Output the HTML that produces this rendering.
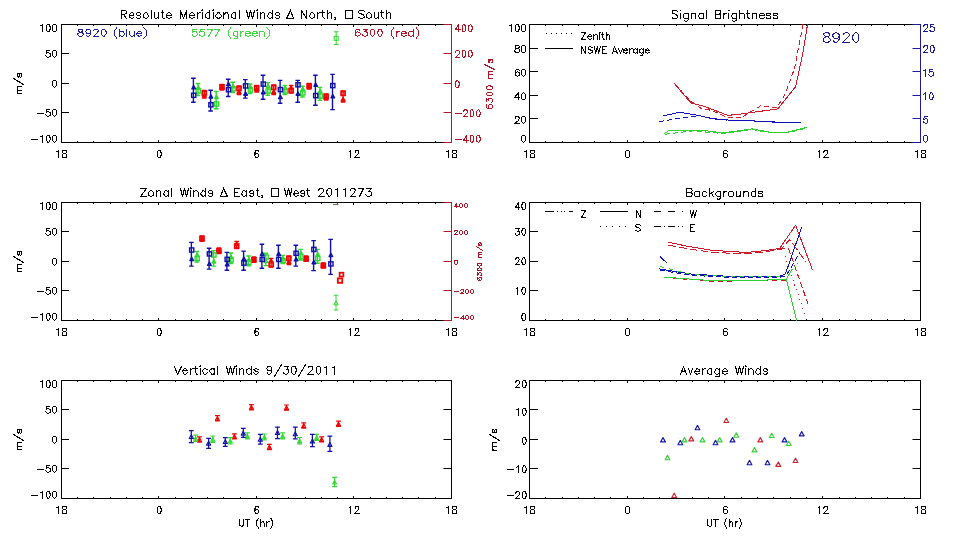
<!DOCTYPE html>
<html><head><meta charset="utf-8"><style>
html,body{margin:0;padding:0;background:#fff;}
svg{display:block;}
text{font-family:"Liberation Sans", sans-serif;}
</style></head><body>
<svg width="960" height="540" viewBox="0 0 960 540">
<rect width="960" height="540" fill="#fff"/>
<line x1="61.50" y1="142.50" x2="61.50" y2="140.00" stroke="#000000" stroke-width="1.0" />
<line x1="61.50" y1="24.50" x2="61.50" y2="27.00" stroke="#000000" stroke-width="1.0" />
<line x1="77.50" y1="142.50" x2="77.50" y2="141.00" stroke="#000000" stroke-width="1.0" />
<line x1="77.50" y1="24.50" x2="77.50" y2="26.00" stroke="#000000" stroke-width="1.0" />
<line x1="93.50" y1="142.50" x2="93.50" y2="141.00" stroke="#000000" stroke-width="1.0" />
<line x1="93.50" y1="24.50" x2="93.50" y2="26.00" stroke="#000000" stroke-width="1.0" />
<line x1="110.50" y1="142.50" x2="110.50" y2="141.00" stroke="#000000" stroke-width="1.0" />
<line x1="110.50" y1="24.50" x2="110.50" y2="26.00" stroke="#000000" stroke-width="1.0" />
<line x1="126.50" y1="142.50" x2="126.50" y2="141.00" stroke="#000000" stroke-width="1.0" />
<line x1="126.50" y1="24.50" x2="126.50" y2="26.00" stroke="#000000" stroke-width="1.0" />
<line x1="142.50" y1="142.50" x2="142.50" y2="141.00" stroke="#000000" stroke-width="1.0" />
<line x1="142.50" y1="24.50" x2="142.50" y2="26.00" stroke="#000000" stroke-width="1.0" />
<line x1="158.50" y1="142.50" x2="158.50" y2="140.00" stroke="#000000" stroke-width="1.0" />
<line x1="158.50" y1="24.50" x2="158.50" y2="27.00" stroke="#000000" stroke-width="1.0" />
<line x1="175.50" y1="142.50" x2="175.50" y2="141.00" stroke="#000000" stroke-width="1.0" />
<line x1="175.50" y1="24.50" x2="175.50" y2="26.00" stroke="#000000" stroke-width="1.0" />
<line x1="191.50" y1="142.50" x2="191.50" y2="141.00" stroke="#000000" stroke-width="1.0" />
<line x1="191.50" y1="24.50" x2="191.50" y2="26.00" stroke="#000000" stroke-width="1.0" />
<line x1="207.50" y1="142.50" x2="207.50" y2="141.00" stroke="#000000" stroke-width="1.0" />
<line x1="207.50" y1="24.50" x2="207.50" y2="26.00" stroke="#000000" stroke-width="1.0" />
<line x1="223.50" y1="142.50" x2="223.50" y2="141.00" stroke="#000000" stroke-width="1.0" />
<line x1="223.50" y1="24.50" x2="223.50" y2="26.00" stroke="#000000" stroke-width="1.0" />
<line x1="240.50" y1="142.50" x2="240.50" y2="141.00" stroke="#000000" stroke-width="1.0" />
<line x1="240.50" y1="24.50" x2="240.50" y2="26.00" stroke="#000000" stroke-width="1.0" />
<line x1="256.50" y1="142.50" x2="256.50" y2="140.00" stroke="#000000" stroke-width="1.0" />
<line x1="256.50" y1="24.50" x2="256.50" y2="27.00" stroke="#000000" stroke-width="1.0" />
<line x1="272.50" y1="142.50" x2="272.50" y2="141.00" stroke="#000000" stroke-width="1.0" />
<line x1="272.50" y1="24.50" x2="272.50" y2="26.00" stroke="#000000" stroke-width="1.0" />
<line x1="288.50" y1="142.50" x2="288.50" y2="141.00" stroke="#000000" stroke-width="1.0" />
<line x1="288.50" y1="24.50" x2="288.50" y2="26.00" stroke="#000000" stroke-width="1.0" />
<line x1="305.50" y1="142.50" x2="305.50" y2="141.00" stroke="#000000" stroke-width="1.0" />
<line x1="305.50" y1="24.50" x2="305.50" y2="26.00" stroke="#000000" stroke-width="1.0" />
<line x1="321.50" y1="142.50" x2="321.50" y2="141.00" stroke="#000000" stroke-width="1.0" />
<line x1="321.50" y1="24.50" x2="321.50" y2="26.00" stroke="#000000" stroke-width="1.0" />
<line x1="337.50" y1="142.50" x2="337.50" y2="141.00" stroke="#000000" stroke-width="1.0" />
<line x1="337.50" y1="24.50" x2="337.50" y2="26.00" stroke="#000000" stroke-width="1.0" />
<line x1="353.50" y1="142.50" x2="353.50" y2="140.00" stroke="#000000" stroke-width="1.0" />
<line x1="353.50" y1="24.50" x2="353.50" y2="27.00" stroke="#000000" stroke-width="1.0" />
<line x1="370.50" y1="142.50" x2="370.50" y2="141.00" stroke="#000000" stroke-width="1.0" />
<line x1="370.50" y1="24.50" x2="370.50" y2="26.00" stroke="#000000" stroke-width="1.0" />
<line x1="386.50" y1="142.50" x2="386.50" y2="141.00" stroke="#000000" stroke-width="1.0" />
<line x1="386.50" y1="24.50" x2="386.50" y2="26.00" stroke="#000000" stroke-width="1.0" />
<line x1="402.50" y1="142.50" x2="402.50" y2="141.00" stroke="#000000" stroke-width="1.0" />
<line x1="402.50" y1="24.50" x2="402.50" y2="26.00" stroke="#000000" stroke-width="1.0" />
<line x1="418.50" y1="142.50" x2="418.50" y2="141.00" stroke="#000000" stroke-width="1.0" />
<line x1="418.50" y1="24.50" x2="418.50" y2="26.00" stroke="#000000" stroke-width="1.0" />
<line x1="435.50" y1="142.50" x2="435.50" y2="141.00" stroke="#000000" stroke-width="1.0" />
<line x1="435.50" y1="24.50" x2="435.50" y2="26.00" stroke="#000000" stroke-width="1.0" />
<line x1="451.50" y1="142.50" x2="451.50" y2="140.00" stroke="#000000" stroke-width="1.0" />
<line x1="451.50" y1="24.50" x2="451.50" y2="27.00" stroke="#000000" stroke-width="1.0" />
<line x1="61.00" y1="142.50" x2="452.00" y2="142.50" stroke="#000000" stroke-width="1.0" />
<line x1="61.00" y1="24.50" x2="452.00" y2="24.50" stroke="#000000" stroke-width="1.0" />
<line x1="61.50" y1="24.00" x2="61.50" y2="143.00" stroke="#000000" stroke-width="1.0" />
<line x1="61.50" y1="24.50" x2="69.00" y2="24.50" stroke="#000000" stroke-width="1.0" />
<line x1="61.50" y1="53.50" x2="69.00" y2="53.50" stroke="#000000" stroke-width="1.0" />
<line x1="61.50" y1="83.50" x2="69.00" y2="83.50" stroke="#000000" stroke-width="1.0" />
<line x1="61.50" y1="112.50" x2="69.00" y2="112.50" stroke="#000000" stroke-width="1.0" />
<line x1="61.50" y1="142.50" x2="69.00" y2="142.50" stroke="#000000" stroke-width="1.0" />
<line x1="529.50" y1="142.50" x2="529.50" y2="140.00" stroke="#000000" stroke-width="1.0" />
<line x1="529.50" y1="24.50" x2="529.50" y2="27.00" stroke="#000000" stroke-width="1.0" />
<line x1="545.50" y1="142.50" x2="545.50" y2="141.00" stroke="#000000" stroke-width="1.0" />
<line x1="545.50" y1="24.50" x2="545.50" y2="26.00" stroke="#000000" stroke-width="1.0" />
<line x1="562.50" y1="142.50" x2="562.50" y2="141.00" stroke="#000000" stroke-width="1.0" />
<line x1="562.50" y1="24.50" x2="562.50" y2="26.00" stroke="#000000" stroke-width="1.0" />
<line x1="578.50" y1="142.50" x2="578.50" y2="141.00" stroke="#000000" stroke-width="1.0" />
<line x1="578.50" y1="24.50" x2="578.50" y2="26.00" stroke="#000000" stroke-width="1.0" />
<line x1="594.50" y1="142.50" x2="594.50" y2="141.00" stroke="#000000" stroke-width="1.0" />
<line x1="594.50" y1="24.50" x2="594.50" y2="26.00" stroke="#000000" stroke-width="1.0" />
<line x1="610.50" y1="142.50" x2="610.50" y2="141.00" stroke="#000000" stroke-width="1.0" />
<line x1="610.50" y1="24.50" x2="610.50" y2="26.00" stroke="#000000" stroke-width="1.0" />
<line x1="627.50" y1="142.50" x2="627.50" y2="140.00" stroke="#000000" stroke-width="1.0" />
<line x1="627.50" y1="24.50" x2="627.50" y2="27.00" stroke="#000000" stroke-width="1.0" />
<line x1="643.50" y1="142.50" x2="643.50" y2="141.00" stroke="#000000" stroke-width="1.0" />
<line x1="643.50" y1="24.50" x2="643.50" y2="26.00" stroke="#000000" stroke-width="1.0" />
<line x1="659.50" y1="142.50" x2="659.50" y2="141.00" stroke="#000000" stroke-width="1.0" />
<line x1="659.50" y1="24.50" x2="659.50" y2="26.00" stroke="#000000" stroke-width="1.0" />
<line x1="676.50" y1="142.50" x2="676.50" y2="141.00" stroke="#000000" stroke-width="1.0" />
<line x1="676.50" y1="24.50" x2="676.50" y2="26.00" stroke="#000000" stroke-width="1.0" />
<line x1="692.50" y1="142.50" x2="692.50" y2="141.00" stroke="#000000" stroke-width="1.0" />
<line x1="692.50" y1="24.50" x2="692.50" y2="26.00" stroke="#000000" stroke-width="1.0" />
<line x1="708.50" y1="142.50" x2="708.50" y2="141.00" stroke="#000000" stroke-width="1.0" />
<line x1="708.50" y1="24.50" x2="708.50" y2="26.00" stroke="#000000" stroke-width="1.0" />
<line x1="724.50" y1="142.50" x2="724.50" y2="140.00" stroke="#000000" stroke-width="1.0" />
<line x1="724.50" y1="24.50" x2="724.50" y2="27.00" stroke="#000000" stroke-width="1.0" />
<line x1="741.50" y1="142.50" x2="741.50" y2="141.00" stroke="#000000" stroke-width="1.0" />
<line x1="741.50" y1="24.50" x2="741.50" y2="26.00" stroke="#000000" stroke-width="1.0" />
<line x1="757.50" y1="142.50" x2="757.50" y2="141.00" stroke="#000000" stroke-width="1.0" />
<line x1="757.50" y1="24.50" x2="757.50" y2="26.00" stroke="#000000" stroke-width="1.0" />
<line x1="773.50" y1="142.50" x2="773.50" y2="141.00" stroke="#000000" stroke-width="1.0" />
<line x1="773.50" y1="24.50" x2="773.50" y2="26.00" stroke="#000000" stroke-width="1.0" />
<line x1="790.50" y1="142.50" x2="790.50" y2="141.00" stroke="#000000" stroke-width="1.0" />
<line x1="790.50" y1="24.50" x2="790.50" y2="26.00" stroke="#000000" stroke-width="1.0" />
<line x1="806.50" y1="142.50" x2="806.50" y2="141.00" stroke="#000000" stroke-width="1.0" />
<line x1="806.50" y1="24.50" x2="806.50" y2="26.00" stroke="#000000" stroke-width="1.0" />
<line x1="822.50" y1="142.50" x2="822.50" y2="140.00" stroke="#000000" stroke-width="1.0" />
<line x1="822.50" y1="24.50" x2="822.50" y2="27.00" stroke="#000000" stroke-width="1.0" />
<line x1="839.50" y1="142.50" x2="839.50" y2="141.00" stroke="#000000" stroke-width="1.0" />
<line x1="839.50" y1="24.50" x2="839.50" y2="26.00" stroke="#000000" stroke-width="1.0" />
<line x1="855.50" y1="142.50" x2="855.50" y2="141.00" stroke="#000000" stroke-width="1.0" />
<line x1="855.50" y1="24.50" x2="855.50" y2="26.00" stroke="#000000" stroke-width="1.0" />
<line x1="871.50" y1="142.50" x2="871.50" y2="141.00" stroke="#000000" stroke-width="1.0" />
<line x1="871.50" y1="24.50" x2="871.50" y2="26.00" stroke="#000000" stroke-width="1.0" />
<line x1="887.50" y1="142.50" x2="887.50" y2="141.00" stroke="#000000" stroke-width="1.0" />
<line x1="887.50" y1="24.50" x2="887.50" y2="26.00" stroke="#000000" stroke-width="1.0" />
<line x1="904.50" y1="142.50" x2="904.50" y2="141.00" stroke="#000000" stroke-width="1.0" />
<line x1="904.50" y1="24.50" x2="904.50" y2="26.00" stroke="#000000" stroke-width="1.0" />
<line x1="920.50" y1="142.50" x2="920.50" y2="140.00" stroke="#000000" stroke-width="1.0" />
<line x1="920.50" y1="24.50" x2="920.50" y2="27.00" stroke="#000000" stroke-width="1.0" />
<line x1="529.00" y1="142.50" x2="921.00" y2="142.50" stroke="#000000" stroke-width="1.0" />
<line x1="529.00" y1="24.50" x2="921.00" y2="24.50" stroke="#000000" stroke-width="1.0" />
<line x1="529.50" y1="24.00" x2="529.50" y2="143.00" stroke="#000000" stroke-width="1.0" />
<line x1="529.50" y1="24.50" x2="538.00" y2="24.50" stroke="#000000" stroke-width="1.0" />
<line x1="529.50" y1="48.50" x2="538.00" y2="48.50" stroke="#000000" stroke-width="1.0" />
<line x1="529.50" y1="71.50" x2="538.00" y2="71.50" stroke="#000000" stroke-width="1.0" />
<line x1="529.50" y1="95.50" x2="538.00" y2="95.50" stroke="#000000" stroke-width="1.0" />
<line x1="529.50" y1="118.50" x2="538.00" y2="118.50" stroke="#000000" stroke-width="1.0" />
<line x1="529.50" y1="142.50" x2="538.00" y2="142.50" stroke="#000000" stroke-width="1.0" />
<line x1="61.50" y1="320.50" x2="61.50" y2="318.00" stroke="#000000" stroke-width="1.0" />
<line x1="61.50" y1="202.50" x2="61.50" y2="205.00" stroke="#000000" stroke-width="1.0" />
<line x1="77.50" y1="320.50" x2="77.50" y2="319.00" stroke="#000000" stroke-width="1.0" />
<line x1="77.50" y1="202.50" x2="77.50" y2="204.00" stroke="#000000" stroke-width="1.0" />
<line x1="93.50" y1="320.50" x2="93.50" y2="319.00" stroke="#000000" stroke-width="1.0" />
<line x1="93.50" y1="202.50" x2="93.50" y2="204.00" stroke="#000000" stroke-width="1.0" />
<line x1="110.50" y1="320.50" x2="110.50" y2="319.00" stroke="#000000" stroke-width="1.0" />
<line x1="110.50" y1="202.50" x2="110.50" y2="204.00" stroke="#000000" stroke-width="1.0" />
<line x1="126.50" y1="320.50" x2="126.50" y2="319.00" stroke="#000000" stroke-width="1.0" />
<line x1="126.50" y1="202.50" x2="126.50" y2="204.00" stroke="#000000" stroke-width="1.0" />
<line x1="142.50" y1="320.50" x2="142.50" y2="319.00" stroke="#000000" stroke-width="1.0" />
<line x1="142.50" y1="202.50" x2="142.50" y2="204.00" stroke="#000000" stroke-width="1.0" />
<line x1="158.50" y1="320.50" x2="158.50" y2="318.00" stroke="#000000" stroke-width="1.0" />
<line x1="158.50" y1="202.50" x2="158.50" y2="205.00" stroke="#000000" stroke-width="1.0" />
<line x1="175.50" y1="320.50" x2="175.50" y2="319.00" stroke="#000000" stroke-width="1.0" />
<line x1="175.50" y1="202.50" x2="175.50" y2="204.00" stroke="#000000" stroke-width="1.0" />
<line x1="191.50" y1="320.50" x2="191.50" y2="319.00" stroke="#000000" stroke-width="1.0" />
<line x1="191.50" y1="202.50" x2="191.50" y2="204.00" stroke="#000000" stroke-width="1.0" />
<line x1="207.50" y1="320.50" x2="207.50" y2="319.00" stroke="#000000" stroke-width="1.0" />
<line x1="207.50" y1="202.50" x2="207.50" y2="204.00" stroke="#000000" stroke-width="1.0" />
<line x1="223.50" y1="320.50" x2="223.50" y2="319.00" stroke="#000000" stroke-width="1.0" />
<line x1="223.50" y1="202.50" x2="223.50" y2="204.00" stroke="#000000" stroke-width="1.0" />
<line x1="240.50" y1="320.50" x2="240.50" y2="319.00" stroke="#000000" stroke-width="1.0" />
<line x1="240.50" y1="202.50" x2="240.50" y2="204.00" stroke="#000000" stroke-width="1.0" />
<line x1="256.50" y1="320.50" x2="256.50" y2="318.00" stroke="#000000" stroke-width="1.0" />
<line x1="256.50" y1="202.50" x2="256.50" y2="205.00" stroke="#000000" stroke-width="1.0" />
<line x1="272.50" y1="320.50" x2="272.50" y2="319.00" stroke="#000000" stroke-width="1.0" />
<line x1="272.50" y1="202.50" x2="272.50" y2="204.00" stroke="#000000" stroke-width="1.0" />
<line x1="288.50" y1="320.50" x2="288.50" y2="319.00" stroke="#000000" stroke-width="1.0" />
<line x1="288.50" y1="202.50" x2="288.50" y2="204.00" stroke="#000000" stroke-width="1.0" />
<line x1="305.50" y1="320.50" x2="305.50" y2="319.00" stroke="#000000" stroke-width="1.0" />
<line x1="305.50" y1="202.50" x2="305.50" y2="204.00" stroke="#000000" stroke-width="1.0" />
<line x1="321.50" y1="320.50" x2="321.50" y2="319.00" stroke="#000000" stroke-width="1.0" />
<line x1="321.50" y1="202.50" x2="321.50" y2="204.00" stroke="#000000" stroke-width="1.0" />
<line x1="337.50" y1="320.50" x2="337.50" y2="319.00" stroke="#000000" stroke-width="1.0" />
<line x1="337.50" y1="202.50" x2="337.50" y2="204.00" stroke="#000000" stroke-width="1.0" />
<line x1="353.50" y1="320.50" x2="353.50" y2="318.00" stroke="#000000" stroke-width="1.0" />
<line x1="353.50" y1="202.50" x2="353.50" y2="205.00" stroke="#000000" stroke-width="1.0" />
<line x1="370.50" y1="320.50" x2="370.50" y2="319.00" stroke="#000000" stroke-width="1.0" />
<line x1="370.50" y1="202.50" x2="370.50" y2="204.00" stroke="#000000" stroke-width="1.0" />
<line x1="386.50" y1="320.50" x2="386.50" y2="319.00" stroke="#000000" stroke-width="1.0" />
<line x1="386.50" y1="202.50" x2="386.50" y2="204.00" stroke="#000000" stroke-width="1.0" />
<line x1="402.50" y1="320.50" x2="402.50" y2="319.00" stroke="#000000" stroke-width="1.0" />
<line x1="402.50" y1="202.50" x2="402.50" y2="204.00" stroke="#000000" stroke-width="1.0" />
<line x1="418.50" y1="320.50" x2="418.50" y2="319.00" stroke="#000000" stroke-width="1.0" />
<line x1="418.50" y1="202.50" x2="418.50" y2="204.00" stroke="#000000" stroke-width="1.0" />
<line x1="435.50" y1="320.50" x2="435.50" y2="319.00" stroke="#000000" stroke-width="1.0" />
<line x1="435.50" y1="202.50" x2="435.50" y2="204.00" stroke="#000000" stroke-width="1.0" />
<line x1="451.50" y1="320.50" x2="451.50" y2="318.00" stroke="#000000" stroke-width="1.0" />
<line x1="451.50" y1="202.50" x2="451.50" y2="205.00" stroke="#000000" stroke-width="1.0" />
<line x1="61.00" y1="320.50" x2="452.00" y2="320.50" stroke="#000000" stroke-width="1.0" />
<line x1="61.00" y1="202.50" x2="452.00" y2="202.50" stroke="#000000" stroke-width="1.0" />
<line x1="61.50" y1="202.00" x2="61.50" y2="321.00" stroke="#000000" stroke-width="1.0" />
<line x1="61.50" y1="202.50" x2="69.00" y2="202.50" stroke="#000000" stroke-width="1.0" />
<line x1="61.50" y1="231.50" x2="69.00" y2="231.50" stroke="#000000" stroke-width="1.0" />
<line x1="61.50" y1="261.50" x2="69.00" y2="261.50" stroke="#000000" stroke-width="1.0" />
<line x1="61.50" y1="290.50" x2="69.00" y2="290.50" stroke="#000000" stroke-width="1.0" />
<line x1="61.50" y1="320.50" x2="69.00" y2="320.50" stroke="#000000" stroke-width="1.0" />
<line x1="529.50" y1="320.50" x2="529.50" y2="318.00" stroke="#000000" stroke-width="1.0" />
<line x1="529.50" y1="202.50" x2="529.50" y2="205.00" stroke="#000000" stroke-width="1.0" />
<line x1="545.50" y1="320.50" x2="545.50" y2="319.00" stroke="#000000" stroke-width="1.0" />
<line x1="545.50" y1="202.50" x2="545.50" y2="204.00" stroke="#000000" stroke-width="1.0" />
<line x1="562.50" y1="320.50" x2="562.50" y2="319.00" stroke="#000000" stroke-width="1.0" />
<line x1="562.50" y1="202.50" x2="562.50" y2="204.00" stroke="#000000" stroke-width="1.0" />
<line x1="578.50" y1="320.50" x2="578.50" y2="319.00" stroke="#000000" stroke-width="1.0" />
<line x1="578.50" y1="202.50" x2="578.50" y2="204.00" stroke="#000000" stroke-width="1.0" />
<line x1="594.50" y1="320.50" x2="594.50" y2="319.00" stroke="#000000" stroke-width="1.0" />
<line x1="594.50" y1="202.50" x2="594.50" y2="204.00" stroke="#000000" stroke-width="1.0" />
<line x1="610.50" y1="320.50" x2="610.50" y2="319.00" stroke="#000000" stroke-width="1.0" />
<line x1="610.50" y1="202.50" x2="610.50" y2="204.00" stroke="#000000" stroke-width="1.0" />
<line x1="627.50" y1="320.50" x2="627.50" y2="318.00" stroke="#000000" stroke-width="1.0" />
<line x1="627.50" y1="202.50" x2="627.50" y2="205.00" stroke="#000000" stroke-width="1.0" />
<line x1="643.50" y1="320.50" x2="643.50" y2="319.00" stroke="#000000" stroke-width="1.0" />
<line x1="643.50" y1="202.50" x2="643.50" y2="204.00" stroke="#000000" stroke-width="1.0" />
<line x1="659.50" y1="320.50" x2="659.50" y2="319.00" stroke="#000000" stroke-width="1.0" />
<line x1="659.50" y1="202.50" x2="659.50" y2="204.00" stroke="#000000" stroke-width="1.0" />
<line x1="676.50" y1="320.50" x2="676.50" y2="319.00" stroke="#000000" stroke-width="1.0" />
<line x1="676.50" y1="202.50" x2="676.50" y2="204.00" stroke="#000000" stroke-width="1.0" />
<line x1="692.50" y1="320.50" x2="692.50" y2="319.00" stroke="#000000" stroke-width="1.0" />
<line x1="692.50" y1="202.50" x2="692.50" y2="204.00" stroke="#000000" stroke-width="1.0" />
<line x1="708.50" y1="320.50" x2="708.50" y2="319.00" stroke="#000000" stroke-width="1.0" />
<line x1="708.50" y1="202.50" x2="708.50" y2="204.00" stroke="#000000" stroke-width="1.0" />
<line x1="724.50" y1="320.50" x2="724.50" y2="318.00" stroke="#000000" stroke-width="1.0" />
<line x1="724.50" y1="202.50" x2="724.50" y2="205.00" stroke="#000000" stroke-width="1.0" />
<line x1="741.50" y1="320.50" x2="741.50" y2="319.00" stroke="#000000" stroke-width="1.0" />
<line x1="741.50" y1="202.50" x2="741.50" y2="204.00" stroke="#000000" stroke-width="1.0" />
<line x1="757.50" y1="320.50" x2="757.50" y2="319.00" stroke="#000000" stroke-width="1.0" />
<line x1="757.50" y1="202.50" x2="757.50" y2="204.00" stroke="#000000" stroke-width="1.0" />
<line x1="773.50" y1="320.50" x2="773.50" y2="319.00" stroke="#000000" stroke-width="1.0" />
<line x1="773.50" y1="202.50" x2="773.50" y2="204.00" stroke="#000000" stroke-width="1.0" />
<line x1="790.50" y1="320.50" x2="790.50" y2="319.00" stroke="#000000" stroke-width="1.0" />
<line x1="790.50" y1="202.50" x2="790.50" y2="204.00" stroke="#000000" stroke-width="1.0" />
<line x1="806.50" y1="320.50" x2="806.50" y2="319.00" stroke="#000000" stroke-width="1.0" />
<line x1="806.50" y1="202.50" x2="806.50" y2="204.00" stroke="#000000" stroke-width="1.0" />
<line x1="822.50" y1="320.50" x2="822.50" y2="318.00" stroke="#000000" stroke-width="1.0" />
<line x1="822.50" y1="202.50" x2="822.50" y2="205.00" stroke="#000000" stroke-width="1.0" />
<line x1="839.50" y1="320.50" x2="839.50" y2="319.00" stroke="#000000" stroke-width="1.0" />
<line x1="839.50" y1="202.50" x2="839.50" y2="204.00" stroke="#000000" stroke-width="1.0" />
<line x1="855.50" y1="320.50" x2="855.50" y2="319.00" stroke="#000000" stroke-width="1.0" />
<line x1="855.50" y1="202.50" x2="855.50" y2="204.00" stroke="#000000" stroke-width="1.0" />
<line x1="871.50" y1="320.50" x2="871.50" y2="319.00" stroke="#000000" stroke-width="1.0" />
<line x1="871.50" y1="202.50" x2="871.50" y2="204.00" stroke="#000000" stroke-width="1.0" />
<line x1="887.50" y1="320.50" x2="887.50" y2="319.00" stroke="#000000" stroke-width="1.0" />
<line x1="887.50" y1="202.50" x2="887.50" y2="204.00" stroke="#000000" stroke-width="1.0" />
<line x1="904.50" y1="320.50" x2="904.50" y2="319.00" stroke="#000000" stroke-width="1.0" />
<line x1="904.50" y1="202.50" x2="904.50" y2="204.00" stroke="#000000" stroke-width="1.0" />
<line x1="920.50" y1="320.50" x2="920.50" y2="318.00" stroke="#000000" stroke-width="1.0" />
<line x1="920.50" y1="202.50" x2="920.50" y2="205.00" stroke="#000000" stroke-width="1.0" />
<line x1="529.00" y1="320.50" x2="921.00" y2="320.50" stroke="#000000" stroke-width="1.0" />
<line x1="529.00" y1="202.50" x2="921.00" y2="202.50" stroke="#000000" stroke-width="1.0" />
<line x1="529.50" y1="202.00" x2="529.50" y2="321.00" stroke="#000000" stroke-width="1.0" />
<line x1="529.50" y1="202.50" x2="538.00" y2="202.50" stroke="#000000" stroke-width="1.0" />
<line x1="529.50" y1="231.50" x2="538.00" y2="231.50" stroke="#000000" stroke-width="1.0" />
<line x1="529.50" y1="261.50" x2="538.00" y2="261.50" stroke="#000000" stroke-width="1.0" />
<line x1="529.50" y1="290.50" x2="538.00" y2="290.50" stroke="#000000" stroke-width="1.0" />
<line x1="529.50" y1="320.50" x2="538.00" y2="320.50" stroke="#000000" stroke-width="1.0" />
<line x1="61.50" y1="498.50" x2="61.50" y2="496.00" stroke="#000000" stroke-width="1.0" />
<line x1="61.50" y1="380.50" x2="61.50" y2="383.00" stroke="#000000" stroke-width="1.0" />
<line x1="77.50" y1="498.50" x2="77.50" y2="497.00" stroke="#000000" stroke-width="1.0" />
<line x1="77.50" y1="380.50" x2="77.50" y2="382.00" stroke="#000000" stroke-width="1.0" />
<line x1="93.50" y1="498.50" x2="93.50" y2="497.00" stroke="#000000" stroke-width="1.0" />
<line x1="93.50" y1="380.50" x2="93.50" y2="382.00" stroke="#000000" stroke-width="1.0" />
<line x1="110.50" y1="498.50" x2="110.50" y2="497.00" stroke="#000000" stroke-width="1.0" />
<line x1="110.50" y1="380.50" x2="110.50" y2="382.00" stroke="#000000" stroke-width="1.0" />
<line x1="126.50" y1="498.50" x2="126.50" y2="497.00" stroke="#000000" stroke-width="1.0" />
<line x1="126.50" y1="380.50" x2="126.50" y2="382.00" stroke="#000000" stroke-width="1.0" />
<line x1="142.50" y1="498.50" x2="142.50" y2="497.00" stroke="#000000" stroke-width="1.0" />
<line x1="142.50" y1="380.50" x2="142.50" y2="382.00" stroke="#000000" stroke-width="1.0" />
<line x1="158.50" y1="498.50" x2="158.50" y2="496.00" stroke="#000000" stroke-width="1.0" />
<line x1="158.50" y1="380.50" x2="158.50" y2="383.00" stroke="#000000" stroke-width="1.0" />
<line x1="175.50" y1="498.50" x2="175.50" y2="497.00" stroke="#000000" stroke-width="1.0" />
<line x1="175.50" y1="380.50" x2="175.50" y2="382.00" stroke="#000000" stroke-width="1.0" />
<line x1="191.50" y1="498.50" x2="191.50" y2="497.00" stroke="#000000" stroke-width="1.0" />
<line x1="191.50" y1="380.50" x2="191.50" y2="382.00" stroke="#000000" stroke-width="1.0" />
<line x1="207.50" y1="498.50" x2="207.50" y2="497.00" stroke="#000000" stroke-width="1.0" />
<line x1="207.50" y1="380.50" x2="207.50" y2="382.00" stroke="#000000" stroke-width="1.0" />
<line x1="223.50" y1="498.50" x2="223.50" y2="497.00" stroke="#000000" stroke-width="1.0" />
<line x1="223.50" y1="380.50" x2="223.50" y2="382.00" stroke="#000000" stroke-width="1.0" />
<line x1="240.50" y1="498.50" x2="240.50" y2="497.00" stroke="#000000" stroke-width="1.0" />
<line x1="240.50" y1="380.50" x2="240.50" y2="382.00" stroke="#000000" stroke-width="1.0" />
<line x1="256.50" y1="498.50" x2="256.50" y2="496.00" stroke="#000000" stroke-width="1.0" />
<line x1="256.50" y1="380.50" x2="256.50" y2="383.00" stroke="#000000" stroke-width="1.0" />
<line x1="272.50" y1="498.50" x2="272.50" y2="497.00" stroke="#000000" stroke-width="1.0" />
<line x1="272.50" y1="380.50" x2="272.50" y2="382.00" stroke="#000000" stroke-width="1.0" />
<line x1="288.50" y1="498.50" x2="288.50" y2="497.00" stroke="#000000" stroke-width="1.0" />
<line x1="288.50" y1="380.50" x2="288.50" y2="382.00" stroke="#000000" stroke-width="1.0" />
<line x1="305.50" y1="498.50" x2="305.50" y2="497.00" stroke="#000000" stroke-width="1.0" />
<line x1="305.50" y1="380.50" x2="305.50" y2="382.00" stroke="#000000" stroke-width="1.0" />
<line x1="321.50" y1="498.50" x2="321.50" y2="497.00" stroke="#000000" stroke-width="1.0" />
<line x1="321.50" y1="380.50" x2="321.50" y2="382.00" stroke="#000000" stroke-width="1.0" />
<line x1="337.50" y1="498.50" x2="337.50" y2="497.00" stroke="#000000" stroke-width="1.0" />
<line x1="337.50" y1="380.50" x2="337.50" y2="382.00" stroke="#000000" stroke-width="1.0" />
<line x1="353.50" y1="498.50" x2="353.50" y2="496.00" stroke="#000000" stroke-width="1.0" />
<line x1="353.50" y1="380.50" x2="353.50" y2="383.00" stroke="#000000" stroke-width="1.0" />
<line x1="370.50" y1="498.50" x2="370.50" y2="497.00" stroke="#000000" stroke-width="1.0" />
<line x1="370.50" y1="380.50" x2="370.50" y2="382.00" stroke="#000000" stroke-width="1.0" />
<line x1="386.50" y1="498.50" x2="386.50" y2="497.00" stroke="#000000" stroke-width="1.0" />
<line x1="386.50" y1="380.50" x2="386.50" y2="382.00" stroke="#000000" stroke-width="1.0" />
<line x1="402.50" y1="498.50" x2="402.50" y2="497.00" stroke="#000000" stroke-width="1.0" />
<line x1="402.50" y1="380.50" x2="402.50" y2="382.00" stroke="#000000" stroke-width="1.0" />
<line x1="418.50" y1="498.50" x2="418.50" y2="497.00" stroke="#000000" stroke-width="1.0" />
<line x1="418.50" y1="380.50" x2="418.50" y2="382.00" stroke="#000000" stroke-width="1.0" />
<line x1="435.50" y1="498.50" x2="435.50" y2="497.00" stroke="#000000" stroke-width="1.0" />
<line x1="435.50" y1="380.50" x2="435.50" y2="382.00" stroke="#000000" stroke-width="1.0" />
<line x1="451.50" y1="498.50" x2="451.50" y2="496.00" stroke="#000000" stroke-width="1.0" />
<line x1="451.50" y1="380.50" x2="451.50" y2="383.00" stroke="#000000" stroke-width="1.0" />
<line x1="61.00" y1="498.50" x2="452.00" y2="498.50" stroke="#000000" stroke-width="1.0" />
<line x1="61.00" y1="380.50" x2="452.00" y2="380.50" stroke="#000000" stroke-width="1.0" />
<line x1="61.50" y1="380.00" x2="61.50" y2="499.00" stroke="#000000" stroke-width="1.0" />
<line x1="61.50" y1="380.50" x2="69.00" y2="380.50" stroke="#000000" stroke-width="1.0" />
<line x1="61.50" y1="409.50" x2="69.00" y2="409.50" stroke="#000000" stroke-width="1.0" />
<line x1="61.50" y1="439.50" x2="69.00" y2="439.50" stroke="#000000" stroke-width="1.0" />
<line x1="61.50" y1="468.50" x2="69.00" y2="468.50" stroke="#000000" stroke-width="1.0" />
<line x1="61.50" y1="498.50" x2="69.00" y2="498.50" stroke="#000000" stroke-width="1.0" />
<line x1="529.50" y1="498.50" x2="529.50" y2="496.00" stroke="#000000" stroke-width="1.0" />
<line x1="529.50" y1="380.50" x2="529.50" y2="383.00" stroke="#000000" stroke-width="1.0" />
<line x1="545.50" y1="498.50" x2="545.50" y2="497.00" stroke="#000000" stroke-width="1.0" />
<line x1="545.50" y1="380.50" x2="545.50" y2="382.00" stroke="#000000" stroke-width="1.0" />
<line x1="562.50" y1="498.50" x2="562.50" y2="497.00" stroke="#000000" stroke-width="1.0" />
<line x1="562.50" y1="380.50" x2="562.50" y2="382.00" stroke="#000000" stroke-width="1.0" />
<line x1="578.50" y1="498.50" x2="578.50" y2="497.00" stroke="#000000" stroke-width="1.0" />
<line x1="578.50" y1="380.50" x2="578.50" y2="382.00" stroke="#000000" stroke-width="1.0" />
<line x1="594.50" y1="498.50" x2="594.50" y2="497.00" stroke="#000000" stroke-width="1.0" />
<line x1="594.50" y1="380.50" x2="594.50" y2="382.00" stroke="#000000" stroke-width="1.0" />
<line x1="610.50" y1="498.50" x2="610.50" y2="497.00" stroke="#000000" stroke-width="1.0" />
<line x1="610.50" y1="380.50" x2="610.50" y2="382.00" stroke="#000000" stroke-width="1.0" />
<line x1="627.50" y1="498.50" x2="627.50" y2="496.00" stroke="#000000" stroke-width="1.0" />
<line x1="627.50" y1="380.50" x2="627.50" y2="383.00" stroke="#000000" stroke-width="1.0" />
<line x1="643.50" y1="498.50" x2="643.50" y2="497.00" stroke="#000000" stroke-width="1.0" />
<line x1="643.50" y1="380.50" x2="643.50" y2="382.00" stroke="#000000" stroke-width="1.0" />
<line x1="659.50" y1="498.50" x2="659.50" y2="497.00" stroke="#000000" stroke-width="1.0" />
<line x1="659.50" y1="380.50" x2="659.50" y2="382.00" stroke="#000000" stroke-width="1.0" />
<line x1="676.50" y1="498.50" x2="676.50" y2="497.00" stroke="#000000" stroke-width="1.0" />
<line x1="676.50" y1="380.50" x2="676.50" y2="382.00" stroke="#000000" stroke-width="1.0" />
<line x1="692.50" y1="498.50" x2="692.50" y2="497.00" stroke="#000000" stroke-width="1.0" />
<line x1="692.50" y1="380.50" x2="692.50" y2="382.00" stroke="#000000" stroke-width="1.0" />
<line x1="708.50" y1="498.50" x2="708.50" y2="497.00" stroke="#000000" stroke-width="1.0" />
<line x1="708.50" y1="380.50" x2="708.50" y2="382.00" stroke="#000000" stroke-width="1.0" />
<line x1="724.50" y1="498.50" x2="724.50" y2="496.00" stroke="#000000" stroke-width="1.0" />
<line x1="724.50" y1="380.50" x2="724.50" y2="383.00" stroke="#000000" stroke-width="1.0" />
<line x1="741.50" y1="498.50" x2="741.50" y2="497.00" stroke="#000000" stroke-width="1.0" />
<line x1="741.50" y1="380.50" x2="741.50" y2="382.00" stroke="#000000" stroke-width="1.0" />
<line x1="757.50" y1="498.50" x2="757.50" y2="497.00" stroke="#000000" stroke-width="1.0" />
<line x1="757.50" y1="380.50" x2="757.50" y2="382.00" stroke="#000000" stroke-width="1.0" />
<line x1="773.50" y1="498.50" x2="773.50" y2="497.00" stroke="#000000" stroke-width="1.0" />
<line x1="773.50" y1="380.50" x2="773.50" y2="382.00" stroke="#000000" stroke-width="1.0" />
<line x1="790.50" y1="498.50" x2="790.50" y2="497.00" stroke="#000000" stroke-width="1.0" />
<line x1="790.50" y1="380.50" x2="790.50" y2="382.00" stroke="#000000" stroke-width="1.0" />
<line x1="806.50" y1="498.50" x2="806.50" y2="497.00" stroke="#000000" stroke-width="1.0" />
<line x1="806.50" y1="380.50" x2="806.50" y2="382.00" stroke="#000000" stroke-width="1.0" />
<line x1="822.50" y1="498.50" x2="822.50" y2="496.00" stroke="#000000" stroke-width="1.0" />
<line x1="822.50" y1="380.50" x2="822.50" y2="383.00" stroke="#000000" stroke-width="1.0" />
<line x1="839.50" y1="498.50" x2="839.50" y2="497.00" stroke="#000000" stroke-width="1.0" />
<line x1="839.50" y1="380.50" x2="839.50" y2="382.00" stroke="#000000" stroke-width="1.0" />
<line x1="855.50" y1="498.50" x2="855.50" y2="497.00" stroke="#000000" stroke-width="1.0" />
<line x1="855.50" y1="380.50" x2="855.50" y2="382.00" stroke="#000000" stroke-width="1.0" />
<line x1="871.50" y1="498.50" x2="871.50" y2="497.00" stroke="#000000" stroke-width="1.0" />
<line x1="871.50" y1="380.50" x2="871.50" y2="382.00" stroke="#000000" stroke-width="1.0" />
<line x1="887.50" y1="498.50" x2="887.50" y2="497.00" stroke="#000000" stroke-width="1.0" />
<line x1="887.50" y1="380.50" x2="887.50" y2="382.00" stroke="#000000" stroke-width="1.0" />
<line x1="904.50" y1="498.50" x2="904.50" y2="497.00" stroke="#000000" stroke-width="1.0" />
<line x1="904.50" y1="380.50" x2="904.50" y2="382.00" stroke="#000000" stroke-width="1.0" />
<line x1="920.50" y1="498.50" x2="920.50" y2="496.00" stroke="#000000" stroke-width="1.0" />
<line x1="920.50" y1="380.50" x2="920.50" y2="383.00" stroke="#000000" stroke-width="1.0" />
<line x1="529.00" y1="498.50" x2="921.00" y2="498.50" stroke="#000000" stroke-width="1.0" />
<line x1="529.00" y1="380.50" x2="921.00" y2="380.50" stroke="#000000" stroke-width="1.0" />
<line x1="529.50" y1="380.00" x2="529.50" y2="499.00" stroke="#000000" stroke-width="1.0" />
<line x1="529.50" y1="380.50" x2="538.00" y2="380.50" stroke="#000000" stroke-width="1.0" />
<line x1="529.50" y1="409.50" x2="538.00" y2="409.50" stroke="#000000" stroke-width="1.0" />
<line x1="529.50" y1="439.50" x2="538.00" y2="439.50" stroke="#000000" stroke-width="1.0" />
<line x1="529.50" y1="468.50" x2="538.00" y2="468.50" stroke="#000000" stroke-width="1.0" />
<line x1="529.50" y1="498.50" x2="538.00" y2="498.50" stroke="#000000" stroke-width="1.0" />
<line x1="451.50" y1="24.00" x2="451.50" y2="143.00" stroke="#b01828" stroke-width="1.0" />
<line x1="443.50" y1="24.50" x2="451.50" y2="24.50" stroke="#b01828" stroke-width="1.0" />
<line x1="443.50" y1="53.50" x2="451.50" y2="53.50" stroke="#b01828" stroke-width="1.0" />
<line x1="443.50" y1="83.50" x2="451.50" y2="83.50" stroke="#b01828" stroke-width="1.0" />
<line x1="443.50" y1="112.50" x2="451.50" y2="112.50" stroke="#b01828" stroke-width="1.0" />
<line x1="443.50" y1="142.50" x2="451.50" y2="142.50" stroke="#b01828" stroke-width="1.0" />
<line x1="451.50" y1="202.00" x2="451.50" y2="321.00" stroke="#b01828" stroke-width="1.0" />
<line x1="443.50" y1="202.50" x2="451.50" y2="202.50" stroke="#b01828" stroke-width="1.0" />
<line x1="443.50" y1="231.50" x2="451.50" y2="231.50" stroke="#b01828" stroke-width="1.0" />
<line x1="443.50" y1="261.50" x2="451.50" y2="261.50" stroke="#b01828" stroke-width="1.0" />
<line x1="443.50" y1="290.50" x2="451.50" y2="290.50" stroke="#b01828" stroke-width="1.0" />
<line x1="443.50" y1="320.50" x2="451.50" y2="320.50" stroke="#b01828" stroke-width="1.0" />
<line x1="451.50" y1="380.00" x2="451.50" y2="499.00" stroke="#000000" stroke-width="1.0" />
<line x1="443.50" y1="380.50" x2="451.50" y2="380.50" stroke="#000000" stroke-width="1.0" />
<line x1="443.50" y1="409.50" x2="451.50" y2="409.50" stroke="#000000" stroke-width="1.0" />
<line x1="443.50" y1="439.50" x2="451.50" y2="439.50" stroke="#000000" stroke-width="1.0" />
<line x1="443.50" y1="468.50" x2="451.50" y2="468.50" stroke="#000000" stroke-width="1.0" />
<line x1="443.50" y1="498.50" x2="451.50" y2="498.50" stroke="#000000" stroke-width="1.0" />
<line x1="920.50" y1="24.00" x2="920.50" y2="143.00" stroke="#1c1c9c" stroke-width="1.0" />
<line x1="912.50" y1="24.50" x2="920.50" y2="24.50" stroke="#1c1c9c" stroke-width="1.0" />
<line x1="912.50" y1="48.50" x2="920.50" y2="48.50" stroke="#1c1c9c" stroke-width="1.0" />
<line x1="912.50" y1="71.50" x2="920.50" y2="71.50" stroke="#1c1c9c" stroke-width="1.0" />
<line x1="912.50" y1="95.50" x2="920.50" y2="95.50" stroke="#1c1c9c" stroke-width="1.0" />
<line x1="912.50" y1="118.50" x2="920.50" y2="118.50" stroke="#1c1c9c" stroke-width="1.0" />
<line x1="912.50" y1="142.50" x2="920.50" y2="142.50" stroke="#1c1c9c" stroke-width="1.0" />
<line x1="920.50" y1="202.00" x2="920.50" y2="321.00" stroke="#000000" stroke-width="1.0" />
<line x1="912.50" y1="202.50" x2="920.50" y2="202.50" stroke="#000000" stroke-width="1.0" />
<line x1="912.50" y1="231.50" x2="920.50" y2="231.50" stroke="#000000" stroke-width="1.0" />
<line x1="912.50" y1="261.50" x2="920.50" y2="261.50" stroke="#000000" stroke-width="1.0" />
<line x1="912.50" y1="290.50" x2="920.50" y2="290.50" stroke="#000000" stroke-width="1.0" />
<line x1="912.50" y1="320.50" x2="920.50" y2="320.50" stroke="#000000" stroke-width="1.0" />
<line x1="920.50" y1="380.00" x2="920.50" y2="499.00" stroke="#000000" stroke-width="1.0" />
<line x1="912.50" y1="380.50" x2="920.50" y2="380.50" stroke="#000000" stroke-width="1.0" />
<line x1="912.50" y1="409.50" x2="920.50" y2="409.50" stroke="#000000" stroke-width="1.0" />
<line x1="912.50" y1="439.50" x2="920.50" y2="439.50" stroke="#000000" stroke-width="1.0" />
<line x1="912.50" y1="468.50" x2="920.50" y2="468.50" stroke="#000000" stroke-width="1.0" />
<line x1="912.50" y1="498.50" x2="920.50" y2="498.50" stroke="#000000" stroke-width="1.0" />
<path d="M56.50,151.50 L57.50,151.50 L58.50,150.50 L58.50,157.50 M63.50,150.50 L62.50,150.50 L62.50,151.50 L62.50,152.50 L62.50,152.50 L63.50,153.50 L64.50,153.50 L65.50,153.50 L66.50,154.50 L66.50,155.50 L66.50,156.50 L66.50,156.50 L66.50,157.50 L65.50,157.50 L63.50,157.50 L62.50,157.50 L62.50,156.50 L62.50,156.50 L62.50,155.50 L62.50,154.50 L63.50,153.50 L64.50,153.50 L65.50,153.50 L66.50,152.50 L66.50,152.50 L66.50,151.50 L66.50,150.50 L65.50,150.50 L63.50,150.50" fill="none" stroke="#000000" stroke-width="1.05" stroke-linecap="square" stroke-linejoin="miter" shape-rendering="crispEdges"/>
<path d="M158.50,150.50 L158.50,150.50 L157.50,151.50 L157.50,153.50 L157.50,154.50 L157.50,156.50 L158.50,157.50 L158.50,157.50 L159.50,157.50 L160.50,157.50 L160.50,156.50 L161.50,154.50 L161.50,153.50 L160.50,151.50 L160.50,150.50 L159.50,150.50 L158.50,150.50" fill="none" stroke="#000000" stroke-width="1.05" stroke-linecap="square" stroke-linejoin="miter" shape-rendering="crispEdges"/>
<path d="M258.50,151.50 L258.50,150.50 L257.50,150.50 L256.50,150.50 L255.50,150.50 L255.50,151.50 L254.50,153.50 L254.50,155.50 L255.50,156.50 L255.50,157.50 L256.50,157.50 L256.50,157.50 L257.50,157.50 L258.50,156.50 L258.50,155.50 L258.50,155.50 L258.50,154.50 L257.50,153.50 L256.50,153.50 L256.50,153.50 L255.50,153.50 L255.50,154.50 L254.50,155.50" fill="none" stroke="#000000" stroke-width="1.05" stroke-linecap="square" stroke-linejoin="miter" shape-rendering="crispEdges"/>
<path d="M349.50,151.50 L349.50,151.50 L350.50,150.50 L350.50,157.50 M355.50,152.50 L355.50,151.50 L355.50,151.50 L355.50,150.50 L356.50,150.50 L357.50,150.50 L358.50,150.50 L358.50,151.50 L358.50,151.50 L358.50,152.50 L358.50,153.50 L357.50,154.50 L354.50,157.50 L359.50,157.50" fill="none" stroke="#000000" stroke-width="1.05" stroke-linecap="square" stroke-linejoin="miter" shape-rendering="crispEdges"/>
<path d="M446.50,151.50 L447.50,151.50 L448.50,150.50 L448.50,157.50 M453.50,150.50 L452.50,150.50 L452.50,151.50 L452.50,152.50 L452.50,152.50 L453.50,153.50 L454.50,153.50 L455.50,153.50 L456.50,154.50 L456.50,155.50 L456.50,156.50 L456.50,156.50 L456.50,157.50 L455.50,157.50 L453.50,157.50 L452.50,157.50 L452.50,156.50 L452.50,156.50 L452.50,155.50 L452.50,154.50 L453.50,153.50 L454.50,153.50 L455.50,153.50 L456.50,152.50 L456.50,152.50 L456.50,151.50 L456.50,150.50 L455.50,150.50 L453.50,150.50" fill="none" stroke="#000000" stroke-width="1.05" stroke-linecap="square" stroke-linejoin="miter" shape-rendering="crispEdges"/>
<path d="M524.50,151.50 L525.50,151.50 L526.50,150.50 L526.50,157.50 M531.50,150.50 L530.50,150.50 L530.50,151.50 L530.50,152.50 L530.50,152.50 L531.50,153.50 L532.50,153.50 L533.50,153.50 L534.50,154.50 L534.50,155.50 L534.50,156.50 L534.50,156.50 L534.50,157.50 L533.50,157.50 L531.50,157.50 L530.50,157.50 L530.50,156.50 L530.50,156.50 L530.50,155.50 L530.50,154.50 L531.50,153.50 L532.50,153.50 L533.50,153.50 L534.50,152.50 L534.50,152.50 L534.50,151.50 L534.50,150.50 L533.50,150.50 L531.50,150.50" fill="none" stroke="#000000" stroke-width="1.05" stroke-linecap="square" stroke-linejoin="miter" shape-rendering="crispEdges"/>
<path d="M627.50,150.50 L626.50,150.50 L625.50,151.50 L625.50,153.50 L625.50,154.50 L625.50,156.50 L626.50,157.50 L627.50,157.50 L627.50,157.50 L628.50,157.50 L629.50,156.50 L629.50,154.50 L629.50,153.50 L629.50,151.50 L628.50,150.50 L627.50,150.50 L627.50,150.50" fill="none" stroke="#000000" stroke-width="1.05" stroke-linecap="square" stroke-linejoin="miter" shape-rendering="crispEdges"/>
<path d="M727.50,151.50 L726.50,150.50 L725.50,150.50 L725.50,150.50 L724.50,150.50 L723.50,151.50 L723.50,153.50 L723.50,155.50 L723.50,156.50 L724.50,157.50 L725.50,157.50 L725.50,157.50 L726.50,157.50 L727.50,156.50 L727.50,155.50 L727.50,155.50 L727.50,154.50 L726.50,153.50 L725.50,153.50 L725.50,153.50 L724.50,153.50 L723.50,154.50 L723.50,155.50" fill="none" stroke="#000000" stroke-width="1.05" stroke-linecap="square" stroke-linejoin="miter" shape-rendering="crispEdges"/>
<path d="M818.50,151.50 L818.50,151.50 L819.50,150.50 L819.50,157.50 M823.50,152.50 L823.50,151.50 L824.50,151.50 L824.50,150.50 L825.50,150.50 L826.50,150.50 L827.50,150.50 L827.50,151.50 L827.50,151.50 L827.50,152.50 L827.50,153.50 L826.50,154.50 L823.50,157.50 L828.50,157.50" fill="none" stroke="#000000" stroke-width="1.05" stroke-linecap="square" stroke-linejoin="miter" shape-rendering="crispEdges"/>
<path d="M915.50,151.50 L916.50,151.50 L917.50,150.50 L917.50,157.50 M922.50,150.50 L921.50,150.50 L921.50,151.50 L921.50,152.50 L921.50,152.50 L922.50,153.50 L923.50,153.50 L924.50,153.50 L925.50,154.50 L925.50,155.50 L925.50,156.50 L925.50,156.50 L925.50,157.50 L924.50,157.50 L922.50,157.50 L921.50,157.50 L921.50,156.50 L921.50,156.50 L921.50,155.50 L921.50,154.50 L922.50,153.50 L923.50,153.50 L924.50,153.50 L925.50,152.50 L925.50,152.50 L925.50,151.50 L925.50,150.50 L924.50,150.50 L922.50,150.50" fill="none" stroke="#000000" stroke-width="1.05" stroke-linecap="square" stroke-linejoin="miter" shape-rendering="crispEdges"/>
<path d="M56.50,329.50 L57.50,329.50 L58.50,328.50 L58.50,335.50 M63.50,328.50 L62.50,328.50 L62.50,329.50 L62.50,330.50 L62.50,330.50 L63.50,331.50 L64.50,331.50 L65.50,331.50 L66.50,332.50 L66.50,333.50 L66.50,334.50 L66.50,334.50 L66.50,335.50 L65.50,335.50 L63.50,335.50 L62.50,335.50 L62.50,334.50 L62.50,334.50 L62.50,333.50 L62.50,332.50 L63.50,331.50 L64.50,331.50 L65.50,331.50 L66.50,330.50 L66.50,330.50 L66.50,329.50 L66.50,328.50 L65.50,328.50 L63.50,328.50" fill="none" stroke="#000000" stroke-width="1.05" stroke-linecap="square" stroke-linejoin="miter" shape-rendering="crispEdges"/>
<path d="M158.50,328.50 L158.50,328.50 L157.50,329.50 L157.50,331.50 L157.50,332.50 L157.50,334.50 L158.50,335.50 L158.50,335.50 L159.50,335.50 L160.50,335.50 L160.50,334.50 L161.50,332.50 L161.50,331.50 L160.50,329.50 L160.50,328.50 L159.50,328.50 L158.50,328.50" fill="none" stroke="#000000" stroke-width="1.05" stroke-linecap="square" stroke-linejoin="miter" shape-rendering="crispEdges"/>
<path d="M258.50,329.50 L258.50,328.50 L257.50,328.50 L256.50,328.50 L255.50,328.50 L255.50,329.50 L254.50,331.50 L254.50,333.50 L255.50,334.50 L255.50,335.50 L256.50,335.50 L256.50,335.50 L257.50,335.50 L258.50,334.50 L258.50,333.50 L258.50,333.50 L258.50,332.50 L257.50,331.50 L256.50,331.50 L256.50,331.50 L255.50,331.50 L255.50,332.50 L254.50,333.50" fill="none" stroke="#000000" stroke-width="1.05" stroke-linecap="square" stroke-linejoin="miter" shape-rendering="crispEdges"/>
<path d="M349.50,329.50 L349.50,329.50 L350.50,328.50 L350.50,335.50 M355.50,330.50 L355.50,329.50 L355.50,329.50 L355.50,328.50 L356.50,328.50 L357.50,328.50 L358.50,328.50 L358.50,329.50 L358.50,329.50 L358.50,330.50 L358.50,331.50 L357.50,332.50 L354.50,335.50 L359.50,335.50" fill="none" stroke="#000000" stroke-width="1.05" stroke-linecap="square" stroke-linejoin="miter" shape-rendering="crispEdges"/>
<path d="M446.50,329.50 L447.50,329.50 L448.50,328.50 L448.50,335.50 M453.50,328.50 L452.50,328.50 L452.50,329.50 L452.50,330.50 L452.50,330.50 L453.50,331.50 L454.50,331.50 L455.50,331.50 L456.50,332.50 L456.50,333.50 L456.50,334.50 L456.50,334.50 L456.50,335.50 L455.50,335.50 L453.50,335.50 L452.50,335.50 L452.50,334.50 L452.50,334.50 L452.50,333.50 L452.50,332.50 L453.50,331.50 L454.50,331.50 L455.50,331.50 L456.50,330.50 L456.50,330.50 L456.50,329.50 L456.50,328.50 L455.50,328.50 L453.50,328.50" fill="none" stroke="#000000" stroke-width="1.05" stroke-linecap="square" stroke-linejoin="miter" shape-rendering="crispEdges"/>
<path d="M524.50,329.50 L525.50,329.50 L526.50,328.50 L526.50,335.50 M531.50,328.50 L530.50,328.50 L530.50,329.50 L530.50,330.50 L530.50,330.50 L531.50,331.50 L532.50,331.50 L533.50,331.50 L534.50,332.50 L534.50,333.50 L534.50,334.50 L534.50,334.50 L534.50,335.50 L533.50,335.50 L531.50,335.50 L530.50,335.50 L530.50,334.50 L530.50,334.50 L530.50,333.50 L530.50,332.50 L531.50,331.50 L532.50,331.50 L533.50,331.50 L534.50,330.50 L534.50,330.50 L534.50,329.50 L534.50,328.50 L533.50,328.50 L531.50,328.50" fill="none" stroke="#000000" stroke-width="1.05" stroke-linecap="square" stroke-linejoin="miter" shape-rendering="crispEdges"/>
<path d="M627.50,328.50 L626.50,328.50 L625.50,329.50 L625.50,331.50 L625.50,332.50 L625.50,334.50 L626.50,335.50 L627.50,335.50 L627.50,335.50 L628.50,335.50 L629.50,334.50 L629.50,332.50 L629.50,331.50 L629.50,329.50 L628.50,328.50 L627.50,328.50 L627.50,328.50" fill="none" stroke="#000000" stroke-width="1.05" stroke-linecap="square" stroke-linejoin="miter" shape-rendering="crispEdges"/>
<path d="M727.50,329.50 L726.50,328.50 L725.50,328.50 L725.50,328.50 L724.50,328.50 L723.50,329.50 L723.50,331.50 L723.50,333.50 L723.50,334.50 L724.50,335.50 L725.50,335.50 L725.50,335.50 L726.50,335.50 L727.50,334.50 L727.50,333.50 L727.50,333.50 L727.50,332.50 L726.50,331.50 L725.50,331.50 L725.50,331.50 L724.50,331.50 L723.50,332.50 L723.50,333.50" fill="none" stroke="#000000" stroke-width="1.05" stroke-linecap="square" stroke-linejoin="miter" shape-rendering="crispEdges"/>
<path d="M818.50,329.50 L818.50,329.50 L819.50,328.50 L819.50,335.50 M823.50,330.50 L823.50,329.50 L824.50,329.50 L824.50,328.50 L825.50,328.50 L826.50,328.50 L827.50,328.50 L827.50,329.50 L827.50,329.50 L827.50,330.50 L827.50,331.50 L826.50,332.50 L823.50,335.50 L828.50,335.50" fill="none" stroke="#000000" stroke-width="1.05" stroke-linecap="square" stroke-linejoin="miter" shape-rendering="crispEdges"/>
<path d="M915.50,329.50 L916.50,329.50 L917.50,328.50 L917.50,335.50 M922.50,328.50 L921.50,328.50 L921.50,329.50 L921.50,330.50 L921.50,330.50 L922.50,331.50 L923.50,331.50 L924.50,331.50 L925.50,332.50 L925.50,333.50 L925.50,334.50 L925.50,334.50 L925.50,335.50 L924.50,335.50 L922.50,335.50 L921.50,335.50 L921.50,334.50 L921.50,334.50 L921.50,333.50 L921.50,332.50 L922.50,331.50 L923.50,331.50 L924.50,331.50 L925.50,330.50 L925.50,330.50 L925.50,329.50 L925.50,328.50 L924.50,328.50 L922.50,328.50" fill="none" stroke="#000000" stroke-width="1.05" stroke-linecap="square" stroke-linejoin="miter" shape-rendering="crispEdges"/>
<path d="M56.50,507.50 L57.50,507.50 L58.50,506.50 L58.50,513.50 M63.50,506.50 L62.50,506.50 L62.50,507.50 L62.50,508.50 L62.50,508.50 L63.50,509.50 L64.50,509.50 L65.50,509.50 L66.50,510.50 L66.50,511.50 L66.50,512.50 L66.50,512.50 L66.50,513.50 L65.50,513.50 L63.50,513.50 L62.50,513.50 L62.50,512.50 L62.50,512.50 L62.50,511.50 L62.50,510.50 L63.50,509.50 L64.50,509.50 L65.50,509.50 L66.50,508.50 L66.50,508.50 L66.50,507.50 L66.50,506.50 L65.50,506.50 L63.50,506.50" fill="none" stroke="#000000" stroke-width="1.05" stroke-linecap="square" stroke-linejoin="miter" shape-rendering="crispEdges"/>
<path d="M158.50,506.50 L158.50,506.50 L157.50,507.50 L157.50,509.50 L157.50,510.50 L157.50,512.50 L158.50,513.50 L158.50,513.50 L159.50,513.50 L160.50,513.50 L160.50,512.50 L161.50,510.50 L161.50,509.50 L160.50,507.50 L160.50,506.50 L159.50,506.50 L158.50,506.50" fill="none" stroke="#000000" stroke-width="1.05" stroke-linecap="square" stroke-linejoin="miter" shape-rendering="crispEdges"/>
<path d="M258.50,507.50 L258.50,506.50 L257.50,506.50 L256.50,506.50 L255.50,506.50 L255.50,507.50 L254.50,509.50 L254.50,511.50 L255.50,512.50 L255.50,513.50 L256.50,513.50 L256.50,513.50 L257.50,513.50 L258.50,512.50 L258.50,511.50 L258.50,511.50 L258.50,510.50 L257.50,509.50 L256.50,509.50 L256.50,509.50 L255.50,509.50 L255.50,510.50 L254.50,511.50" fill="none" stroke="#000000" stroke-width="1.05" stroke-linecap="square" stroke-linejoin="miter" shape-rendering="crispEdges"/>
<path d="M349.50,507.50 L349.50,507.50 L350.50,506.50 L350.50,513.50 M355.50,508.50 L355.50,507.50 L355.50,507.50 L355.50,506.50 L356.50,506.50 L357.50,506.50 L358.50,506.50 L358.50,507.50 L358.50,507.50 L358.50,508.50 L358.50,509.50 L357.50,510.50 L354.50,513.50 L359.50,513.50" fill="none" stroke="#000000" stroke-width="1.05" stroke-linecap="square" stroke-linejoin="miter" shape-rendering="crispEdges"/>
<path d="M446.50,507.50 L447.50,507.50 L448.50,506.50 L448.50,513.50 M453.50,506.50 L452.50,506.50 L452.50,507.50 L452.50,508.50 L452.50,508.50 L453.50,509.50 L454.50,509.50 L455.50,509.50 L456.50,510.50 L456.50,511.50 L456.50,512.50 L456.50,512.50 L456.50,513.50 L455.50,513.50 L453.50,513.50 L452.50,513.50 L452.50,512.50 L452.50,512.50 L452.50,511.50 L452.50,510.50 L453.50,509.50 L454.50,509.50 L455.50,509.50 L456.50,508.50 L456.50,508.50 L456.50,507.50 L456.50,506.50 L455.50,506.50 L453.50,506.50" fill="none" stroke="#000000" stroke-width="1.05" stroke-linecap="square" stroke-linejoin="miter" shape-rendering="crispEdges"/>
<path d="M524.50,507.50 L525.50,507.50 L526.50,506.50 L526.50,513.50 M531.50,506.50 L530.50,506.50 L530.50,507.50 L530.50,508.50 L530.50,508.50 L531.50,509.50 L532.50,509.50 L533.50,509.50 L534.50,510.50 L534.50,511.50 L534.50,512.50 L534.50,512.50 L534.50,513.50 L533.50,513.50 L531.50,513.50 L530.50,513.50 L530.50,512.50 L530.50,512.50 L530.50,511.50 L530.50,510.50 L531.50,509.50 L532.50,509.50 L533.50,509.50 L534.50,508.50 L534.50,508.50 L534.50,507.50 L534.50,506.50 L533.50,506.50 L531.50,506.50" fill="none" stroke="#000000" stroke-width="1.05" stroke-linecap="square" stroke-linejoin="miter" shape-rendering="crispEdges"/>
<path d="M627.50,506.50 L626.50,506.50 L625.50,507.50 L625.50,509.50 L625.50,510.50 L625.50,512.50 L626.50,513.50 L627.50,513.50 L627.50,513.50 L628.50,513.50 L629.50,512.50 L629.50,510.50 L629.50,509.50 L629.50,507.50 L628.50,506.50 L627.50,506.50 L627.50,506.50" fill="none" stroke="#000000" stroke-width="1.05" stroke-linecap="square" stroke-linejoin="miter" shape-rendering="crispEdges"/>
<path d="M727.50,507.50 L726.50,506.50 L725.50,506.50 L725.50,506.50 L724.50,506.50 L723.50,507.50 L723.50,509.50 L723.50,511.50 L723.50,512.50 L724.50,513.50 L725.50,513.50 L725.50,513.50 L726.50,513.50 L727.50,512.50 L727.50,511.50 L727.50,511.50 L727.50,510.50 L726.50,509.50 L725.50,509.50 L725.50,509.50 L724.50,509.50 L723.50,510.50 L723.50,511.50" fill="none" stroke="#000000" stroke-width="1.05" stroke-linecap="square" stroke-linejoin="miter" shape-rendering="crispEdges"/>
<path d="M818.50,507.50 L818.50,507.50 L819.50,506.50 L819.50,513.50 M823.50,508.50 L823.50,507.50 L824.50,507.50 L824.50,506.50 L825.50,506.50 L826.50,506.50 L827.50,506.50 L827.50,507.50 L827.50,507.50 L827.50,508.50 L827.50,509.50 L826.50,510.50 L823.50,513.50 L828.50,513.50" fill="none" stroke="#000000" stroke-width="1.05" stroke-linecap="square" stroke-linejoin="miter" shape-rendering="crispEdges"/>
<path d="M915.50,507.50 L916.50,507.50 L917.50,506.50 L917.50,513.50 M922.50,506.50 L921.50,506.50 L921.50,507.50 L921.50,508.50 L921.50,508.50 L922.50,509.50 L923.50,509.50 L924.50,509.50 L925.50,510.50 L925.50,511.50 L925.50,512.50 L925.50,512.50 L925.50,513.50 L924.50,513.50 L922.50,513.50 L921.50,513.50 L921.50,512.50 L921.50,512.50 L921.50,511.50 L921.50,510.50 L922.50,509.50 L923.50,509.50 L924.50,509.50 L925.50,508.50 L925.50,508.50 L925.50,507.50 L925.50,506.50 L924.50,506.50 L922.50,506.50" fill="none" stroke="#000000" stroke-width="1.05" stroke-linecap="square" stroke-linejoin="miter" shape-rendering="crispEdges"/>
<path d="M40.50,25.50 L41.50,25.50 L42.50,24.50 L42.50,31.50 M47.50,24.50 L47.50,24.50 L46.50,25.50 L46.50,27.50 L46.50,28.50 L46.50,30.50 L47.50,31.50 L47.50,31.50 L48.50,31.50 L49.50,31.50 L49.50,30.50 L50.50,28.50 L50.50,27.50 L49.50,25.50 L49.50,24.50 L48.50,24.50 L47.50,24.50 M54.50,24.50 L53.50,24.50 L52.50,25.50 L52.50,27.50 L52.50,28.50 L52.50,30.50 L53.50,31.50 L54.50,31.50 L54.50,31.50 L55.50,31.50 L56.50,30.50 L56.50,28.50 L56.50,27.50 L56.50,25.50 L55.50,24.50 L54.50,24.50 L54.50,24.50" fill="none" stroke="#000000" stroke-width="1.05" stroke-linecap="square" stroke-linejoin="miter" shape-rendering="crispEdges"/>
<path d="M49.50,50.50 L46.50,50.50 L46.50,53.50 L46.50,53.50 L47.50,52.50 L48.50,52.50 L49.50,53.50 L50.50,53.50 L50.50,54.50 L50.50,55.50 L50.50,56.50 L49.50,56.50 L48.50,57.50 L47.50,57.50 L46.50,56.50 L46.50,56.50 L45.50,55.50 M54.50,50.50 L53.50,50.50 L52.50,51.50 L52.50,53.50 L52.50,54.50 L52.50,55.50 L53.50,56.50 L54.50,57.50 L54.50,57.50 L55.50,56.50 L56.50,55.50 L56.50,54.50 L56.50,53.50 L56.50,51.50 L55.50,50.50 L54.50,50.50 L54.50,50.50" fill="none" stroke="#000000" stroke-width="1.05" stroke-linecap="square" stroke-linejoin="miter" shape-rendering="crispEdges"/>
<path d="M54.50,80.50 L53.50,80.50 L52.50,81.50 L52.50,83.50 L52.50,84.50 L52.50,85.50 L53.50,86.50 L54.50,87.50 L54.50,87.50 L55.50,86.50 L56.50,85.50 L56.50,84.50 L56.50,83.50 L56.50,81.50 L55.50,80.50 L54.50,80.50 L54.50,80.50" fill="none" stroke="#000000" stroke-width="1.05" stroke-linecap="square" stroke-linejoin="miter" shape-rendering="crispEdges"/>
<path d="M37.50,113.50 L43.50,113.50 M49.50,109.50 L46.50,109.50 L46.50,112.50 L46.50,112.50 L47.50,111.50 L48.50,111.50 L49.50,112.50 L50.50,112.50 L50.50,113.50 L50.50,114.50 L50.50,115.50 L49.50,115.50 L48.50,116.50 L47.50,116.50 L46.50,115.50 L46.50,115.50 L45.50,114.50 M54.50,109.50 L53.50,109.50 L52.50,110.50 L52.50,112.50 L52.50,113.50 L52.50,114.50 L53.50,115.50 L54.50,116.50 L54.50,116.50 L55.50,115.50 L56.50,114.50 L56.50,113.50 L56.50,112.50 L56.50,110.50 L55.50,109.50 L54.50,109.50 L54.50,109.50" fill="none" stroke="#000000" stroke-width="1.05" stroke-linecap="square" stroke-linejoin="miter" shape-rendering="crispEdges"/>
<path d="M31.50,139.50 L37.50,139.50 M40.50,136.50 L41.50,136.50 L42.50,135.50 L42.50,142.50 M47.50,135.50 L47.50,135.50 L46.50,136.50 L46.50,138.50 L46.50,139.50 L46.50,140.50 L47.50,141.50 L47.50,142.50 L48.50,142.50 L49.50,141.50 L49.50,140.50 L50.50,139.50 L50.50,138.50 L49.50,136.50 L49.50,135.50 L48.50,135.50 L47.50,135.50 M54.50,135.50 L53.50,135.50 L52.50,136.50 L52.50,138.50 L52.50,139.50 L52.50,140.50 L53.50,141.50 L54.50,142.50 L54.50,142.50 L55.50,141.50 L56.50,140.50 L56.50,139.50 L56.50,138.50 L56.50,136.50 L55.50,135.50 L54.50,135.50 L54.50,135.50" fill="none" stroke="#000000" stroke-width="1.05" stroke-linecap="square" stroke-linejoin="miter" shape-rendering="crispEdges"/>
<path d="M17.50,93.50 L21.50,93.50 M18.50,93.50 L17.50,92.50 L17.50,91.50 L17.50,91.50 L17.50,90.50 L18.50,90.50 L21.50,90.50 M18.50,90.50 L17.50,89.50 L17.50,88.50 L17.50,87.50 L17.50,86.50 L18.50,86.50 L21.50,86.50 M13.50,78.50 L23.50,84.50 M18.50,73.50 L17.50,73.50 L17.50,74.50 L17.50,75.50 L17.50,76.50 L18.50,77.50 L18.50,76.50 L19.50,76.50 L19.50,74.50 L19.50,73.50 L20.50,73.50 L20.50,73.50 L21.50,73.50 L21.50,74.50 L21.50,75.50 L21.50,76.50 L20.50,77.50" fill="none" stroke="#000000" stroke-width="1.05" stroke-linecap="square" stroke-linejoin="miter" shape-rendering="crispEdges"/>
<path d="M40.50,203.50 L41.50,203.50 L42.50,202.50 L42.50,209.50 M47.50,202.50 L47.50,202.50 L46.50,203.50 L46.50,205.50 L46.50,206.50 L46.50,208.50 L47.50,209.50 L47.50,209.50 L48.50,209.50 L49.50,209.50 L49.50,208.50 L50.50,206.50 L50.50,205.50 L49.50,203.50 L49.50,202.50 L48.50,202.50 L47.50,202.50 M54.50,202.50 L53.50,202.50 L52.50,203.50 L52.50,205.50 L52.50,206.50 L52.50,208.50 L53.50,209.50 L54.50,209.50 L54.50,209.50 L55.50,209.50 L56.50,208.50 L56.50,206.50 L56.50,205.50 L56.50,203.50 L55.50,202.50 L54.50,202.50 L54.50,202.50" fill="none" stroke="#000000" stroke-width="1.05" stroke-linecap="square" stroke-linejoin="miter" shape-rendering="crispEdges"/>
<path d="M49.50,228.50 L46.50,228.50 L46.50,231.50 L46.50,231.50 L47.50,230.50 L48.50,230.50 L49.50,231.50 L50.50,231.50 L50.50,232.50 L50.50,233.50 L50.50,234.50 L49.50,234.50 L48.50,235.50 L47.50,235.50 L46.50,234.50 L46.50,234.50 L45.50,233.50 M54.50,228.50 L53.50,228.50 L52.50,229.50 L52.50,231.50 L52.50,232.50 L52.50,233.50 L53.50,234.50 L54.50,235.50 L54.50,235.50 L55.50,234.50 L56.50,233.50 L56.50,232.50 L56.50,231.50 L56.50,229.50 L55.50,228.50 L54.50,228.50 L54.50,228.50" fill="none" stroke="#000000" stroke-width="1.05" stroke-linecap="square" stroke-linejoin="miter" shape-rendering="crispEdges"/>
<path d="M54.50,258.50 L53.50,258.50 L52.50,259.50 L52.50,261.50 L52.50,262.50 L52.50,263.50 L53.50,264.50 L54.50,265.50 L54.50,265.50 L55.50,264.50 L56.50,263.50 L56.50,262.50 L56.50,261.50 L56.50,259.50 L55.50,258.50 L54.50,258.50 L54.50,258.50" fill="none" stroke="#000000" stroke-width="1.05" stroke-linecap="square" stroke-linejoin="miter" shape-rendering="crispEdges"/>
<path d="M37.50,291.50 L43.50,291.50 M49.50,287.50 L46.50,287.50 L46.50,290.50 L46.50,290.50 L47.50,289.50 L48.50,289.50 L49.50,290.50 L50.50,290.50 L50.50,291.50 L50.50,292.50 L50.50,293.50 L49.50,293.50 L48.50,294.50 L47.50,294.50 L46.50,293.50 L46.50,293.50 L45.50,292.50 M54.50,287.50 L53.50,287.50 L52.50,288.50 L52.50,290.50 L52.50,291.50 L52.50,292.50 L53.50,293.50 L54.50,294.50 L54.50,294.50 L55.50,293.50 L56.50,292.50 L56.50,291.50 L56.50,290.50 L56.50,288.50 L55.50,287.50 L54.50,287.50 L54.50,287.50" fill="none" stroke="#000000" stroke-width="1.05" stroke-linecap="square" stroke-linejoin="miter" shape-rendering="crispEdges"/>
<path d="M31.50,317.50 L37.50,317.50 M40.50,314.50 L41.50,314.50 L42.50,313.50 L42.50,320.50 M47.50,313.50 L47.50,313.50 L46.50,314.50 L46.50,316.50 L46.50,317.50 L46.50,318.50 L47.50,319.50 L47.50,320.50 L48.50,320.50 L49.50,319.50 L49.50,318.50 L50.50,317.50 L50.50,316.50 L49.50,314.50 L49.50,313.50 L48.50,313.50 L47.50,313.50 M54.50,313.50 L53.50,313.50 L52.50,314.50 L52.50,316.50 L52.50,317.50 L52.50,318.50 L53.50,319.50 L54.50,320.50 L54.50,320.50 L55.50,319.50 L56.50,318.50 L56.50,317.50 L56.50,316.50 L56.50,314.50 L55.50,313.50 L54.50,313.50 L54.50,313.50" fill="none" stroke="#000000" stroke-width="1.05" stroke-linecap="square" stroke-linejoin="miter" shape-rendering="crispEdges"/>
<path d="M17.50,271.50 L21.50,271.50 M18.50,271.50 L17.50,270.50 L17.50,269.50 L17.50,269.50 L17.50,268.50 L18.50,268.50 L21.50,268.50 M18.50,268.50 L17.50,267.50 L17.50,266.50 L17.50,265.50 L17.50,264.50 L18.50,264.50 L21.50,264.50 M13.50,256.50 L23.50,262.50 M18.50,251.50 L17.50,251.50 L17.50,252.50 L17.50,253.50 L17.50,254.50 L18.50,255.50 L18.50,254.50 L19.50,254.50 L19.50,252.50 L19.50,251.50 L20.50,251.50 L20.50,251.50 L21.50,251.50 L21.50,252.50 L21.50,253.50 L21.50,254.50 L20.50,255.50" fill="none" stroke="#000000" stroke-width="1.05" stroke-linecap="square" stroke-linejoin="miter" shape-rendering="crispEdges"/>
<path d="M40.50,381.50 L41.50,381.50 L42.50,380.50 L42.50,387.50 M47.50,380.50 L47.50,380.50 L46.50,381.50 L46.50,383.50 L46.50,384.50 L46.50,386.50 L47.50,387.50 L47.50,387.50 L48.50,387.50 L49.50,387.50 L49.50,386.50 L50.50,384.50 L50.50,383.50 L49.50,381.50 L49.50,380.50 L48.50,380.50 L47.50,380.50 M54.50,380.50 L53.50,380.50 L52.50,381.50 L52.50,383.50 L52.50,384.50 L52.50,386.50 L53.50,387.50 L54.50,387.50 L54.50,387.50 L55.50,387.50 L56.50,386.50 L56.50,384.50 L56.50,383.50 L56.50,381.50 L55.50,380.50 L54.50,380.50 L54.50,380.50" fill="none" stroke="#000000" stroke-width="1.05" stroke-linecap="square" stroke-linejoin="miter" shape-rendering="crispEdges"/>
<path d="M49.50,406.50 L46.50,406.50 L46.50,409.50 L46.50,409.50 L47.50,408.50 L48.50,408.50 L49.50,409.50 L50.50,409.50 L50.50,410.50 L50.50,411.50 L50.50,412.50 L49.50,412.50 L48.50,413.50 L47.50,413.50 L46.50,412.50 L46.50,412.50 L45.50,411.50 M54.50,406.50 L53.50,406.50 L52.50,407.50 L52.50,409.50 L52.50,410.50 L52.50,411.50 L53.50,412.50 L54.50,413.50 L54.50,413.50 L55.50,412.50 L56.50,411.50 L56.50,410.50 L56.50,409.50 L56.50,407.50 L55.50,406.50 L54.50,406.50 L54.50,406.50" fill="none" stroke="#000000" stroke-width="1.05" stroke-linecap="square" stroke-linejoin="miter" shape-rendering="crispEdges"/>
<path d="M54.50,436.50 L53.50,436.50 L52.50,437.50 L52.50,439.50 L52.50,440.50 L52.50,441.50 L53.50,442.50 L54.50,443.50 L54.50,443.50 L55.50,442.50 L56.50,441.50 L56.50,440.50 L56.50,439.50 L56.50,437.50 L55.50,436.50 L54.50,436.50 L54.50,436.50" fill="none" stroke="#000000" stroke-width="1.05" stroke-linecap="square" stroke-linejoin="miter" shape-rendering="crispEdges"/>
<path d="M37.50,469.50 L43.50,469.50 M49.50,465.50 L46.50,465.50 L46.50,468.50 L46.50,468.50 L47.50,467.50 L48.50,467.50 L49.50,468.50 L50.50,468.50 L50.50,469.50 L50.50,470.50 L50.50,471.50 L49.50,471.50 L48.50,472.50 L47.50,472.50 L46.50,471.50 L46.50,471.50 L45.50,470.50 M54.50,465.50 L53.50,465.50 L52.50,466.50 L52.50,468.50 L52.50,469.50 L52.50,470.50 L53.50,471.50 L54.50,472.50 L54.50,472.50 L55.50,471.50 L56.50,470.50 L56.50,469.50 L56.50,468.50 L56.50,466.50 L55.50,465.50 L54.50,465.50 L54.50,465.50" fill="none" stroke="#000000" stroke-width="1.05" stroke-linecap="square" stroke-linejoin="miter" shape-rendering="crispEdges"/>
<path d="M31.50,495.50 L37.50,495.50 M40.50,492.50 L41.50,492.50 L42.50,491.50 L42.50,498.50 M47.50,491.50 L47.50,491.50 L46.50,492.50 L46.50,494.50 L46.50,495.50 L46.50,496.50 L47.50,497.50 L47.50,498.50 L48.50,498.50 L49.50,497.50 L49.50,496.50 L50.50,495.50 L50.50,494.50 L49.50,492.50 L49.50,491.50 L48.50,491.50 L47.50,491.50 M54.50,491.50 L53.50,491.50 L52.50,492.50 L52.50,494.50 L52.50,495.50 L52.50,496.50 L53.50,497.50 L54.50,498.50 L54.50,498.50 L55.50,497.50 L56.50,496.50 L56.50,495.50 L56.50,494.50 L56.50,492.50 L55.50,491.50 L54.50,491.50 L54.50,491.50" fill="none" stroke="#000000" stroke-width="1.05" stroke-linecap="square" stroke-linejoin="miter" shape-rendering="crispEdges"/>
<path d="M17.50,449.50 L21.50,449.50 M18.50,449.50 L17.50,448.50 L17.50,447.50 L17.50,447.50 L17.50,446.50 L18.50,446.50 L21.50,446.50 M18.50,446.50 L17.50,445.50 L17.50,444.50 L17.50,443.50 L17.50,442.50 L18.50,442.50 L21.50,442.50 M13.50,434.50 L23.50,440.50 M18.50,429.50 L17.50,429.50 L17.50,430.50 L17.50,431.50 L17.50,432.50 L18.50,433.50 L18.50,432.50 L19.50,432.50 L19.50,430.50 L19.50,429.50 L20.50,429.50 L20.50,429.50 L21.50,429.50 L21.50,430.50 L21.50,431.50 L21.50,432.50 L20.50,433.50" fill="none" stroke="#000000" stroke-width="1.05" stroke-linecap="square" stroke-linejoin="miter" shape-rendering="crispEdges"/>
<path d="M121.50,10.50 L121.50,18.50 M121.50,10.50 L124.50,10.50 L125.50,10.50 L126.50,11.50 L126.50,11.50 L126.50,12.50 L126.50,13.50 L125.50,13.50 L124.50,14.50 L121.50,14.50 M123.50,14.50 L126.50,18.50 M129.50,15.50 L133.50,15.50 L133.50,14.50 L133.50,13.50 L133.50,13.50 L132.50,12.50 L131.50,12.50 L130.50,13.50 L129.50,14.50 L129.50,15.50 L129.50,16.50 L129.50,17.50 L130.50,17.50 L131.50,18.50 L132.50,18.50 L133.50,17.50 L133.50,17.50 M140.50,14.50 L140.50,13.50 L139.50,12.50 L137.50,12.50 L136.50,13.50 L136.50,14.50 L136.50,14.50 L137.50,15.50 L139.50,15.50 L140.50,16.50 L140.50,16.50 L140.50,17.50 L140.50,17.50 L139.50,18.50 L137.50,18.50 L136.50,17.50 L136.50,17.50 M145.50,12.50 L144.50,13.50 L143.50,14.50 L143.50,15.50 L143.50,16.50 L143.50,17.50 L144.50,17.50 L145.50,18.50 L146.50,18.50 L147.50,17.50 L147.50,17.50 L148.50,16.50 L148.50,15.50 L147.50,14.50 L147.50,13.50 L146.50,12.50 L145.50,12.50 M151.50,10.50 L151.50,18.50 M154.50,12.50 L154.50,16.50 L154.50,17.50 L155.50,18.50 L156.50,18.50 L157.50,17.50 L158.50,16.50 M158.50,12.50 L158.50,18.50 M162.50,10.50 L162.50,16.50 L162.50,17.50 L163.50,18.50 L164.50,18.50 M161.50,12.50 L163.50,12.50 M166.50,15.50 L171.50,15.50 L171.50,14.50 L170.50,13.50 L170.50,13.50 L169.50,12.50 L168.50,12.50 L167.50,13.50 L166.50,14.50 L166.50,15.50 L166.50,16.50 L166.50,17.50 L167.50,17.50 L168.50,18.50 L169.50,18.50 L170.50,17.50 L171.50,17.50 M180.50,10.50 L180.50,18.50 M180.50,10.50 L183.50,18.50 M186.50,10.50 L183.50,18.50 M186.50,10.50 L186.50,18.50 M189.50,15.50 L194.50,15.50 L194.50,14.50 L193.50,13.50 L193.50,13.50 L192.50,12.50 L191.50,12.50 L190.50,13.50 L189.50,14.50 L189.50,15.50 L189.50,16.50 L189.50,17.50 L190.50,17.50 L191.50,18.50 L192.50,18.50 L193.50,17.50 L194.50,17.50 M197.50,12.50 L197.50,18.50 M197.50,15.50 L197.50,14.50 L198.50,13.50 L199.50,12.50 L200.50,12.50 M201.50,10.50 L202.50,10.50 L202.50,10.50 L202.50,9.50 L201.50,10.50 M202.50,12.50 L202.50,18.50 M209.50,10.50 L209.50,18.50 M209.50,14.50 L209.50,13.50 L208.50,12.50 L207.50,12.50 L206.50,13.50 L205.50,14.50 L205.50,15.50 L205.50,16.50 L205.50,17.50 L206.50,17.50 L207.50,18.50 L208.50,18.50 L209.50,17.50 L209.50,17.50 M212.50,10.50 L213.50,10.50 L213.50,10.50 L213.50,9.50 L212.50,10.50 M213.50,12.50 L213.50,18.50 M217.50,12.50 L217.50,13.50 L216.50,14.50 L215.50,15.50 L215.50,16.50 L216.50,17.50 L217.50,17.50 L217.50,18.50 L219.50,18.50 L219.50,17.50 L220.50,17.50 L221.50,16.50 L221.50,15.50 L220.50,14.50 L219.50,13.50 L219.50,12.50 L217.50,12.50 M223.50,12.50 L223.50,18.50 M223.50,14.50 L225.50,13.50 L225.50,12.50 L227.50,12.50 L227.50,13.50 L228.50,14.50 L228.50,18.50 M235.50,12.50 L235.50,18.50 M235.50,14.50 L235.50,13.50 L234.50,12.50 L233.50,12.50 L232.50,13.50 L231.50,14.50 L231.50,15.50 L231.50,16.50 L231.50,17.50 L232.50,17.50 L233.50,18.50 L234.50,18.50 L235.50,17.50 L235.50,17.50 M239.50,10.50 L239.50,18.50" fill="none" stroke="#000000" stroke-width="1.05" stroke-linecap="square" stroke-linejoin="miter" shape-rendering="crispEdges"/>
<path d="M246.50,10.50 L248.50,18.50 M250.50,10.50 L248.50,18.50 M250.50,10.50 L252.50,18.50 M254.50,10.50 L252.50,18.50 M256.50,10.50 L257.50,10.50 L257.50,10.50 L257.50,9.50 L256.50,10.50 M257.50,12.50 L257.50,18.50 M260.50,12.50 L260.50,18.50 M260.50,14.50 L261.50,13.50 L262.50,12.50 L263.50,12.50 L264.50,13.50 L264.50,14.50 L264.50,18.50 M272.50,10.50 L272.50,18.50 M272.50,14.50 L271.50,13.50 L270.50,12.50 L269.50,12.50 L268.50,13.50 L268.50,14.50 L267.50,15.50 L267.50,16.50 L268.50,17.50 L268.50,17.50 L269.50,18.50 L270.50,18.50 L271.50,17.50 L272.50,17.50 M279.50,14.50 L279.50,13.50 L278.50,12.50 L276.50,12.50 L275.50,13.50 L275.50,14.50 L275.50,14.50 L276.50,15.50 L278.50,15.50 L279.50,16.50 L279.50,16.50 L279.50,17.50 L279.50,17.50 L278.50,18.50 L276.50,18.50 L275.50,17.50 L275.50,17.50" fill="none" stroke="#000000" stroke-width="1.05" stroke-linecap="square" stroke-linejoin="miter" shape-rendering="crispEdges"/>
<path d="M286.50,18.50 L290.50,10.50 L293.50,18.50 L286.50,18.50" fill="none" stroke="#000000" stroke-width="1.05" stroke-linecap="square" stroke-linejoin="miter" shape-rendering="crispEdges"/>
<path d="M301.50,10.50 L301.50,18.50 M301.50,10.50 L306.50,18.50 M306.50,10.50 L306.50,18.50 M311.50,12.50 L310.50,13.50 L310.50,14.50 L309.50,15.50 L309.50,16.50 L310.50,17.50 L310.50,17.50 L311.50,18.50 L312.50,18.50 L313.50,17.50 L314.50,17.50 L314.50,16.50 L314.50,15.50 L314.50,14.50 L313.50,13.50 L312.50,12.50 L311.50,12.50 M317.50,12.50 L317.50,18.50 M317.50,15.50 L317.50,14.50 L318.50,13.50 L319.50,12.50 L320.50,12.50 M322.50,10.50 L322.50,16.50 L323.50,17.50 L324.50,18.50 L324.50,18.50 M321.50,12.50 L324.50,12.50 M327.50,10.50 L327.50,18.50 M327.50,14.50 L328.50,13.50 L329.50,12.50 L330.50,12.50 L331.50,13.50 L331.50,14.50 L331.50,18.50 M335.50,17.50 L335.50,18.50 L334.50,17.50 L335.50,17.50 L335.50,17.50 L335.50,18.50 L335.50,19.50 L334.50,19.50" fill="none" stroke="#000000" stroke-width="1.05" stroke-linecap="square" stroke-linejoin="miter" shape-rendering="crispEdges"/>
<path d="M345.50,18.50 L345.50,10.50 L352.50,10.50 L352.50,18.50 L345.50,18.50" fill="none" stroke="#000000" stroke-width="1.05" stroke-linecap="square" stroke-linejoin="miter" shape-rendering="crispEdges"/>
<path d="M364.50,11.50 L363.50,10.50 L362.50,10.50 L360.50,10.50 L359.50,10.50 L358.50,11.50 L358.50,12.50 L358.50,12.50 L359.50,13.50 L360.50,13.50 L362.50,14.50 L363.50,14.50 L363.50,15.50 L364.50,16.50 L364.50,17.50 L363.50,17.50 L362.50,18.50 L360.50,18.50 L359.50,17.50 L358.50,17.50 M368.50,12.50 L367.50,13.50 L366.50,14.50 L366.50,15.50 L366.50,16.50 L366.50,17.50 L367.50,17.50 L368.50,18.50 L369.50,18.50 L370.50,17.50 L371.50,17.50 L371.50,16.50 L371.50,15.50 L371.50,14.50 L370.50,13.50 L369.50,12.50 L368.50,12.50 M374.50,12.50 L374.50,16.50 L374.50,17.50 L375.50,18.50 L376.50,18.50 L377.50,17.50 L378.50,16.50 M378.50,12.50 L378.50,18.50 M381.50,10.50 L381.50,16.50 L382.50,17.50 L383.50,18.50 L383.50,18.50 M380.50,12.50 L383.50,12.50 M386.50,10.50 L386.50,18.50 M386.50,14.50 L387.50,13.50 L388.50,12.50 L389.50,12.50 L390.50,13.50 L390.50,14.50 L390.50,18.50" fill="none" stroke="#000000" stroke-width="1.05" stroke-linecap="square" stroke-linejoin="miter" shape-rendering="crispEdges"/>
<path d="M146.50,188.50 L140.50,196.50 M140.50,188.50 L146.50,188.50 M140.50,196.50 L146.50,196.50 M150.50,190.50 L149.50,191.50 L148.50,192.50 L148.50,193.50 L148.50,193.50 L148.50,195.50 L149.50,195.50 L150.50,196.50 L151.50,196.50 L152.50,195.50 L153.50,195.50 L153.50,193.50 L153.50,193.50 L153.50,192.50 L152.50,191.50 L151.50,190.50 L150.50,190.50 M156.50,190.50 L156.50,196.50 M156.50,192.50 L157.50,191.50 L158.50,190.50 L159.50,190.50 L160.50,191.50 L160.50,192.50 L160.50,196.50 M168.50,190.50 L168.50,196.50 M168.50,192.50 L167.50,191.50 L166.50,190.50 L165.50,190.50 L164.50,191.50 L164.50,192.50 L163.50,193.50 L163.50,193.50 L164.50,195.50 L164.50,195.50 L165.50,196.50 L166.50,196.50 L167.50,195.50 L168.50,195.50 M171.50,188.50 L171.50,196.50" fill="none" stroke="#000000" stroke-width="1.05" stroke-linecap="square" stroke-linejoin="miter" shape-rendering="crispEdges"/>
<path d="M180.50,188.50 L182.50,196.50 M184.50,188.50 L182.50,196.50 M184.50,188.50 L186.50,196.50 M188.50,188.50 L186.50,196.50 M190.50,188.50 L190.50,188.50 L191.50,188.50 L190.50,187.50 L190.50,188.50 M190.50,190.50 L190.50,196.50 M193.50,190.50 L193.50,196.50 M193.50,192.50 L194.50,191.50 L195.50,190.50 L196.50,190.50 L197.50,191.50 L198.50,192.50 L198.50,196.50 M205.50,188.50 L205.50,196.50 M205.50,192.50 L204.50,191.50 L203.50,190.50 L202.50,190.50 L202.50,191.50 L201.50,192.50 L200.50,193.50 L200.50,193.50 L201.50,195.50 L202.50,195.50 L202.50,196.50 L203.50,196.50 L204.50,195.50 L205.50,195.50 M212.50,192.50 L212.50,191.50 L211.50,190.50 L209.50,190.50 L208.50,191.50 L208.50,192.50 L208.50,192.50 L209.50,193.50 L211.50,193.50 L212.50,193.50 L212.50,194.50 L212.50,195.50 L212.50,195.50 L211.50,196.50 L209.50,196.50 L208.50,195.50 L208.50,195.50" fill="none" stroke="#000000" stroke-width="1.05" stroke-linecap="square" stroke-linejoin="miter" shape-rendering="crispEdges"/>
<path d="M220.50,196.50 L223.50,188.50 L227.50,196.50 L220.50,196.50" fill="none" stroke="#000000" stroke-width="1.05" stroke-linecap="square" stroke-linejoin="miter" shape-rendering="crispEdges"/>
<path d="M234.50,188.50 L234.50,196.50 M234.50,188.50 L239.50,188.50 M234.50,192.50 L237.50,192.50 M234.50,196.50 L239.50,196.50 M246.50,190.50 L246.50,196.50 M246.50,192.50 L245.50,191.50 L244.50,190.50 L243.50,190.50 L242.50,191.50 L242.50,192.50 L241.50,193.50 L241.50,193.50 L242.50,195.50 L242.50,195.50 L243.50,196.50 L244.50,196.50 L245.50,195.50 L246.50,195.50 M253.50,192.50 L253.50,191.50 L252.50,190.50 L251.50,190.50 L249.50,191.50 L249.50,192.50 L249.50,192.50 L250.50,193.50 L252.50,193.50 L253.50,193.50 L253.50,194.50 L253.50,195.50 L253.50,195.50 L252.50,196.50 L251.50,196.50 L249.50,195.50 L249.50,195.50 M257.50,188.50 L257.50,194.50 L257.50,195.50 L258.50,196.50 L259.50,196.50 M256.50,190.50 L258.50,190.50 M262.50,195.50 L262.50,196.50 L261.50,195.50 L262.50,195.50 L262.50,195.50 L262.50,196.50 L262.50,197.50 L261.50,197.50" fill="none" stroke="#000000" stroke-width="1.05" stroke-linecap="square" stroke-linejoin="miter" shape-rendering="crispEdges"/>
<path d="M271.50,196.50 L271.50,188.50 L278.50,188.50 L278.50,196.50 L271.50,196.50" fill="none" stroke="#000000" stroke-width="1.05" stroke-linecap="square" stroke-linejoin="miter" shape-rendering="crispEdges"/>
<path d="M284.50,188.50 L286.50,196.50 M288.50,188.50 L286.50,196.50 M288.50,188.50 L290.50,196.50 M291.50,188.50 L290.50,196.50 M293.50,193.50 L298.50,193.50 L298.50,192.50 L297.50,191.50 L297.50,191.50 L296.50,190.50 L295.50,190.50 L294.50,191.50 L294.50,192.50 L293.50,193.50 L293.50,193.50 L294.50,195.50 L294.50,195.50 L295.50,196.50 L296.50,196.50 L297.50,195.50 L298.50,195.50 M304.50,192.50 L304.50,191.50 L303.50,190.50 L302.50,190.50 L300.50,191.50 L300.50,192.50 L300.50,192.50 L301.50,193.50 L303.50,193.50 L304.50,193.50 L304.50,194.50 L304.50,195.50 L304.50,195.50 L303.50,196.50 L302.50,196.50 L300.50,195.50 L300.50,195.50 M307.50,188.50 L307.50,194.50 L308.50,195.50 L308.50,196.50 L309.50,196.50 M306.50,190.50 L309.50,190.50" fill="none" stroke="#000000" stroke-width="1.05" stroke-linecap="square" stroke-linejoin="miter" shape-rendering="crispEdges"/>
<path d="M318.50,190.50 L318.50,189.50 L319.50,189.50 L319.50,188.50 L320.50,188.50 L322.50,188.50 L322.50,188.50 L323.50,189.50 L323.50,189.50 L323.50,190.50 L323.50,191.50 L322.50,192.50 L318.50,196.50 L324.50,196.50 M328.50,188.50 L328.50,188.50 L327.50,189.50 L326.50,191.50 L326.50,192.50 L327.50,194.50 L328.50,195.50 L328.50,196.50 L329.50,196.50 L330.50,195.50 L331.50,194.50 L331.50,192.50 L331.50,191.50 L331.50,189.50 L330.50,188.50 L329.50,188.50 L328.50,188.50 M335.50,189.50 L336.50,189.50 L337.50,188.50 L337.50,196.50 M343.50,189.50 L344.50,189.50 L345.50,188.50 L345.50,196.50 M350.50,190.50 L350.50,189.50 L350.50,189.50 L351.50,188.50 L352.50,188.50 L353.50,188.50 L354.50,188.50 L354.50,189.50 L355.50,189.50 L355.50,190.50 L354.50,191.50 L354.50,192.50 L350.50,196.50 L355.50,196.50 M363.50,188.50 L359.50,196.50 M358.50,188.50 L363.50,188.50 M366.50,188.50 L371.50,188.50 L368.50,191.50 L369.50,191.50 L370.50,191.50 L371.50,192.50 L371.50,193.50 L371.50,193.50 L371.50,195.50 L370.50,195.50 L369.50,196.50 L367.50,196.50 L366.50,195.50 L366.50,195.50 L365.50,194.50" fill="none" stroke="#000000" stroke-width="1.05" stroke-linecap="square" stroke-linejoin="miter" shape-rendering="crispEdges"/>
<path d="M174.50,366.50 L177.50,374.50 M181.50,366.50 L177.50,374.50 M182.50,370.50 L187.50,370.50 L187.50,370.50 L186.50,369.50 L186.50,369.50 L185.50,368.50 L184.50,368.50 L183.50,369.50 L183.50,369.50 L182.50,370.50 L182.50,371.50 L183.50,372.50 L183.50,373.50 L184.50,374.50 L185.50,374.50 L186.50,373.50 L187.50,372.50 M190.50,368.50 L190.50,374.50 M190.50,370.50 L190.50,369.50 L191.50,369.50 L192.50,368.50 L193.50,368.50 M195.50,366.50 L195.50,372.50 L196.50,373.50 L196.50,374.50 L197.50,374.50 M194.50,368.50 L197.50,368.50 M199.50,366.50 L200.50,366.50 L200.50,366.50 L200.50,365.50 L199.50,366.50 M200.50,368.50 L200.50,374.50 M207.50,369.50 L206.50,369.50 L205.50,368.50 L204.50,368.50 L203.50,369.50 L203.50,369.50 L202.50,370.50 L202.50,371.50 L203.50,372.50 L203.50,373.50 L204.50,374.50 L205.50,374.50 L206.50,373.50 L207.50,372.50 M214.50,368.50 L214.50,374.50 M214.50,369.50 L213.50,369.50 L213.50,368.50 L211.50,368.50 L211.50,369.50 L210.50,369.50 L209.50,370.50 L209.50,371.50 L210.50,372.50 L211.50,373.50 L211.50,374.50 L213.50,374.50 L213.50,373.50 L214.50,372.50 M217.50,366.50 L217.50,374.50" fill="none" stroke="#000000" stroke-width="1.05" stroke-linecap="square" stroke-linejoin="miter" shape-rendering="crispEdges"/>
<path d="M226.50,366.50 L228.50,374.50 M230.50,366.50 L228.50,374.50 M230.50,366.50 L232.50,374.50 M234.50,366.50 L232.50,374.50 M235.50,366.50 L236.50,366.50 L236.50,366.50 L236.50,365.50 L235.50,366.50 M236.50,368.50 L236.50,374.50 M239.50,368.50 L239.50,374.50 M239.50,370.50 L240.50,369.50 L241.50,368.50 L242.50,368.50 L243.50,369.50 L243.50,370.50 L243.50,374.50 M251.50,366.50 L251.50,374.50 M251.50,369.50 L250.50,369.50 L249.50,368.50 L248.50,368.50 L247.50,369.50 L246.50,369.50 L246.50,370.50 L246.50,371.50 L246.50,372.50 L247.50,373.50 L248.50,374.50 L249.50,374.50 L250.50,373.50 L251.50,372.50 M258.50,369.50 L257.50,369.50 L256.50,368.50 L255.50,368.50 L254.50,369.50 L253.50,369.50 L254.50,370.50 L254.50,370.50 L256.50,371.50 L257.50,371.50 L258.50,372.50 L258.50,372.50 L257.50,373.50 L256.50,374.50 L255.50,374.50 L254.50,373.50 L253.50,372.50" fill="none" stroke="#000000" stroke-width="1.05" stroke-linecap="square" stroke-linejoin="miter" shape-rendering="crispEdges"/>
<path d="M271.50,368.50 L271.50,369.50 L270.50,370.50 L269.50,370.50 L269.50,370.50 L267.50,370.50 L267.50,369.50 L266.50,368.50 L266.50,368.50 L267.50,367.50 L267.50,366.50 L269.50,366.50 L269.50,366.50 L270.50,366.50 L271.50,367.50 L271.50,368.50 L271.50,370.50 L271.50,372.50 L270.50,373.50 L269.50,374.50 L268.50,374.50 L267.50,373.50 L267.50,372.50 M281.50,364.50 L274.50,376.50 M284.50,366.50 L288.50,366.50 L286.50,369.50 L287.50,369.50 L288.50,369.50 L288.50,369.50 L288.50,370.50 L288.50,371.50 L288.50,372.50 L287.50,373.50 L286.50,374.50 L285.50,374.50 L284.50,373.50 L283.50,373.50 L283.50,372.50 M293.50,366.50 L292.50,366.50 L291.50,367.50 L291.50,369.50 L291.50,370.50 L291.50,372.50 L292.50,373.50 L293.50,374.50 L294.50,374.50 L295.50,373.50 L295.50,372.50 L296.50,370.50 L296.50,369.50 L295.50,367.50 L295.50,366.50 L294.50,366.50 L293.50,366.50 M305.50,364.50 L298.50,376.50 M308.50,367.50 L308.50,367.50 L308.50,366.50 L308.50,366.50 L309.50,366.50 L311.50,366.50 L312.50,366.50 L312.50,366.50 L312.50,367.50 L312.50,368.50 L312.50,369.50 L311.50,370.50 L307.50,374.50 L313.50,374.50 M318.50,366.50 L317.50,366.50 L316.50,367.50 L316.50,369.50 L316.50,370.50 L316.50,372.50 L317.50,373.50 L318.50,374.50 L318.50,374.50 L319.50,373.50 L320.50,372.50 L320.50,370.50 L320.50,369.50 L320.50,367.50 L319.50,366.50 L318.50,366.50 L318.50,366.50 M324.50,367.50 L325.50,367.50 L326.50,366.50 L326.50,374.50 M332.50,367.50 L333.50,367.50 L334.50,366.50 L334.50,374.50" fill="none" stroke="#000000" stroke-width="1.05" stroke-linecap="square" stroke-linejoin="miter" shape-rendering="crispEdges"/>
<path d="M677.50,11.50 L676.50,10.50 L675.50,10.50 L674.50,10.50 L672.50,10.50 L672.50,11.50 L672.50,12.50 L672.50,13.50 L672.50,13.50 L673.50,13.50 L676.50,14.50 L676.50,15.50 L677.50,15.50 L677.50,16.50 L677.50,17.50 L676.50,18.50 L675.50,18.50 L674.50,18.50 L672.50,18.50 L672.50,17.50 M680.50,10.50 L680.50,10.50 L680.50,10.50 L680.50,10.50 L680.50,10.50 M680.50,13.50 L680.50,18.50 M688.50,13.50 L688.50,19.50 L687.50,20.50 L687.50,20.50 L686.50,21.50 L685.50,21.50 L684.50,20.50 M688.50,14.50 L687.50,13.50 L686.50,13.50 L685.50,13.50 L684.50,13.50 L683.50,14.50 L683.50,15.50 L683.50,16.50 L683.50,17.50 L684.50,18.50 L685.50,18.50 L686.50,18.50 L687.50,18.50 L688.50,17.50 M691.50,13.50 L691.50,18.50 M691.50,14.50 L692.50,13.50 L693.50,13.50 L694.50,13.50 L695.50,13.50 L695.50,14.50 L695.50,18.50 M703.50,13.50 L703.50,18.50 M703.50,14.50 L702.50,13.50 L701.50,13.50 L700.50,13.50 L699.50,13.50 L699.50,14.50 L698.50,15.50 L698.50,16.50 L699.50,17.50 L699.50,18.50 L700.50,18.50 L701.50,18.50 L702.50,18.50 L703.50,17.50 M706.50,10.50 L706.50,18.50" fill="none" stroke="#000000" stroke-width="1.05" stroke-linecap="square" stroke-linejoin="miter" shape-rendering="crispEdges"/>
<path d="M715.50,10.50 L715.50,18.50 M715.50,10.50 L718.50,10.50 L720.50,10.50 L720.50,11.50 L720.50,12.50 L720.50,12.50 L720.50,13.50 L720.50,13.50 L718.50,14.50 M715.50,14.50 L718.50,14.50 L720.50,14.50 L720.50,15.50 L720.50,15.50 L720.50,16.50 L720.50,17.50 L720.50,18.50 L718.50,18.50 L715.50,18.50 M723.50,13.50 L723.50,18.50 M723.50,15.50 L724.50,14.50 L724.50,13.50 L725.50,13.50 L726.50,13.50 M728.50,10.50 L728.50,10.50 L729.50,10.50 L728.50,10.50 L728.50,10.50 M728.50,13.50 L728.50,18.50 M736.50,13.50 L736.50,19.50 L736.50,20.50 L735.50,20.50 L734.50,21.50 L733.50,21.50 L732.50,20.50 M736.50,14.50 L735.50,13.50 L734.50,13.50 L733.50,13.50 L732.50,13.50 L732.50,14.50 L731.50,15.50 L731.50,16.50 L732.50,17.50 L732.50,18.50 L733.50,18.50 L734.50,18.50 L735.50,18.50 L736.50,17.50 M739.50,10.50 L739.50,18.50 M739.50,14.50 L740.50,13.50 L741.50,13.50 L742.50,13.50 L743.50,13.50 L744.50,14.50 L744.50,18.50 M747.50,10.50 L747.50,16.50 L748.50,18.50 L748.50,18.50 L749.50,18.50 M746.50,13.50 L749.50,13.50 M752.50,13.50 L752.50,18.50 M752.50,14.50 L753.50,13.50 L754.50,13.50 L755.50,13.50 L756.50,13.50 L756.50,14.50 L756.50,18.50 M759.50,15.50 L764.50,15.50 L764.50,14.50 L763.50,13.50 L763.50,13.50 L762.50,13.50 L761.50,13.50 L760.50,13.50 L759.50,14.50 L759.50,15.50 L759.50,16.50 L759.50,17.50 L760.50,18.50 L761.50,18.50 L762.50,18.50 L763.50,18.50 L764.50,17.50 M770.50,14.50 L770.50,13.50 L769.50,13.50 L768.50,13.50 L766.50,13.50 L766.50,14.50 L766.50,15.50 L767.50,15.50 L769.50,15.50 L770.50,16.50 L770.50,16.50 L770.50,17.50 L770.50,18.50 L769.50,18.50 L768.50,18.50 L766.50,18.50 L766.50,17.50 M777.50,14.50 L777.50,13.50 L776.50,13.50 L774.50,13.50 L773.50,13.50 L773.50,14.50 L773.50,15.50 L774.50,15.50 L776.50,15.50 L777.50,16.50 L777.50,16.50 L777.50,17.50 L777.50,18.50 L776.50,18.50 L774.50,18.50 L773.50,18.50 L773.50,17.50" fill="none" stroke="#000000" stroke-width="1.05" stroke-linecap="square" stroke-linejoin="miter" shape-rendering="crispEdges"/>
<path d="M686.50,188.50 L686.50,196.50 M686.50,188.50 L690.50,188.50 L691.50,188.50 L691.50,189.50 L692.50,190.50 L692.50,190.50 L691.50,191.50 L691.50,191.50 L690.50,192.50 M686.50,192.50 L690.50,192.50 L691.50,192.50 L691.50,193.50 L692.50,193.50 L692.50,194.50 L691.50,195.50 L691.50,196.50 L690.50,196.50 L686.50,196.50 M699.50,191.50 L699.50,196.50 M699.50,192.50 L698.50,191.50 L697.50,191.50 L696.50,191.50 L695.50,191.50 L694.50,192.50 L694.50,193.50 L694.50,194.50 L694.50,195.50 L695.50,196.50 L696.50,196.50 L697.50,196.50 L698.50,196.50 L699.50,195.50 M706.50,192.50 L705.50,191.50 L705.50,191.50 L703.50,191.50 L703.50,191.50 L702.50,192.50 L702.50,193.50 L702.50,194.50 L702.50,195.50 L703.50,196.50 L703.50,196.50 L705.50,196.50 L705.50,196.50 L706.50,195.50 M709.50,188.50 L709.50,196.50 M713.50,191.50 L709.50,194.50 M711.50,193.50 L713.50,196.50 M720.50,191.50 L720.50,197.50 L720.50,198.50 L719.50,198.50 L719.50,199.50 L717.50,199.50 L717.50,198.50 M720.50,192.50 L719.50,191.50 L719.50,191.50 L717.50,191.50 L717.50,191.50 L716.50,192.50 L715.50,193.50 L715.50,194.50 L716.50,195.50 L717.50,196.50 L717.50,196.50 L719.50,196.50 L719.50,196.50 L720.50,195.50 M723.50,191.50 L723.50,196.50 M723.50,193.50 L724.50,192.50 L724.50,191.50 L725.50,191.50 L726.50,191.50 M730.50,191.50 L729.50,191.50 L728.50,192.50 L728.50,193.50 L728.50,194.50 L728.50,195.50 L729.50,196.50 L730.50,196.50 L731.50,196.50 L732.50,196.50 L733.50,195.50 L733.50,194.50 L733.50,193.50 L733.50,192.50 L732.50,191.50 L731.50,191.50 L730.50,191.50 M736.50,191.50 L736.50,194.50 L736.50,196.50 L737.50,196.50 L738.50,196.50 L739.50,196.50 L740.50,194.50 M740.50,191.50 L740.50,196.50 M743.50,191.50 L743.50,196.50 M743.50,192.50 L745.50,191.50 L745.50,191.50 L747.50,191.50 L747.50,191.50 L748.50,192.50 L748.50,196.50 M755.50,188.50 L755.50,196.50 M755.50,192.50 L754.50,191.50 L754.50,191.50 L753.50,191.50 L752.50,191.50 L751.50,192.50 L751.50,193.50 L751.50,194.50 L751.50,195.50 L752.50,196.50 L753.50,196.50 L754.50,196.50 L754.50,196.50 L755.50,195.50 M762.50,192.50 L762.50,191.50 L761.50,191.50 L760.50,191.50 L758.50,191.50 L758.50,192.50 L758.50,193.50 L759.50,193.50 L761.50,193.50 L762.50,194.50 L762.50,194.50 L762.50,195.50 L762.50,196.50 L761.50,196.50 L760.50,196.50 L758.50,196.50 L758.50,195.50" fill="none" stroke="#000000" stroke-width="1.05" stroke-linecap="square" stroke-linejoin="miter" shape-rendering="crispEdges"/>
<path d="M683.50,366.50 L680.50,374.50 M683.50,366.50 L686.50,374.50 M681.50,371.50 L685.50,371.50 M688.50,368.50 L690.50,374.50 M692.50,368.50 L690.50,374.50 M694.50,371.50 L699.50,371.50 L699.50,370.50 L699.50,369.50 L698.50,369.50 L697.50,368.50 L696.50,368.50 L696.50,369.50 L695.50,370.50 L694.50,371.50 L694.50,372.50 L695.50,373.50 L696.50,373.50 L696.50,374.50 L697.50,374.50 L698.50,373.50 L699.50,373.50 M702.50,368.50 L702.50,374.50 M702.50,371.50 L702.50,370.50 L703.50,369.50 L704.50,368.50 L705.50,368.50 M711.50,368.50 L711.50,374.50 M711.50,370.50 L711.50,369.50 L710.50,368.50 L709.50,368.50 L708.50,369.50 L707.50,370.50 L707.50,371.50 L707.50,372.50 L707.50,373.50 L708.50,373.50 L709.50,374.50 L710.50,374.50 L711.50,373.50 L711.50,373.50 M719.50,368.50 L719.50,375.50 L719.50,376.50 L718.50,376.50 L717.50,376.50 L716.50,376.50 L715.50,376.50 M719.50,370.50 L718.50,369.50 L717.50,368.50 L716.50,368.50 L715.50,369.50 L715.50,370.50 L714.50,371.50 L714.50,372.50 L715.50,373.50 L715.50,373.50 L716.50,374.50 L717.50,374.50 L718.50,373.50 L719.50,373.50 M722.50,371.50 L727.50,371.50 L727.50,370.50 L726.50,369.50 L726.50,369.50 L725.50,368.50 L724.50,368.50 L723.50,369.50 L722.50,370.50 L722.50,371.50 L722.50,372.50 L722.50,373.50 L723.50,373.50 L724.50,374.50 L725.50,374.50 L726.50,373.50 L727.50,373.50" fill="none" stroke="#000000" stroke-width="1.05" stroke-linecap="square" stroke-linejoin="miter" shape-rendering="crispEdges"/>
<path d="M735.50,366.50 L737.50,374.50 M739.50,366.50 L737.50,374.50 M739.50,366.50 L741.50,374.50 M743.50,366.50 L741.50,374.50 M745.50,366.50 L745.50,366.50 L746.50,366.50 L745.50,365.50 L745.50,366.50 M745.50,368.50 L745.50,374.50 M748.50,368.50 L748.50,374.50 M748.50,370.50 L749.50,369.50 L750.50,368.50 L751.50,368.50 L752.50,369.50 L753.50,370.50 L753.50,374.50 M760.50,366.50 L760.50,374.50 M760.50,370.50 L759.50,369.50 L758.50,368.50 L757.50,368.50 L756.50,369.50 L756.50,370.50 L755.50,371.50 L755.50,372.50 L756.50,373.50 L756.50,373.50 L757.50,374.50 L758.50,374.50 L759.50,373.50 L760.50,373.50 M767.50,370.50 L767.50,369.50 L765.50,368.50 L764.50,368.50 L763.50,369.50 L763.50,370.50 L763.50,370.50 L764.50,371.50 L766.50,371.50 L767.50,372.50 L767.50,372.50 L767.50,373.50 L767.50,373.50 L765.50,374.50 L764.50,374.50 L763.50,373.50 L763.50,373.50" fill="none" stroke="#000000" stroke-width="1.05" stroke-linecap="square" stroke-linejoin="miter" shape-rendering="crispEdges"/>
<path d="M239.50,519.50 L239.50,524.50 L239.50,525.50 L240.50,525.50 L241.50,526.50 L242.50,526.50 L242.50,525.50 L243.50,525.50 L243.50,524.50 L243.50,519.50 M247.50,519.50 L247.50,526.50 M245.50,519.50 L249.50,519.50 M258.50,518.50 L258.50,518.50 L257.50,519.50 L256.50,521.50 L256.50,522.50 L256.50,524.50 L256.50,525.50 L257.50,526.50 L258.50,527.50 L258.50,528.50 M260.50,519.50 L260.50,526.50 M260.50,523.50 L261.50,522.50 L262.50,521.50 L263.50,521.50 L263.50,522.50 L264.50,523.50 L264.50,526.50 M266.50,521.50 L266.50,526.50 M266.50,523.50 L267.50,522.50 L267.50,522.50 L268.50,521.50 L269.50,521.50 M270.50,518.50 L271.50,518.50 L271.50,519.50 L272.50,521.50 L272.50,522.50 L272.50,524.50 L272.50,525.50 L271.50,526.50 L271.50,527.50 L270.50,528.50" fill="none" stroke="#000000" stroke-width="1.05" stroke-linecap="square" stroke-linejoin="miter" shape-rendering="crispEdges"/>
<path d="M707.50,519.50 L707.50,524.50 L707.50,525.50 L708.50,525.50 L709.50,526.50 L710.50,526.50 L711.50,525.50 L711.50,525.50 L711.50,524.50 L711.50,519.50 M715.50,519.50 L715.50,526.50 M713.50,519.50 L718.50,519.50 M726.50,518.50 L726.50,518.50 L725.50,519.50 L725.50,521.50 L724.50,522.50 L724.50,524.50 L725.50,525.50 L725.50,526.50 L726.50,527.50 L726.50,528.50 M729.50,519.50 L729.50,526.50 M729.50,523.50 L730.50,522.50 L730.50,521.50 L731.50,521.50 L732.50,522.50 L732.50,523.50 L732.50,526.50 M735.50,521.50 L735.50,526.50 M735.50,523.50 L735.50,522.50 L736.50,522.50 L736.50,521.50 L737.50,521.50 M739.50,518.50 L739.50,518.50 L740.50,519.50 L740.50,521.50 L741.50,522.50 L741.50,524.50 L740.50,525.50 L740.50,526.50 L739.50,527.50 L739.50,528.50" fill="none" stroke="#000000" stroke-width="1.05" stroke-linecap="square" stroke-linejoin="miter" shape-rendering="crispEdges"/>
<path d="M79.50,29.50 L78.50,29.50 L78.50,30.50 L78.50,30.50 L78.50,31.50 L79.50,31.50 L80.50,32.50 L82.50,32.50 L82.50,33.50 L83.50,33.50 L83.50,34.50 L82.50,35.50 L82.50,35.50 L81.50,36.50 L79.50,36.50 L78.50,35.50 L78.50,35.50 L77.50,34.50 L77.50,33.50 L78.50,33.50 L79.50,32.50 L80.50,32.50 L81.50,31.50 L82.50,31.50 L82.50,30.50 L82.50,30.50 L82.50,29.50 L81.50,29.50 L79.50,29.50 M90.50,31.50 L90.50,32.50 L89.50,33.50 L88.50,33.50 L87.50,33.50 L86.50,33.50 L86.50,32.50 L85.50,31.50 L85.50,31.50 L86.50,30.50 L86.50,29.50 L87.50,29.50 L88.50,29.50 L89.50,29.50 L90.50,30.50 L90.50,31.50 L90.50,33.50 L90.50,34.50 L89.50,35.50 L88.50,36.50 L87.50,36.50 L86.50,35.50 L86.50,35.50 M93.50,30.50 L93.50,30.50 L94.50,29.50 L94.50,29.50 L95.50,29.50 L96.50,29.50 L97.50,29.50 L97.50,29.50 L98.50,30.50 L98.50,31.50 L97.50,31.50 L97.50,32.50 L93.50,36.50 L98.50,36.50 M103.50,29.50 L102.50,29.50 L101.50,30.50 L101.50,32.50 L101.50,33.50 L101.50,34.50 L102.50,35.50 L103.50,36.50 L104.50,36.50 L104.50,35.50 L105.50,34.50 L106.50,33.50 L106.50,32.50 L105.50,30.50 L104.50,29.50 L104.50,29.50 L103.50,29.50" fill="none" stroke="#1a1a98" stroke-width="1.05" stroke-linecap="square" stroke-linejoin="miter" shape-rendering="crispEdges"/>
<path d="M116.50,27.50 L116.50,28.50 L115.50,29.50 L114.50,30.50 L114.50,32.50 L114.50,33.50 L114.50,35.50 L115.50,36.50 L116.50,37.50 L116.50,38.50 M119.50,29.50 L119.50,36.50 M119.50,32.50 L120.50,31.50 L121.50,31.50 L122.50,31.50 L123.50,31.50 L123.50,32.50 L124.50,33.50 L124.50,34.50 L123.50,35.50 L123.50,35.50 L122.50,36.50 L121.50,36.50 L120.50,35.50 L119.50,35.50 M126.50,29.50 L126.50,36.50 M129.50,31.50 L129.50,34.50 L130.50,35.50 L131.50,36.50 L132.50,36.50 L133.50,35.50 L134.50,34.50 M134.50,31.50 L134.50,36.50 M136.50,33.50 L141.50,33.50 L141.50,32.50 L141.50,32.50 L140.50,31.50 L139.50,31.50 L138.50,31.50 L138.50,31.50 L137.50,32.50 L136.50,33.50 L136.50,34.50 L137.50,35.50 L138.50,35.50 L138.50,36.50 L139.50,36.50 L140.50,35.50 L141.50,35.50 M143.50,27.50 L144.50,28.50 L145.50,29.50 L146.50,30.50 L146.50,32.50 L146.50,33.50 L146.50,35.50 L145.50,36.50 L144.50,37.50 L143.50,38.50" fill="none" stroke="#1a1a98" stroke-width="1.05" stroke-linecap="square" stroke-linejoin="miter" shape-rendering="crispEdges"/>
<path d="M196.50,29.50 L192.50,29.50 L192.50,32.50 L192.50,31.50 L193.50,31.50 L195.50,31.50 L196.50,31.50 L196.50,32.50 L197.50,33.50 L197.50,34.50 L196.50,35.50 L196.50,35.50 L195.50,36.50 L193.50,36.50 L192.50,35.50 L192.50,35.50 L192.50,34.50 M204.50,29.50 L200.50,29.50 L199.50,32.50 L200.50,31.50 L201.50,31.50 L202.50,31.50 L203.50,31.50 L204.50,32.50 L204.50,33.50 L204.50,34.50 L204.50,35.50 L203.50,35.50 L202.50,36.50 L201.50,36.50 L200.50,35.50 L199.50,35.50 L199.50,34.50 M212.50,29.50 L208.50,36.50 M207.50,29.50 L212.50,29.50 M219.50,29.50 L215.50,36.50 M214.50,29.50 L219.50,29.50" fill="none" stroke="#40d840" stroke-width="1.05" stroke-linecap="square" stroke-linejoin="miter" shape-rendering="crispEdges"/>
<path d="M230.50,27.50 L230.50,28.50 L229.50,29.50 L228.50,30.50 L228.50,32.50 L228.50,33.50 L228.50,35.50 L229.50,36.50 L230.50,37.50 L230.50,38.50 M237.50,31.50 L237.50,36.50 L237.50,37.50 L237.50,38.50 L236.50,38.50 L235.50,38.50 L234.50,38.50 M237.50,32.50 L237.50,31.50 L236.50,31.50 L235.50,31.50 L234.50,31.50 L233.50,32.50 L233.50,33.50 L233.50,34.50 L233.50,35.50 L234.50,35.50 L235.50,36.50 L236.50,36.50 L237.50,35.50 L237.50,35.50 M240.50,31.50 L240.50,36.50 M240.50,33.50 L241.50,32.50 L242.50,31.50 L242.50,31.50 L243.50,31.50 M245.50,33.50 L250.50,33.50 L250.50,32.50 L249.50,32.50 L249.50,31.50 L248.50,31.50 L247.50,31.50 L246.50,31.50 L245.50,32.50 L245.50,33.50 L245.50,34.50 L245.50,35.50 L246.50,35.50 L247.50,36.50 L248.50,36.50 L249.50,35.50 L250.50,35.50 M252.50,33.50 L257.50,33.50 L257.50,32.50 L256.50,32.50 L256.50,31.50 L255.50,31.50 L254.50,31.50 L253.50,31.50 L252.50,32.50 L252.50,33.50 L252.50,34.50 L252.50,35.50 L253.50,35.50 L254.50,36.50 L255.50,36.50 L256.50,35.50 L257.50,35.50 M259.50,31.50 L259.50,36.50 M259.50,32.50 L260.50,31.50 L261.50,31.50 L262.50,31.50 L263.50,31.50 L264.50,32.50 L264.50,36.50 M266.50,27.50 L267.50,28.50 L268.50,29.50 L269.50,30.50 L269.50,32.50 L269.50,33.50 L269.50,35.50 L268.50,36.50 L267.50,37.50 L266.50,38.50" fill="none" stroke="#40d840" stroke-width="1.05" stroke-linecap="square" stroke-linejoin="miter" shape-rendering="crispEdges"/>
<path d="M359.50,30.50 L359.50,29.50 L358.50,29.50 L357.50,29.50 L356.50,29.50 L355.50,30.50 L355.50,32.50 L355.50,33.50 L355.50,35.50 L356.50,35.50 L357.50,36.50 L357.50,36.50 L358.50,35.50 L359.50,35.50 L360.50,34.50 L360.50,33.50 L359.50,32.50 L358.50,32.50 L357.50,31.50 L357.50,31.50 L356.50,32.50 L355.50,32.50 L355.50,33.50 M363.50,29.50 L367.50,29.50 L364.50,31.50 L366.50,31.50 L366.50,32.50 L367.50,32.50 L367.50,33.50 L367.50,34.50 L367.50,35.50 L366.50,35.50 L365.50,36.50 L364.50,36.50 L363.50,35.50 L362.50,35.50 L362.50,34.50 M372.50,29.50 L371.50,29.50 L370.50,30.50 L370.50,32.50 L370.50,33.50 L370.50,34.50 L371.50,35.50 L372.50,36.50 L372.50,36.50 L373.50,35.50 L374.50,34.50 L374.50,33.50 L374.50,32.50 L374.50,30.50 L373.50,29.50 L372.50,29.50 L372.50,29.50 M379.50,29.50 L378.50,29.50 L378.50,30.50 L377.50,32.50 L377.50,33.50 L378.50,34.50 L378.50,35.50 L379.50,36.50 L380.50,36.50 L381.50,35.50 L381.50,34.50 L382.50,33.50 L382.50,32.50 L381.50,30.50 L381.50,29.50 L380.50,29.50 L379.50,29.50" fill="none" stroke="#b01424" stroke-width="1.05" stroke-linecap="square" stroke-linejoin="miter" shape-rendering="crispEdges"/>
<path d="M393.50,27.50 L393.50,28.50 L392.50,29.50 L391.50,30.50 L391.50,32.50 L391.50,33.50 L391.50,35.50 L392.50,36.50 L393.50,37.50 L393.50,38.50 M396.50,31.50 L396.50,36.50 M396.50,33.50 L397.50,32.50 L397.50,31.50 L398.50,31.50 L399.50,31.50 M401.50,33.50 L406.50,33.50 L406.50,32.50 L405.50,32.50 L405.50,31.50 L404.50,31.50 L403.50,31.50 L402.50,31.50 L401.50,32.50 L401.50,33.50 L401.50,34.50 L401.50,35.50 L402.50,35.50 L403.50,36.50 L404.50,36.50 L405.50,35.50 L406.50,35.50 M413.50,29.50 L413.50,36.50 M413.50,32.50 L412.50,31.50 L411.50,31.50 L410.50,31.50 L409.50,31.50 L408.50,32.50 L408.50,33.50 L408.50,34.50 L408.50,35.50 L409.50,35.50 L410.50,36.50 L411.50,36.50 L412.50,35.50 L413.50,35.50 M416.50,27.50 L416.50,28.50 L417.50,29.50 L418.50,30.50 L418.50,32.50 L418.50,33.50 L418.50,35.50 L417.50,36.50 L416.50,37.50 L416.50,38.50" fill="none" stroke="#b01424" stroke-width="1.05" stroke-linecap="square" stroke-linejoin="miter" shape-rendering="crispEdges"/>
<path d="M458.50,24.50 L455.50,29.50 L460.50,29.50 M458.50,24.50 L458.50,31.50 M463.50,24.50 L462.50,25.50 L462.50,25.50 L462.50,27.50 L462.50,28.50 L462.50,30.50 L462.50,31.50 L463.50,31.50 L464.50,31.50 L464.50,31.50 L465.50,30.50 L465.50,28.50 L465.50,27.50 L465.50,25.50 L464.50,25.50 L464.50,24.50 L463.50,24.50 M470.50,24.50 L469.50,25.50 L468.50,25.50 L468.50,27.50 L468.50,28.50 L468.50,30.50 L469.50,31.50 L470.50,31.50 L470.50,31.50 L471.50,31.50 L471.50,30.50 L472.50,28.50 L472.50,27.50 L471.50,25.50 L471.50,25.50 L470.50,24.50 L470.50,24.50" fill="none" stroke="#b01424" stroke-width="1.05" stroke-linecap="square" stroke-linejoin="miter" shape-rendering="crispEdges"/>
<path d="M455.50,52.50 L455.50,51.50 L455.50,51.50 L456.50,50.50 L456.50,50.50 L458.50,50.50 L458.50,50.50 L459.50,51.50 L459.50,51.50 L459.50,52.50 L459.50,53.50 L458.50,54.50 L455.50,57.50 L459.50,57.50 M463.50,50.50 L462.50,50.50 L462.50,51.50 L462.50,53.50 L462.50,54.50 L462.50,56.50 L462.50,56.50 L463.50,57.50 L464.50,57.50 L464.50,56.50 L465.50,56.50 L465.50,54.50 L465.50,53.50 L465.50,51.50 L464.50,50.50 L464.50,50.50 L463.50,50.50 M470.50,50.50 L469.50,50.50 L468.50,51.50 L468.50,53.50 L468.50,54.50 L468.50,56.50 L469.50,56.50 L470.50,57.50 L470.50,57.50 L471.50,56.50 L471.50,56.50 L472.50,54.50 L472.50,53.50 L471.50,51.50 L471.50,50.50 L470.50,50.50 L470.50,50.50" fill="none" stroke="#b01424" stroke-width="1.05" stroke-linecap="square" stroke-linejoin="miter" shape-rendering="crispEdges"/>
<path d="M456.50,80.50 L456.50,81.50 L455.50,81.50 L455.50,83.50 L455.50,84.50 L455.50,86.50 L456.50,87.50 L456.50,87.50 L457.50,87.50 L458.50,87.50 L458.50,86.50 L459.50,84.50 L459.50,83.50 L458.50,81.50 L458.50,81.50 L457.50,80.50 L456.50,80.50" fill="none" stroke="#b01424" stroke-width="1.05" stroke-linecap="square" stroke-linejoin="miter" shape-rendering="crispEdges"/>
<path d="M455.50,113.50 L461.50,113.50 M463.50,111.50 L463.50,111.50 L463.50,110.50 L464.50,110.50 L464.50,109.50 L466.50,109.50 L466.50,110.50 L467.50,110.50 L467.50,111.50 L467.50,111.50 L467.50,112.50 L466.50,113.50 L463.50,116.50 L467.50,116.50 M471.50,109.50 L470.50,110.50 L470.50,111.50 L470.50,112.50 L470.50,113.50 L470.50,115.50 L470.50,116.50 L471.50,116.50 L472.50,116.50 L472.50,116.50 L473.50,115.50 L473.50,113.50 L473.50,112.50 L473.50,111.50 L472.50,110.50 L472.50,109.50 L471.50,109.50 M478.50,109.50 L477.50,110.50 L476.50,111.50 L476.50,112.50 L476.50,113.50 L476.50,115.50 L477.50,116.50 L478.50,116.50 L478.50,116.50 L479.50,116.50 L479.50,115.50 L480.50,113.50 L480.50,112.50 L479.50,111.50 L479.50,110.50 L478.50,109.50 L478.50,109.50" fill="none" stroke="#b01424" stroke-width="1.05" stroke-linecap="square" stroke-linejoin="miter" shape-rendering="crispEdges"/>
<path d="M455.50,139.50 L461.50,139.50 M466.50,135.50 L463.50,140.50 L468.50,140.50 M466.50,135.50 L466.50,142.50 M471.50,135.50 L470.50,135.50 L470.50,136.50 L470.50,138.50 L470.50,139.50 L470.50,141.50 L470.50,141.50 L471.50,142.50 L472.50,142.50 L472.50,141.50 L473.50,141.50 L473.50,139.50 L473.50,138.50 L473.50,136.50 L472.50,135.50 L472.50,135.50 L471.50,135.50 M478.50,135.50 L477.50,135.50 L476.50,136.50 L476.50,138.50 L476.50,139.50 L476.50,141.50 L477.50,141.50 L478.50,142.50 L478.50,142.50 L479.50,141.50 L479.50,141.50 L480.50,139.50 L480.50,138.50 L479.50,136.50 L479.50,135.50 L478.50,135.50 L478.50,135.50" fill="none" stroke="#b01424" stroke-width="1.05" stroke-linecap="square" stroke-linejoin="miter" shape-rendering="crispEdges"/>
<path d="M486.50,104.50 L486.50,104.50 L486.50,105.50 L486.50,106.50 L486.50,107.50 L487.50,108.50 L488.50,108.50 L490.50,108.50 L491.50,108.50 L492.50,107.50 L492.50,106.50 L492.50,106.50 L492.50,105.50 L491.50,104.50 L490.50,104.50 L490.50,104.50 L489.50,104.50 L488.50,105.50 L488.50,106.50 L488.50,106.50 L488.50,107.50 L489.50,108.50 L490.50,108.50 M486.50,101.50 L486.50,98.50 L488.50,100.50 L488.50,99.50 L488.50,98.50 L489.50,98.50 L489.50,98.50 L490.50,98.50 L491.50,98.50 L492.50,99.50 L492.50,99.50 L492.50,100.50 L492.50,101.50 L491.50,102.50 L491.50,102.50 M486.50,94.50 L486.50,94.50 L487.50,95.50 L488.50,95.50 L489.50,95.50 L491.50,95.50 L492.50,94.50 L492.50,94.50 L492.50,93.50 L492.50,93.50 L491.50,92.50 L489.50,92.50 L488.50,92.50 L487.50,92.50 L486.50,93.50 L486.50,93.50 L486.50,94.50 M486.50,88.50 L486.50,88.50 L487.50,89.50 L488.50,89.50 L489.50,89.50 L491.50,89.50 L492.50,88.50 L492.50,88.50 L492.50,87.50 L492.50,86.50 L491.50,86.50 L489.50,85.50 L488.50,85.50 L487.50,86.50 L486.50,86.50 L486.50,87.50 L486.50,88.50 M488.50,78.50 L492.50,78.50 M489.50,78.50 L488.50,77.50 L488.50,76.50 L488.50,75.50 L488.50,75.50 L489.50,74.50 L492.50,74.50 M489.50,74.50 L488.50,74.50 L488.50,73.50 L488.50,72.50 L488.50,71.50 L489.50,71.50 L492.50,71.50 M484.50,64.50 L494.50,69.50 M489.50,59.50 L488.50,59.50 L488.50,60.50 L488.50,61.50 L488.50,62.50 L489.50,62.50 L489.50,62.50 L489.50,61.50 L490.50,59.50 L490.50,59.50 L491.50,59.50 L491.50,59.50 L492.50,59.50 L492.50,60.50 L492.50,61.50 L492.50,62.50 L491.50,62.50" fill="none" stroke="#b01424" stroke-width="1.05" stroke-linecap="square" stroke-linejoin="miter" shape-rendering="crispEdges"/>
<path d="M456.50,203.50 L454.50,206.50 L458.50,206.50 M456.50,203.50 L456.50,207.50 M460.50,203.50 L460.50,203.50 L459.50,204.50 L459.50,205.50 L459.50,205.50 L459.50,206.50 L460.50,207.50 L460.50,207.50 L461.50,207.50 L461.50,207.50 L462.50,206.50 L462.50,205.50 L462.50,205.50 L462.50,204.50 L461.50,203.50 L461.50,203.50 L460.50,203.50 M465.50,203.50 L465.50,203.50 L464.50,204.50 L464.50,205.50 L464.50,205.50 L464.50,206.50 L465.50,207.50 L465.50,207.50 L466.50,207.50 L466.50,207.50 L467.50,206.50 L467.50,205.50 L467.50,205.50 L467.50,204.50 L466.50,203.50 L466.50,203.50 L465.50,203.50" fill="none" stroke="#b01424" stroke-width="1.0" stroke-linecap="square" stroke-linejoin="miter" shape-rendering="crispEdges"/>
<path d="M454.50,231.50 L454.50,231.50 L454.50,230.50 L455.50,230.50 L455.50,230.50 L456.50,230.50 L457.50,230.50 L457.50,230.50 L457.50,231.50 L457.50,231.50 L457.50,231.50 L456.50,232.50 L454.50,234.50 L457.50,234.50 M460.50,230.50 L460.50,230.50 L459.50,231.50 L459.50,232.50 L459.50,232.50 L459.50,233.50 L460.50,234.50 L460.50,234.50 L461.50,234.50 L461.50,234.50 L462.50,233.50 L462.50,232.50 L462.50,232.50 L462.50,231.50 L461.50,230.50 L461.50,230.50 L460.50,230.50 M465.50,230.50 L465.50,230.50 L464.50,231.50 L464.50,232.50 L464.50,232.50 L464.50,233.50 L465.50,234.50 L465.50,234.50 L466.50,234.50 L466.50,234.50 L467.50,233.50 L467.50,232.50 L467.50,232.50 L467.50,231.50 L466.50,230.50 L466.50,230.50 L465.50,230.50" fill="none" stroke="#b01424" stroke-width="1.0" stroke-linecap="square" stroke-linejoin="miter" shape-rendering="crispEdges"/>
<path d="M455.50,260.50 L455.50,260.50 L454.50,260.50 L454.50,261.50 L454.50,262.50 L454.50,263.50 L455.50,264.50 L455.50,264.50 L456.50,264.50 L456.50,264.50 L457.50,263.50 L457.50,262.50 L457.50,261.50 L457.50,260.50 L456.50,260.50 L456.50,260.50 L455.50,260.50" fill="none" stroke="#b01424" stroke-width="1.0" stroke-linecap="square" stroke-linejoin="miter" shape-rendering="crispEdges"/>
<path d="M454.50,291.50 L458.50,291.50 M460.50,290.50 L460.50,290.50 L461.50,289.50 L461.50,289.50 L461.50,289.50 L462.50,289.50 L463.50,289.50 L463.50,289.50 L463.50,290.50 L463.50,290.50 L463.50,290.50 L463.50,291.50 L460.50,293.50 L463.50,293.50 M466.50,289.50 L466.50,289.50 L465.50,290.50 L465.50,291.50 L465.50,291.50 L465.50,292.50 L466.50,293.50 L466.50,293.50 L467.50,293.50 L467.50,293.50 L468.50,292.50 L468.50,291.50 L468.50,291.50 L468.50,290.50 L467.50,289.50 L467.50,289.50 L466.50,289.50 M471.50,289.50 L471.50,289.50 L470.50,290.50 L470.50,291.50 L470.50,291.50 L470.50,292.50 L471.50,293.50 L471.50,293.50 L472.50,293.50 L472.50,293.50 L473.50,292.50 L473.50,291.50 L473.50,291.50 L473.50,290.50 L472.50,289.50 L472.50,289.50 L471.50,289.50" fill="none" stroke="#b01424" stroke-width="1.0" stroke-linecap="square" stroke-linejoin="miter" shape-rendering="crispEdges"/>
<path d="M454.50,317.50 L458.50,317.50 M463.50,315.50 L460.50,318.50 L464.50,318.50 M463.50,315.50 L463.50,319.50 M466.50,315.50 L466.50,315.50 L465.50,316.50 L465.50,317.50 L465.50,317.50 L465.50,318.50 L466.50,319.50 L466.50,319.50 L467.50,319.50 L467.50,319.50 L468.50,318.50 L468.50,317.50 L468.50,317.50 L468.50,316.50 L467.50,315.50 L467.50,315.50 L466.50,315.50 M471.50,315.50 L471.50,315.50 L470.50,316.50 L470.50,317.50 L470.50,317.50 L470.50,318.50 L471.50,319.50 L471.50,319.50 L472.50,319.50 L472.50,319.50 L473.50,318.50 L473.50,317.50 L473.50,317.50 L473.50,316.50 L472.50,315.50 L472.50,315.50 L471.50,315.50" fill="none" stroke="#b01424" stroke-width="1.0" stroke-linecap="square" stroke-linejoin="miter" shape-rendering="crispEdges"/>
<path d="M477.50,277.50 L477.50,277.50 L477.50,278.50 L477.50,278.50 L477.50,279.50 L478.50,280.50 L479.50,280.50 L480.50,280.50 L480.50,280.50 L481.50,279.50 L481.50,278.50 L481.50,278.50 L481.50,277.50 L480.50,277.50 L480.50,277.50 L480.50,277.50 L479.50,277.50 L479.50,277.50 L478.50,278.50 L478.50,278.50 L479.50,279.50 L479.50,280.50 L480.50,280.50 M477.50,275.50 L477.50,272.50 L478.50,274.50 L478.50,273.50 L479.50,272.50 L479.50,272.50 L479.50,272.50 L480.50,272.50 L480.50,272.50 L481.50,273.50 L481.50,273.50 L481.50,274.50 L481.50,275.50 L481.50,275.50 L480.50,275.50 M477.50,269.50 L477.50,270.50 L478.50,270.50 L479.50,270.50 L479.50,270.50 L480.50,270.50 L481.50,270.50 L481.50,269.50 L481.50,269.50 L481.50,268.50 L480.50,268.50 L479.50,267.50 L479.50,267.50 L478.50,268.50 L477.50,268.50 L477.50,269.50 L477.50,269.50 M477.50,264.50 L477.50,265.50 L478.50,265.50 L479.50,266.50 L479.50,266.50 L480.50,265.50 L481.50,265.50 L481.50,264.50 L481.50,264.50 L481.50,263.50 L480.50,263.50 L479.50,263.50 L479.50,263.50 L478.50,263.50 L477.50,263.50 L477.50,264.50 L477.50,264.50 M478.50,257.50 L481.50,257.50 M479.50,257.50 L478.50,256.50 L478.50,256.50 L478.50,255.50 L478.50,255.50 L479.50,254.50 L481.50,254.50 M479.50,254.50 L478.50,254.50 L478.50,253.50 L478.50,253.50 L478.50,252.50 L479.50,252.50 L481.50,252.50 M476.50,246.50 L482.50,250.50 M479.50,242.50 L478.50,243.50 L478.50,243.50 L478.50,244.50 L478.50,245.50 L479.50,245.50 L479.50,245.50 L479.50,244.50 L480.50,243.50 L480.50,243.50 L480.50,242.50 L480.50,242.50 L481.50,243.50 L481.50,243.50 L481.50,244.50 L481.50,245.50 L480.50,245.50" fill="none" stroke="#b01424" stroke-width="1.0" stroke-linecap="square" stroke-linejoin="miter" shape-rendering="crispEdges"/>
<path d="M509.50,25.50 L510.50,25.50 L511.50,24.50 L511.50,31.50 M516.50,24.50 L516.50,24.50 L515.50,25.50 L515.50,27.50 L515.50,28.50 L515.50,30.50 L516.50,31.50 L516.50,31.50 L517.50,31.50 L518.50,31.50 L518.50,30.50 L519.50,28.50 L519.50,27.50 L518.50,25.50 L518.50,24.50 L517.50,24.50 L516.50,24.50 M523.50,24.50 L522.50,24.50 L521.50,25.50 L521.50,27.50 L521.50,28.50 L521.50,30.50 L522.50,31.50 L523.50,31.50 L523.50,31.50 L524.50,31.50 L525.50,30.50 L525.50,28.50 L525.50,27.50 L525.50,25.50 L524.50,24.50 L523.50,24.50 L523.50,24.50" fill="none" stroke="#000000" stroke-width="1.05" stroke-linecap="square" stroke-linejoin="miter" shape-rendering="crispEdges"/>
<path d="M516.50,45.50 L515.50,45.50 L515.50,46.50 L515.50,47.50 L515.50,47.50 L516.50,48.50 L517.50,48.50 L518.50,48.50 L519.50,49.50 L519.50,50.50 L519.50,51.50 L519.50,51.50 L518.50,52.50 L517.50,52.50 L516.50,52.50 L515.50,52.50 L515.50,51.50 L514.50,51.50 L514.50,50.50 L515.50,49.50 L515.50,48.50 L516.50,48.50 L518.50,48.50 L518.50,47.50 L519.50,47.50 L519.50,46.50 L518.50,45.50 L517.50,45.50 L516.50,45.50 M523.50,45.50 L522.50,45.50 L521.50,46.50 L521.50,48.50 L521.50,49.50 L521.50,51.50 L522.50,52.50 L523.50,52.50 L523.50,52.50 L524.50,52.50 L525.50,51.50 L525.50,49.50 L525.50,48.50 L525.50,46.50 L524.50,45.50 L523.50,45.50 L523.50,45.50" fill="none" stroke="#000000" stroke-width="1.05" stroke-linecap="square" stroke-linejoin="miter" shape-rendering="crispEdges"/>
<path d="M519.50,70.50 L518.50,69.50 L517.50,69.50 L517.50,69.50 L516.50,69.50 L515.50,70.50 L515.50,72.50 L515.50,73.50 L515.50,75.50 L516.50,75.50 L517.50,76.50 L517.50,76.50 L518.50,75.50 L519.50,75.50 L519.50,74.50 L519.50,73.50 L519.50,72.50 L518.50,72.50 L517.50,71.50 L517.50,71.50 L516.50,72.50 L515.50,72.50 L515.50,73.50 M523.50,69.50 L522.50,69.50 L521.50,70.50 L521.50,72.50 L521.50,73.50 L521.50,74.50 L522.50,75.50 L523.50,76.50 L523.50,76.50 L524.50,75.50 L525.50,74.50 L525.50,73.50 L525.50,72.50 L525.50,70.50 L524.50,69.50 L523.50,69.50 L523.50,69.50" fill="none" stroke="#000000" stroke-width="1.05" stroke-linecap="square" stroke-linejoin="miter" shape-rendering="crispEdges"/>
<path d="M518.50,92.50 L514.50,97.50 L519.50,97.50 M518.50,92.50 L518.50,99.50 M523.50,92.50 L522.50,93.50 L521.50,94.50 L521.50,95.50 L521.50,96.50 L521.50,98.50 L522.50,99.50 L523.50,99.50 L523.50,99.50 L524.50,99.50 L525.50,98.50 L525.50,96.50 L525.50,95.50 L525.50,94.50 L524.50,93.50 L523.50,92.50 L523.50,92.50" fill="none" stroke="#000000" stroke-width="1.05" stroke-linecap="square" stroke-linejoin="miter" shape-rendering="crispEdges"/>
<path d="M515.50,118.50 L515.50,117.50 L515.50,117.50 L515.50,116.50 L516.50,116.50 L517.50,116.50 L518.50,116.50 L518.50,117.50 L519.50,117.50 L519.50,118.50 L518.50,119.50 L518.50,120.50 L514.50,123.50 L519.50,123.50 M523.50,116.50 L522.50,116.50 L521.50,117.50 L521.50,119.50 L521.50,120.50 L521.50,121.50 L522.50,122.50 L523.50,123.50 L523.50,123.50 L524.50,122.50 L525.50,121.50 L525.50,120.50 L525.50,119.50 L525.50,117.50 L524.50,116.50 L523.50,116.50 L523.50,116.50" fill="none" stroke="#000000" stroke-width="1.05" stroke-linecap="square" stroke-linejoin="miter" shape-rendering="crispEdges"/>
<path d="M523.50,135.50 L522.50,135.50 L521.50,136.50 L521.50,138.50 L521.50,139.50 L521.50,140.50 L522.50,141.50 L523.50,142.50 L523.50,142.50 L524.50,141.50 L525.50,140.50 L525.50,139.50 L525.50,138.50 L525.50,136.50 L524.50,135.50 L523.50,135.50 L523.50,135.50" fill="none" stroke="#000000" stroke-width="1.05" stroke-linecap="square" stroke-linejoin="miter" shape-rendering="crispEdges"/>
<path d="M923.50,26.50 L923.50,25.50 L924.50,25.50 L924.50,24.50 L925.50,24.50 L926.50,24.50 L927.50,24.50 L927.50,25.50 L927.50,25.50 L927.50,26.50 L927.50,27.50 L926.50,28.50 L923.50,31.50 L927.50,31.50 M933.50,24.50 L930.50,24.50 L930.50,27.50 L930.50,27.50 L931.50,26.50 L932.50,26.50 L933.50,27.50 L934.50,27.50 L934.50,28.50 L934.50,29.50 L934.50,30.50 L933.50,31.50 L932.50,31.50 L931.50,31.50 L930.50,31.50 L930.50,30.50 L929.50,30.50" fill="none" stroke="#1a1a98" stroke-width="1.05" stroke-linecap="square" stroke-linejoin="miter" shape-rendering="crispEdges"/>
<path d="M923.50,47.50 L923.50,46.50 L924.50,46.50 L924.50,45.50 L925.50,45.50 L926.50,45.50 L927.50,45.50 L927.50,46.50 L927.50,46.50 L927.50,47.50 L927.50,48.50 L926.50,49.50 L923.50,52.50 L927.50,52.50 M931.50,45.50 L931.50,45.50 L930.50,46.50 L930.50,48.50 L930.50,49.50 L930.50,51.50 L931.50,52.50 L931.50,52.50 L932.50,52.50 L933.50,52.50 L933.50,51.50 L934.50,49.50 L934.50,48.50 L933.50,46.50 L933.50,45.50 L932.50,45.50 L931.50,45.50" fill="none" stroke="#1a1a98" stroke-width="1.05" stroke-linecap="square" stroke-linejoin="miter" shape-rendering="crispEdges"/>
<path d="M923.50,70.50 L924.50,70.50 L925.50,69.50 L925.50,76.50 M932.50,69.50 L929.50,69.50 L929.50,72.50 L929.50,71.50 L930.50,71.50 L931.50,71.50 L932.50,71.50 L933.50,72.50 L933.50,73.50 L933.50,74.50 L933.50,75.50 L932.50,75.50 L931.50,76.50 L930.50,76.50 L929.50,75.50 L929.50,75.50 L928.50,74.50" fill="none" stroke="#1a1a98" stroke-width="1.05" stroke-linecap="square" stroke-linejoin="miter" shape-rendering="crispEdges"/>
<path d="M923.50,94.50 L924.50,93.50 L925.50,92.50 L925.50,99.50 M930.50,92.50 L930.50,93.50 L929.50,94.50 L929.50,95.50 L929.50,96.50 L929.50,98.50 L930.50,99.50 L930.50,99.50 L931.50,99.50 L932.50,99.50 L932.50,98.50 L933.50,96.50 L933.50,95.50 L932.50,94.50 L932.50,93.50 L931.50,92.50 L930.50,92.50" fill="none" stroke="#1a1a98" stroke-width="1.05" stroke-linecap="square" stroke-linejoin="miter" shape-rendering="crispEdges"/>
<path d="M927.50,116.50 L924.50,116.50 L923.50,119.50 L924.50,119.50 L925.50,118.50 L926.50,118.50 L927.50,119.50 L927.50,119.50 L927.50,120.50 L927.50,121.50 L927.50,122.50 L927.50,122.50 L926.50,123.50 L925.50,123.50 L924.50,122.50 L923.50,122.50 L923.50,121.50" fill="none" stroke="#1a1a98" stroke-width="1.05" stroke-linecap="square" stroke-linejoin="miter" shape-rendering="crispEdges"/>
<path d="M925.50,135.50 L924.50,135.50 L923.50,136.50 L923.50,138.50 L923.50,139.50 L923.50,140.50 L924.50,141.50 L925.50,142.50 L925.50,142.50 L926.50,141.50 L927.50,140.50 L927.50,139.50 L927.50,138.50 L927.50,136.50 L926.50,135.50 L925.50,135.50 L925.50,135.50" fill="none" stroke="#1a1a98" stroke-width="1.05" stroke-linecap="square" stroke-linejoin="miter" shape-rendering="crispEdges"/>
<path d="M825.50,32.50 L824.50,33.50 L823.50,33.50 L823.50,34.50 L824.50,35.50 L825.50,36.50 L827.50,36.50 L828.50,37.50 L829.50,38.50 L830.50,39.50 L830.50,40.50 L829.50,41.50 L829.50,41.50 L827.50,42.50 L825.50,42.50 L824.50,41.50 L823.50,41.50 L823.50,40.50 L823.50,39.50 L823.50,38.50 L824.50,37.50 L826.50,36.50 L828.50,36.50 L829.50,35.50 L829.50,34.50 L829.50,33.50 L829.50,33.50 L827.50,32.50 L825.50,32.50 M839.50,35.50 L838.50,37.50 L837.50,38.50 L836.50,38.50 L835.50,38.50 L834.50,38.50 L833.50,37.50 L832.50,35.50 L832.50,35.50 L833.50,33.50 L834.50,33.50 L835.50,32.50 L836.50,32.50 L837.50,33.50 L838.50,33.50 L839.50,35.50 L839.50,38.50 L838.50,40.50 L837.50,41.50 L836.50,42.50 L835.50,42.50 L833.50,41.50 L833.50,40.50 M843.50,34.50 L843.50,34.50 L843.50,33.50 L844.50,33.50 L845.50,32.50 L847.50,32.50 L848.50,33.50 L848.50,33.50 L849.50,34.50 L849.50,35.50 L848.50,36.50 L847.50,37.50 L842.50,42.50 L849.50,42.50 M855.50,32.50 L854.50,33.50 L853.50,34.50 L852.50,36.50 L852.50,38.50 L853.50,40.50 L854.50,41.50 L855.50,42.50 L856.50,42.50 L857.50,41.50 L858.50,40.50 L858.50,38.50 L858.50,36.50 L858.50,34.50 L857.50,33.50 L856.50,32.50 L855.50,32.50" fill="none" stroke="#1a1a98" stroke-width="1.1" stroke-linecap="square" stroke-linejoin="miter" shape-rendering="crispEdges"/>
<path d="M585.50,32.50 L581.50,39.50 M581.50,32.50 L585.50,32.50 M581.50,39.50 L585.50,39.50 M587.50,36.50 L591.50,36.50 L591.50,36.50 L591.50,35.50 L591.50,35.50 L590.50,34.50 L589.50,34.50 L588.50,35.50 L588.50,35.50 L587.50,36.50 L587.50,37.50 L588.50,38.50 L588.50,38.50 L589.50,39.50 L590.50,39.50 L591.50,38.50 L591.50,38.50 M593.50,34.50 L593.50,39.50 M593.50,36.50 L594.50,35.50 L595.50,34.50 L596.50,34.50 L597.50,35.50 L597.50,36.50 L597.50,39.50 M599.50,32.50 L599.50,33.50 L600.50,32.50 L599.50,32.50 L599.50,32.50 M599.50,34.50 L599.50,39.50 M602.50,32.50 L602.50,37.50 L603.50,38.50 L603.50,39.50 L604.50,39.50 M601.50,34.50 L603.50,34.50 M606.50,32.50 L606.50,39.50 M606.50,36.50 L607.50,35.50 L607.50,34.50 L608.50,34.50 L609.50,35.50 L609.50,36.50 L609.50,39.50" fill="none" stroke="#000000" stroke-width="1.05" stroke-linecap="square" stroke-linejoin="miter" shape-rendering="crispEdges"/>
<path d="M581.50,46.50 L581.50,53.50 M581.50,46.50 L585.50,53.50 M585.50,46.50 L585.50,53.50 M592.50,47.50 L591.50,47.50 L590.50,46.50 L589.50,46.50 L588.50,47.50 L588.50,47.50 L588.50,48.50 L588.50,48.50 L588.50,49.50 L589.50,49.50 L591.50,50.50 L591.50,50.50 L592.50,50.50 L592.50,51.50 L592.50,52.50 L591.50,52.50 L590.50,53.50 L589.50,53.50 L588.50,52.50 L588.50,52.50 M594.50,46.50 L595.50,53.50 M597.50,46.50 L595.50,53.50 M597.50,46.50 L598.50,53.50 M600.50,46.50 L598.50,53.50 M602.50,46.50 L602.50,53.50 M602.50,46.50 L606.50,46.50 M602.50,49.50 L604.50,49.50 M602.50,53.50 L606.50,53.50" fill="none" stroke="#000000" stroke-width="1.05" stroke-linecap="square" stroke-linejoin="miter" shape-rendering="crispEdges"/>
<path d="M614.50,46.50 L612.50,53.50 M614.50,46.50 L617.50,53.50 M613.50,51.50 L616.50,51.50 M618.50,48.50 L620.50,53.50 M622.50,48.50 L620.50,53.50 M623.50,50.50 L627.50,50.50 L627.50,50.50 L627.50,49.50 L626.50,49.50 L626.50,48.50 L625.50,48.50 L624.50,49.50 L623.50,49.50 L623.50,50.50 L623.50,51.50 L623.50,52.50 L624.50,52.50 L625.50,53.50 L626.50,53.50 L626.50,52.50 L627.50,52.50 M629.50,48.50 L629.50,53.50 M629.50,50.50 L629.50,49.50 L630.50,49.50 L631.50,48.50 L632.50,48.50 M637.50,48.50 L637.50,53.50 M637.50,49.50 L636.50,49.50 L635.50,48.50 L635.50,48.50 L634.50,49.50 L633.50,49.50 L633.50,50.50 L633.50,51.50 L633.50,52.50 L634.50,52.50 L635.50,53.50 L635.50,53.50 L636.50,52.50 L637.50,52.50 M643.50,48.50 L643.50,53.50 L642.50,54.50 L642.50,55.50 L641.50,55.50 L641.50,55.50 L640.50,55.50 M643.50,49.50 L642.50,49.50 L641.50,48.50 L641.50,48.50 L640.50,49.50 L639.50,49.50 L639.50,50.50 L639.50,51.50 L639.50,52.50 L640.50,52.50 L641.50,53.50 L641.50,53.50 L642.50,52.50 L643.50,52.50 M645.50,50.50 L649.50,50.50 L649.50,50.50 L648.50,49.50 L648.50,49.50 L647.50,48.50 L647.50,48.50 L646.50,49.50 L645.50,49.50 L645.50,50.50 L645.50,51.50 L645.50,52.50 L646.50,52.50 L647.50,53.50 L647.50,53.50 L648.50,52.50 L649.50,52.50" fill="none" stroke="#000000" stroke-width="1.05" stroke-linecap="square" stroke-linejoin="miter" shape-rendering="crispEdges"/>
<polyline points="545.5,33.5 572.0,33.5" fill="none" stroke="#000000" stroke-width="1.0" stroke-linejoin="round" shape-rendering="crispEdges" stroke-dasharray="1,4"/>
<line x1="545.00" y1="48.50" x2="573.00" y2="48.50" stroke="#000000" stroke-width="1.0" />
<path d="M518.50,202.50 L515.50,207.50 L519.50,207.50 M518.50,202.50 L518.50,209.50 M523.50,202.50 L522.50,202.50 L522.50,203.50 L521.50,205.50 L521.50,206.50 L522.50,208.50 L522.50,209.50 L523.50,209.50 L524.50,209.50 L524.50,209.50 L525.50,208.50 L525.50,206.50 L525.50,205.50 L525.50,203.50 L524.50,202.50 L524.50,202.50 L523.50,202.50" fill="none" stroke="#000000" stroke-width="1.05" stroke-linecap="square" stroke-linejoin="miter" shape-rendering="crispEdges"/>
<path d="M515.50,228.50 L519.50,228.50 L517.50,231.50 L518.50,231.50 L518.50,231.50 L519.50,231.50 L519.50,232.50 L519.50,233.50 L519.50,234.50 L518.50,234.50 L517.50,235.50 L516.50,235.50 L515.50,234.50 L515.50,234.50 L515.50,233.50 M523.50,228.50 L522.50,228.50 L522.50,229.50 L521.50,231.50 L521.50,232.50 L522.50,233.50 L522.50,234.50 L523.50,235.50 L524.50,235.50 L524.50,234.50 L525.50,233.50 L525.50,232.50 L525.50,231.50 L525.50,229.50 L524.50,228.50 L524.50,228.50 L523.50,228.50" fill="none" stroke="#000000" stroke-width="1.05" stroke-linecap="square" stroke-linejoin="miter" shape-rendering="crispEdges"/>
<path d="M515.50,259.50 L515.50,259.50 L515.50,258.50 L516.50,258.50 L516.50,257.50 L518.50,257.50 L518.50,258.50 L518.50,258.50 L519.50,259.50 L519.50,259.50 L518.50,260.50 L518.50,261.50 L515.50,264.50 L519.50,264.50 M523.50,257.50 L522.50,258.50 L522.50,259.50 L521.50,260.50 L521.50,261.50 L522.50,263.50 L522.50,264.50 L523.50,264.50 L524.50,264.50 L524.50,264.50 L525.50,263.50 L525.50,261.50 L525.50,260.50 L525.50,259.50 L524.50,258.50 L524.50,257.50 L523.50,257.50" fill="none" stroke="#000000" stroke-width="1.05" stroke-linecap="square" stroke-linejoin="miter" shape-rendering="crispEdges"/>
<path d="M516.50,288.50 L516.50,288.50 L517.50,287.50 L517.50,294.50 M523.50,287.50 L522.50,287.50 L522.50,288.50 L521.50,290.50 L521.50,291.50 L522.50,292.50 L522.50,293.50 L523.50,294.50 L524.50,294.50 L524.50,293.50 L525.50,292.50 L525.50,291.50 L525.50,290.50 L525.50,288.50 L524.50,287.50 L524.50,287.50 L523.50,287.50" fill="none" stroke="#000000" stroke-width="1.05" stroke-linecap="square" stroke-linejoin="miter" shape-rendering="crispEdges"/>
<path d="M523.50,313.50 L522.50,313.50 L522.50,314.50 L521.50,316.50 L521.50,317.50 L522.50,319.50 L522.50,320.50 L523.50,320.50 L524.50,320.50 L524.50,320.50 L525.50,319.50 L525.50,317.50 L525.50,316.50 L525.50,314.50 L524.50,313.50 L524.50,313.50 L523.50,313.50" fill="none" stroke="#000000" stroke-width="1.05" stroke-linecap="square" stroke-linejoin="miter" shape-rendering="crispEdges"/>
<path d="M585.50,210.50 L581.50,217.50 M581.50,210.50 L585.50,210.50 M581.50,217.50 L585.50,217.50" fill="none" stroke="#000000" stroke-width="1.05" stroke-linecap="square" stroke-linejoin="miter" shape-rendering="crispEdges"/>
<path d="M636.50,210.50 L636.50,217.50 M636.50,210.50 L640.50,217.50 M640.50,210.50 L640.50,217.50" fill="none" stroke="#000000" stroke-width="1.05" stroke-linecap="square" stroke-linejoin="miter" shape-rendering="crispEdges"/>
<path d="M690.50,210.50 L691.50,217.50 M693.50,210.50 L691.50,217.50 M693.50,210.50 L694.50,217.50 M696.50,210.50 L694.50,217.50" fill="none" stroke="#000000" stroke-width="1.05" stroke-linecap="square" stroke-linejoin="miter" shape-rendering="crispEdges"/>
<path d="M640.50,225.50 L639.50,224.50 L638.50,224.50 L637.50,224.50 L636.50,224.50 L635.50,225.50 L635.50,226.50 L635.50,226.50 L636.50,226.50 L636.50,227.50 L638.50,227.50 L639.50,228.50 L639.50,228.50 L640.50,229.50 L640.50,230.50 L639.50,230.50 L638.50,231.50 L637.50,231.50 L636.50,230.50 L635.50,230.50" fill="none" stroke="#000000" stroke-width="1.05" stroke-linecap="square" stroke-linejoin="miter" shape-rendering="crispEdges"/>
<path d="M690.50,224.50 L690.50,231.50 M690.50,224.50 L694.50,224.50 M690.50,227.50 L692.50,227.50 M690.50,231.50 L694.50,231.50" fill="none" stroke="#000000" stroke-width="1.05" stroke-linecap="square" stroke-linejoin="miter" shape-rendering="crispEdges"/>
<path d="M515.50,382.50 L515.50,381.50 L516.50,381.50 L516.50,380.50 L517.50,380.50 L518.50,380.50 L518.50,380.50 L519.50,381.50 L519.50,381.50 L519.50,382.50 L519.50,383.50 L518.50,384.50 L515.50,387.50 L519.50,387.50 M523.50,380.50 L523.50,380.50 L522.50,381.50 L522.50,383.50 L522.50,384.50 L522.50,386.50 L523.50,387.50 L523.50,387.50 L524.50,387.50 L525.50,387.50 L525.50,386.50 L526.50,384.50 L526.50,383.50 L525.50,381.50 L525.50,380.50 L524.50,380.50 L523.50,380.50" fill="none" stroke="#000000" stroke-width="1.05" stroke-linecap="square" stroke-linejoin="miter" shape-rendering="crispEdges"/>
<path d="M516.50,409.50 L517.50,409.50 L518.50,408.50 L518.50,415.50 M523.50,408.50 L523.50,408.50 L522.50,409.50 L522.50,411.50 L522.50,412.50 L522.50,413.50 L523.50,414.50 L523.50,415.50 L524.50,415.50 L525.50,414.50 L525.50,413.50 L526.50,412.50 L526.50,411.50 L525.50,409.50 L525.50,408.50 L524.50,408.50 L523.50,408.50" fill="none" stroke="#000000" stroke-width="1.05" stroke-linecap="square" stroke-linejoin="miter" shape-rendering="crispEdges"/>
<path d="M523.50,437.50 L523.50,437.50 L522.50,438.50 L522.50,440.50 L522.50,441.50 L522.50,442.50 L523.50,443.50 L523.50,444.50 L524.50,444.50 L525.50,443.50 L525.50,442.50 L526.50,441.50 L526.50,440.50 L525.50,438.50 L525.50,437.50 L524.50,437.50 L523.50,437.50" fill="none" stroke="#000000" stroke-width="1.05" stroke-linecap="square" stroke-linejoin="miter" shape-rendering="crispEdges"/>
<path d="M507.50,469.50 L513.50,469.50 M516.50,467.50 L517.50,466.50 L518.50,465.50 L518.50,472.50 M523.50,465.50 L523.50,466.50 L522.50,467.50 L522.50,468.50 L522.50,469.50 L522.50,471.50 L523.50,472.50 L523.50,472.50 L524.50,472.50 L525.50,472.50 L525.50,471.50 L526.50,469.50 L526.50,468.50 L525.50,467.50 L525.50,466.50 L524.50,465.50 L523.50,465.50" fill="none" stroke="#000000" stroke-width="1.05" stroke-linecap="square" stroke-linejoin="miter" shape-rendering="crispEdges"/>
<path d="M507.50,495.50 L513.50,495.50 M515.50,493.50 L515.50,492.50 L516.50,492.50 L516.50,491.50 L517.50,491.50 L518.50,491.50 L518.50,491.50 L519.50,492.50 L519.50,492.50 L519.50,493.50 L519.50,494.50 L518.50,495.50 L515.50,498.50 L519.50,498.50 M523.50,491.50 L523.50,491.50 L522.50,492.50 L522.50,494.50 L522.50,495.50 L522.50,497.50 L523.50,498.50 L523.50,498.50 L524.50,498.50 L525.50,498.50 L525.50,497.50 L526.50,495.50 L526.50,494.50 L525.50,492.50 L525.50,491.50 L524.50,491.50 L523.50,491.50" fill="none" stroke="#000000" stroke-width="1.05" stroke-linecap="square" stroke-linejoin="miter" shape-rendering="crispEdges"/>
<path d="M492.50,450.50 L496.50,450.50 M493.50,450.50 L492.50,448.50 L492.50,448.50 L492.50,447.50 L492.50,446.50 L493.50,446.50 L496.50,446.50 M493.50,446.50 L492.50,445.50 L492.50,444.50 L492.50,443.50 L492.50,442.50 L493.50,442.50 L496.50,442.50 M489.50,434.50 L499.50,440.50 M493.50,429.50 L492.50,429.50 L492.50,430.50 L492.50,431.50 L492.50,432.50 L493.50,432.50 L494.50,432.50 L494.50,431.50 L494.50,430.50 L495.50,429.50 L495.50,429.50 L495.50,429.50 L496.50,429.50 L496.50,430.50 L496.50,431.50 L496.50,432.50 L495.50,432.50" fill="none" stroke="#000000" stroke-width="1.05" stroke-linecap="square" stroke-linejoin="miter" shape-rendering="crispEdges"/>
<path d="M204.3,90.5 V98.0 M202.0,90.5 H206.6 M202.0,98.0 H206.6" fill="none" stroke="#f00000" stroke-width="1.4"/>
<rect x="202.3" y="91.0" width="4.0" height="4.0" fill="none" stroke="#f00000" stroke-width="1.7"/>
<path d="M202.5,97.0 L204.3,93.8 L206.1,97.0 Z" fill="none" stroke="#f00000" stroke-width="1.6" stroke-linejoin="round"/>
<path d="M222.0,84.5 V90.0 M219.7,84.5 H224.3 M219.7,90.0 H224.3" fill="none" stroke="#f00000" stroke-width="1.4"/>
<rect x="220.0" y="85.0" width="4.0" height="4.0" fill="none" stroke="#f00000" stroke-width="1.7"/>
<path d="M220.2,89.0 L222.0,85.8 L223.8,89.0 Z" fill="none" stroke="#f00000" stroke-width="1.6" stroke-linejoin="round"/>
<path d="M239.0,86.0 V94.5 M236.7,86.0 H241.3 M236.7,94.5 H241.3" fill="none" stroke="#f00000" stroke-width="1.4"/>
<rect x="237.0" y="86.5" width="4.0" height="4.0" fill="none" stroke="#f00000" stroke-width="1.7"/>
<path d="M237.2,93.5 L239.0,90.3 L240.8,93.5 Z" fill="none" stroke="#f00000" stroke-width="1.6" stroke-linejoin="round"/>
<path d="M256.7,85.5 V92.0 M254.4,85.5 H259.0 M254.4,92.0 H259.0" fill="none" stroke="#f00000" stroke-width="1.4"/>
<rect x="254.7" y="86.0" width="4.0" height="4.0" fill="none" stroke="#f00000" stroke-width="1.7"/>
<path d="M254.9,91.0 L256.7,87.8 L258.5,91.0 Z" fill="none" stroke="#f00000" stroke-width="1.6" stroke-linejoin="round"/>
<path d="M273.7,85.0 V94.5 M271.4,85.0 H276.0 M271.4,94.5 H276.0" fill="none" stroke="#f00000" stroke-width="1.4"/>
<rect x="271.7" y="85.5" width="4.0" height="4.0" fill="none" stroke="#f00000" stroke-width="1.7"/>
<path d="M271.9,93.5 L273.7,90.3 L275.5,93.5 Z" fill="none" stroke="#f00000" stroke-width="1.6" stroke-linejoin="round"/>
<path d="M291.1,85.5 V93.0 M288.8,85.5 H293.4 M288.8,93.0 H293.4" fill="none" stroke="#f00000" stroke-width="1.4"/>
<rect x="289.1" y="88.5" width="4.0" height="4.0" fill="none" stroke="#f00000" stroke-width="1.7"/>
<path d="M289.3,89.5 L291.1,86.3 L292.9,89.5 Z" fill="none" stroke="#f00000" stroke-width="1.6" stroke-linejoin="round"/>
<path d="M309.1,83.5 V89.0 M306.8,83.5 H311.4 M306.8,89.0 H311.4" fill="none" stroke="#f00000" stroke-width="1.4"/>
<rect x="307.1" y="84.0" width="4.0" height="4.0" fill="none" stroke="#f00000" stroke-width="1.7"/>
<path d="M307.3,88.0 L309.1,84.8 L310.9,88.0 Z" fill="none" stroke="#f00000" stroke-width="1.6" stroke-linejoin="round"/>
<path d="M326.1,94.0 V100.0 M323.8,94.0 H328.4 M323.8,100.0 H328.4" fill="none" stroke="#f00000" stroke-width="1.4"/>
<rect x="324.1" y="94.5" width="4.0" height="4.0" fill="none" stroke="#f00000" stroke-width="1.7"/>
<path d="M324.3,99.0 L326.1,95.8 L327.9,99.0 Z" fill="none" stroke="#f00000" stroke-width="1.6" stroke-linejoin="round"/>
<path d="M343.1,90.9 V102.0 M340.8,90.9 H345.4 M340.8,102.0 H345.4" fill="none" stroke="#f00000" stroke-width="1.4"/>
<rect x="341.1" y="91.4" width="4.0" height="4.0" fill="none" stroke="#f00000" stroke-width="1.7"/>
<path d="M341.3,101.0 L343.1,97.8 L344.9,101.0 Z" fill="none" stroke="#f00000" stroke-width="1.6" stroke-linejoin="round"/>
<path d="M198.0,83.5 V95.5 M195.7,83.5 H200.3 M195.7,95.5 H200.3" fill="none" stroke="#30d830" stroke-width="1.4"/>
<path d="M196.5,89.0 L198.3,85.8 L200.1,89.0 Z" fill="none" stroke="#30d830" stroke-width="1.4" stroke-linejoin="round"/>
<rect x="196.2" y="88.9" width="4.2" height="4.2" fill="none" stroke="#30d830" stroke-width="1.4"/>
<path d="M216.2,91.5 V108.7 M213.9,91.5 H218.5 M213.9,108.7 H218.5" fill="none" stroke="#30d830" stroke-width="1.4"/>
<path d="M214.7,98.5 L216.5,95.3 L218.3,98.5 Z" fill="none" stroke="#30d830" stroke-width="1.4" stroke-linejoin="round"/>
<rect x="214.4" y="101.9" width="4.2" height="4.2" fill="none" stroke="#30d830" stroke-width="1.4"/>
<path d="M232.8,82.2 V92.5 M230.5,82.2 H235.1 M230.5,92.5 H235.1" fill="none" stroke="#30d830" stroke-width="1.4"/>
<path d="M231.3,87.5 L233.1,84.3 L234.9,87.5 Z" fill="none" stroke="#30d830" stroke-width="1.4" stroke-linejoin="round"/>
<rect x="231.0" y="86.9" width="4.2" height="4.2" fill="none" stroke="#30d830" stroke-width="1.4"/>
<path d="M250.1,84.0 V93.5 M247.8,84.0 H252.4 M247.8,93.5 H252.4" fill="none" stroke="#30d830" stroke-width="1.4"/>
<path d="M248.6,88.5 L250.4,85.3 L252.2,88.5 Z" fill="none" stroke="#30d830" stroke-width="1.4" stroke-linejoin="round"/>
<rect x="248.3" y="87.9" width="4.2" height="4.2" fill="none" stroke="#30d830" stroke-width="1.4"/>
<path d="M267.8,82.6 V95.2 M265.5,82.6 H270.1 M265.5,95.2 H270.1" fill="none" stroke="#30d830" stroke-width="1.4"/>
<path d="M266.3,87.5 L268.1,84.3 L269.9,87.5 Z" fill="none" stroke="#30d830" stroke-width="1.4" stroke-linejoin="round"/>
<rect x="266.0" y="88.9" width="4.2" height="4.2" fill="none" stroke="#30d830" stroke-width="1.4"/>
<path d="M284.9,85.5 V94.5 M282.6,85.5 H287.2 M282.6,94.5 H287.2" fill="none" stroke="#30d830" stroke-width="1.4"/>
<path d="M283.4,89.5 L285.2,86.3 L287.0,89.5 Z" fill="none" stroke="#30d830" stroke-width="1.4" stroke-linejoin="round"/>
<rect x="283.1" y="88.9" width="4.2" height="4.2" fill="none" stroke="#30d830" stroke-width="1.4"/>
<path d="M302.5,86.3 V97.0 M300.2,86.3 H304.8 M300.2,97.0 H304.8" fill="none" stroke="#30d830" stroke-width="1.4"/>
<path d="M301.0,90.5 L302.8,87.3 L304.6,90.5 Z" fill="none" stroke="#30d830" stroke-width="1.4" stroke-linejoin="round"/>
<rect x="300.7" y="90.9" width="4.2" height="4.2" fill="none" stroke="#30d830" stroke-width="1.4"/>
<path d="M319.9,87.4 V100.4 M317.6,87.4 H322.2 M317.6,100.4 H322.2" fill="none" stroke="#30d830" stroke-width="1.4"/>
<path d="M318.4,92.5 L320.2,89.3 L322.0,92.5 Z" fill="none" stroke="#30d830" stroke-width="1.4" stroke-linejoin="round"/>
<rect x="318.1" y="93.9" width="4.2" height="4.2" fill="none" stroke="#30d830" stroke-width="1.4"/>
<path d="M193.4,78.3 V102.2 M191.1,78.3 H195.7 M191.1,102.2 H195.7" fill="none" stroke="#1010a8" stroke-width="1.4"/>
<path d="M191.9,88.9 L193.7,85.7 L195.5,88.9 Z" fill="none" stroke="#1010a8" stroke-width="1.4" stroke-linejoin="round"/>
<rect x="191.6" y="93.2" width="4.2" height="4.2" fill="none" stroke="#1010a8" stroke-width="1.4"/>
<path d="M210.6,90.2 V111.0 M208.3,90.2 H212.9 M208.3,111.0 H212.9" fill="none" stroke="#1010a8" stroke-width="1.4"/>
<path d="M209.1,98.0 L210.9,94.8 L212.7,98.0 Z" fill="none" stroke="#1010a8" stroke-width="1.4" stroke-linejoin="round"/>
<rect x="208.8" y="102.7" width="4.2" height="4.2" fill="none" stroke="#1010a8" stroke-width="1.4"/>
<path d="M228.2,79.3 V96.5 M225.9,79.3 H230.5 M225.9,96.5 H230.5" fill="none" stroke="#1010a8" stroke-width="1.4"/>
<path d="M226.7,85.5 L228.5,82.3 L230.3,85.5 Z" fill="none" stroke="#1010a8" stroke-width="1.4" stroke-linejoin="round"/>
<rect x="226.4" y="87.6" width="4.2" height="4.2" fill="none" stroke="#1010a8" stroke-width="1.4"/>
<path d="M245.3,79.6 V98.1 M243.0,79.6 H247.6 M243.0,98.1 H247.6" fill="none" stroke="#1010a8" stroke-width="1.4"/>
<path d="M243.8,95.2 L245.6,92.0 L247.4,95.2 Z" fill="none" stroke="#1010a8" stroke-width="1.4" stroke-linejoin="round"/>
<rect x="243.5" y="83.8" width="4.2" height="4.2" fill="none" stroke="#1010a8" stroke-width="1.4"/>
<path d="M263.0,75.3 V99.3 M260.7,75.3 H265.3 M260.7,99.3 H265.3" fill="none" stroke="#1010a8" stroke-width="1.4"/>
<path d="M261.5,93.7 L263.3,90.5 L265.1,93.7 Z" fill="none" stroke="#1010a8" stroke-width="1.4" stroke-linejoin="round"/>
<rect x="261.2" y="82.0" width="4.2" height="4.2" fill="none" stroke="#1010a8" stroke-width="1.4"/>
<path d="M280.1,80.4 V103.3 M277.8,80.4 H282.4 M277.8,103.3 H282.4" fill="none" stroke="#1010a8" stroke-width="1.4"/>
<path d="M278.6,98.5 L280.4,95.3 L282.2,98.5 Z" fill="none" stroke="#1010a8" stroke-width="1.4" stroke-linejoin="round"/>
<rect x="278.3" y="87.5" width="4.2" height="4.2" fill="none" stroke="#1010a8" stroke-width="1.4"/>
<path d="M297.7,80.4 V102.2 M295.4,80.4 H300.0 M295.4,102.2 H300.0" fill="none" stroke="#1010a8" stroke-width="1.4"/>
<path d="M296.2,95.2 L298.0,92.0 L299.8,95.2 Z" fill="none" stroke="#1010a8" stroke-width="1.4" stroke-linejoin="round"/>
<rect x="295.9" y="82.7" width="4.2" height="4.2" fill="none" stroke="#1010a8" stroke-width="1.4"/>
<path d="M315.4,75.3 V105.2 M313.1,75.3 H317.7 M313.1,105.2 H317.7" fill="none" stroke="#1010a8" stroke-width="1.4"/>
<path d="M313.9,86.3 L315.7,83.1 L317.5,86.3 Z" fill="none" stroke="#1010a8" stroke-width="1.4" stroke-linejoin="round"/>
<rect x="313.6" y="93.5" width="4.2" height="4.2" fill="none" stroke="#1010a8" stroke-width="1.4"/>
<path d="M332.5,74.4 V109.6 M330.2,74.4 H334.8 M330.2,109.6 H334.8" fill="none" stroke="#1010a8" stroke-width="1.4"/>
<path d="M331.0,97.8 L332.8,94.6 L334.6,97.8 Z" fill="none" stroke="#1010a8" stroke-width="1.4" stroke-linejoin="round"/>
<rect x="330.7" y="83.5" width="4.2" height="4.2" fill="none" stroke="#1010a8" stroke-width="1.4"/>
<path d="M336.2,31.8 V44.5 M333.9,31.8 H338.5 M333.9,44.5 H338.5" fill="none" stroke="#30d830" stroke-width="1.0"/>
<rect x="334.2" y="36.3" width="4.0" height="4.0" fill="none" stroke="#30d830" stroke-width="1.0"/>
<path d="M202.0,236.0 V241.3 M199.7,236.0 H204.3 M199.7,241.3 H204.3" fill="none" stroke="#f00000" stroke-width="1.4"/>
<rect x="200.0" y="236.5" width="4.0" height="4.0" fill="none" stroke="#f00000" stroke-width="1.7"/>
<path d="M200.2,240.3 L202.0,237.1 L203.8,240.3 Z" fill="none" stroke="#f00000" stroke-width="1.6" stroke-linejoin="round"/>
<path d="M218.9,248.0 V253.5 M216.6,248.0 H221.2 M216.6,253.5 H221.2" fill="none" stroke="#f00000" stroke-width="1.4"/>
<rect x="216.9" y="249.0" width="4.0" height="4.0" fill="none" stroke="#f00000" stroke-width="1.7"/>
<path d="M217.1,252.0 L218.9,248.8 L220.7,252.0 Z" fill="none" stroke="#f00000" stroke-width="1.6" stroke-linejoin="round"/>
<path d="M236.7,241.5 V248.5 M234.4,241.5 H239.0 M234.4,248.5 H239.0" fill="none" stroke="#f00000" stroke-width="1.4"/>
<rect x="234.7" y="244.0" width="4.0" height="4.0" fill="none" stroke="#f00000" stroke-width="1.7"/>
<path d="M234.9,245.5 L236.7,242.3 L238.5,245.5 Z" fill="none" stroke="#f00000" stroke-width="1.6" stroke-linejoin="round"/>
<path d="M253.9,257.0 V262.3 M251.6,257.0 H256.2 M251.6,262.3 H256.2" fill="none" stroke="#f00000" stroke-width="1.4"/>
<rect x="251.9" y="257.8" width="4.0" height="4.0" fill="none" stroke="#f00000" stroke-width="1.7"/>
<path d="M252.1,261.0 L253.9,257.8 L255.7,261.0 Z" fill="none" stroke="#f00000" stroke-width="1.6" stroke-linejoin="round"/>
<path d="M271.1,258.5 V267.0 M268.8,258.5 H273.4 M268.8,267.0 H273.4" fill="none" stroke="#f00000" stroke-width="1.4"/>
<rect x="269.1" y="262.5" width="4.0" height="4.0" fill="none" stroke="#f00000" stroke-width="1.7"/>
<path d="M269.3,262.5 L271.1,259.3 L272.9,262.5 Z" fill="none" stroke="#f00000" stroke-width="1.6" stroke-linejoin="round"/>
<path d="M288.9,256.0 V264.5 M286.6,256.0 H291.2 M286.6,264.5 H291.2" fill="none" stroke="#f00000" stroke-width="1.4"/>
<rect x="286.9" y="256.5" width="4.0" height="4.0" fill="none" stroke="#f00000" stroke-width="1.7"/>
<path d="M287.1,263.5 L288.9,260.3 L290.7,263.5 Z" fill="none" stroke="#f00000" stroke-width="1.6" stroke-linejoin="round"/>
<path d="M306.1,256.0 V261.3 M303.8,256.0 H308.4 M303.8,261.3 H308.4" fill="none" stroke="#f00000" stroke-width="1.4"/>
<rect x="304.1" y="256.8" width="4.0" height="4.0" fill="none" stroke="#f00000" stroke-width="1.7"/>
<path d="M304.3,260.0 L306.1,256.8 L307.9,260.0 Z" fill="none" stroke="#f00000" stroke-width="1.6" stroke-linejoin="round"/>
<path d="M323.3,263.0 V268.0 M321.0,263.0 H325.6 M321.0,268.0 H325.6" fill="none" stroke="#f00000" stroke-width="1.4"/>
<rect x="321.3" y="263.5" width="4.0" height="4.0" fill="none" stroke="#f00000" stroke-width="1.7"/>
<path d="M321.5,267.0 L323.3,263.8 L325.1,267.0 Z" fill="none" stroke="#f00000" stroke-width="1.6" stroke-linejoin="round"/>
<path d="M196.9,251.5 V262.0 M194.6,251.5 H199.2 M194.6,262.0 H199.2" fill="none" stroke="#30d830" stroke-width="1.4"/>
<path d="M195.4,256.5 L197.2,253.3 L199.0,256.5 Z" fill="none" stroke="#30d830" stroke-width="1.4" stroke-linejoin="round"/>
<rect x="195.1" y="256.4" width="4.2" height="4.2" fill="none" stroke="#30d830" stroke-width="1.4"/>
<path d="M213.6,250.6 V266.1 M211.3,250.6 H215.9 M211.3,266.1 H215.9" fill="none" stroke="#30d830" stroke-width="1.4"/>
<path d="M212.1,263.0 L213.9,259.8 L215.7,263.0 Z" fill="none" stroke="#30d830" stroke-width="1.4" stroke-linejoin="round"/>
<rect x="211.8" y="252.9" width="4.2" height="4.2" fill="none" stroke="#30d830" stroke-width="1.4"/>
<path d="M230.8,253.0 V263.5 M228.5,253.0 H233.1 M228.5,263.5 H233.1" fill="none" stroke="#30d830" stroke-width="1.4"/>
<path d="M229.3,258.5 L231.1,255.3 L232.9,258.5 Z" fill="none" stroke="#30d830" stroke-width="1.4" stroke-linejoin="round"/>
<rect x="229.0" y="257.9" width="4.2" height="4.2" fill="none" stroke="#30d830" stroke-width="1.4"/>
<path d="M248.6,256.0 V265.8 M246.3,256.0 H250.9 M246.3,265.8 H250.9" fill="none" stroke="#30d830" stroke-width="1.4"/>
<path d="M247.1,261.0 L248.9,257.8 L250.7,261.0 Z" fill="none" stroke="#30d830" stroke-width="1.4" stroke-linejoin="round"/>
<rect x="246.8" y="260.4" width="4.2" height="4.2" fill="none" stroke="#30d830" stroke-width="1.4"/>
<path d="M265.8,253.3 V265.6 M263.5,253.3 H268.1 M263.5,265.6 H268.1" fill="none" stroke="#30d830" stroke-width="1.4"/>
<path d="M264.3,262.5 L266.1,259.3 L267.9,262.5 Z" fill="none" stroke="#30d830" stroke-width="1.4" stroke-linejoin="round"/>
<rect x="264.0" y="254.9" width="4.2" height="4.2" fill="none" stroke="#30d830" stroke-width="1.4"/>
<path d="M282.8,255.4 V263.5 M280.5,255.4 H285.1 M280.5,263.5 H285.1" fill="none" stroke="#30d830" stroke-width="1.4"/>
<path d="M281.3,260.0 L283.1,256.8 L284.9,260.0 Z" fill="none" stroke="#30d830" stroke-width="1.4" stroke-linejoin="round"/>
<rect x="281.0" y="258.4" width="4.2" height="4.2" fill="none" stroke="#30d830" stroke-width="1.4"/>
<path d="M300.6,249.4 V260.0 M298.3,249.4 H302.9 M298.3,260.0 H302.9" fill="none" stroke="#30d830" stroke-width="1.4"/>
<path d="M299.1,254.5 L300.9,251.3 L302.7,254.5 Z" fill="none" stroke="#30d830" stroke-width="1.4" stroke-linejoin="round"/>
<rect x="298.8" y="254.4" width="4.2" height="4.2" fill="none" stroke="#30d830" stroke-width="1.4"/>
<path d="M317.5,249.4 V263.3 M315.2,249.4 H319.8 M315.2,263.3 H319.8" fill="none" stroke="#30d830" stroke-width="1.4"/>
<path d="M316.0,256.0 L317.8,252.8 L319.6,256.0 Z" fill="none" stroke="#30d830" stroke-width="1.4" stroke-linejoin="round"/>
<rect x="315.7" y="256.4" width="4.2" height="4.2" fill="none" stroke="#30d830" stroke-width="1.4"/>
<path d="M191.4,242.4 V266.1 M189.1,242.4 H193.7 M189.1,266.1 H193.7" fill="none" stroke="#1010a8" stroke-width="1.4"/>
<path d="M189.9,260.6 L191.7,257.4 L193.5,260.6 Z" fill="none" stroke="#1010a8" stroke-width="1.4" stroke-linejoin="round"/>
<rect x="189.6" y="247.9" width="4.2" height="4.2" fill="none" stroke="#1010a8" stroke-width="1.4"/>
<path d="M209.1,248.3 V269.1 M206.8,248.3 H211.4 M206.8,269.1 H211.4" fill="none" stroke="#1010a8" stroke-width="1.4"/>
<path d="M207.6,265.4 L209.4,262.2 L211.2,265.4 Z" fill="none" stroke="#1010a8" stroke-width="1.4" stroke-linejoin="round"/>
<rect x="207.3" y="251.8" width="4.2" height="4.2" fill="none" stroke="#1010a8" stroke-width="1.4"/>
<path d="M226.9,252.4 V270.2 M224.6,252.4 H229.2 M224.6,270.2 H229.2" fill="none" stroke="#1010a8" stroke-width="1.4"/>
<path d="M225.4,265.9 L227.2,262.7 L229.0,265.9 Z" fill="none" stroke="#1010a8" stroke-width="1.4" stroke-linejoin="round"/>
<rect x="225.1" y="257.3" width="4.2" height="4.2" fill="none" stroke="#1010a8" stroke-width="1.4"/>
<path d="M243.6,251.1 V270.2 M241.3,251.1 H245.9 M241.3,270.2 H245.9" fill="none" stroke="#1010a8" stroke-width="1.4"/>
<path d="M242.1,260.4 L243.9,257.2 L245.7,260.4 Z" fill="none" stroke="#1010a8" stroke-width="1.4" stroke-linejoin="round"/>
<rect x="241.8" y="261.0" width="4.2" height="4.2" fill="none" stroke="#1010a8" stroke-width="1.4"/>
<path d="M261.9,244.2 V268.3 M259.6,244.2 H264.2 M259.6,268.3 H264.2" fill="none" stroke="#1010a8" stroke-width="1.4"/>
<path d="M260.4,255.4 L262.2,252.2 L264.0,255.4 Z" fill="none" stroke="#1010a8" stroke-width="1.4" stroke-linejoin="round"/>
<rect x="260.1" y="257.3" width="4.2" height="4.2" fill="none" stroke="#1010a8" stroke-width="1.4"/>
<path d="M278.4,245.3 V268.3 M276.1,245.3 H280.7 M276.1,268.3 H280.7" fill="none" stroke="#1010a8" stroke-width="1.4"/>
<path d="M276.9,255.4 L278.7,252.2 L280.5,255.4 Z" fill="none" stroke="#1010a8" stroke-width="1.4" stroke-linejoin="round"/>
<rect x="276.6" y="257.3" width="4.2" height="4.2" fill="none" stroke="#1010a8" stroke-width="1.4"/>
<path d="M295.8,245.3 V266.1 M293.5,245.3 H298.1 M293.5,266.1 H298.1" fill="none" stroke="#1010a8" stroke-width="1.4"/>
<path d="M294.3,260.9 L296.1,257.7 L297.9,260.9 Z" fill="none" stroke="#1010a8" stroke-width="1.4" stroke-linejoin="round"/>
<rect x="294.0" y="251.2" width="4.2" height="4.2" fill="none" stroke="#1010a8" stroke-width="1.4"/>
<path d="M313.6,240.6 V270.6 M311.3,240.6 H315.9 M311.3,270.6 H315.9" fill="none" stroke="#1010a8" stroke-width="1.4"/>
<path d="M312.1,263.7 L313.9,260.5 L315.7,263.7 Z" fill="none" stroke="#1010a8" stroke-width="1.4" stroke-linejoin="round"/>
<rect x="311.8" y="247.3" width="4.2" height="4.2" fill="none" stroke="#1010a8" stroke-width="1.4"/>
<path d="M330.6,239.4 V274.4 M328.3,239.4 H332.9 M328.3,274.4 H332.9" fill="none" stroke="#1010a8" stroke-width="1.4"/>
<path d="M329.1,256.5 L330.9,253.3 L332.7,256.5 Z" fill="none" stroke="#1010a8" stroke-width="1.4" stroke-linejoin="round"/>
<rect x="328.8" y="261.8" width="4.2" height="4.2" fill="none" stroke="#1010a8" stroke-width="1.4"/>
<rect x="339.6" y="272.7" width="3.8" height="3.8" fill="none" stroke="#f00000" stroke-width="1.7"/>
<rect x="337.8" y="278.4" width="4.4" height="4.4" fill="none" stroke="#f00000" stroke-width="1.8"/>
<path d="M336.0,295.2 V310.0 M333.7,295.2 H338.3 M333.7,310.0 H338.3" fill="none" stroke="#30d830" stroke-width="1.0"/>
<path d="M333.8,304.9 L336.0,300.9 L338.2,304.9 Z" fill="none" stroke="#30d830" stroke-width="1.0" stroke-linejoin="round"/>
<line x1="333.00" y1="204.60" x2="338.00" y2="204.60" stroke="#3a8a3a" stroke-width="1.0" />
<line x1="337.00" y1="203.00" x2="338.00" y2="204.60" stroke="#3a8a3a" stroke-width="1.0" />
<path d="M199.5,436.9 V442.1 M197.1,436.9 H201.9 M197.1,442.1 H201.9" fill="none" stroke="#f00000" stroke-width="1.2"/>
<path d="M197.5,441.5 L199.5,437.9 L201.5,441.5 Z" fill="none" stroke="#f00000" stroke-width="1.2" stroke-linejoin="round"/>
<path d="M217.4,415.7 V420.9 M215.0,415.7 H219.8 M215.0,420.9 H219.8" fill="none" stroke="#f00000" stroke-width="1.2"/>
<path d="M215.4,420.3 L217.4,416.7 L219.4,420.3 Z" fill="none" stroke="#f00000" stroke-width="1.2" stroke-linejoin="round"/>
<path d="M234.4,433.8 V439.0 M232.0,433.8 H236.8 M232.0,439.0 H236.8" fill="none" stroke="#f00000" stroke-width="1.2"/>
<path d="M232.4,438.4 L234.4,434.8 L236.4,438.4 Z" fill="none" stroke="#f00000" stroke-width="1.2" stroke-linejoin="round"/>
<path d="M251.4,404.6 V409.8 M249.0,404.6 H253.8 M249.0,409.8 H253.8" fill="none" stroke="#f00000" stroke-width="1.2"/>
<path d="M249.4,409.2 L251.4,405.6 L253.4,409.2 Z" fill="none" stroke="#f00000" stroke-width="1.2" stroke-linejoin="round"/>
<path d="M269.4,444.4 V449.6 M267.0,444.4 H271.8 M267.0,449.6 H271.8" fill="none" stroke="#f00000" stroke-width="1.2"/>
<path d="M267.4,449.0 L269.4,445.4 L271.4,449.0 Z" fill="none" stroke="#f00000" stroke-width="1.2" stroke-linejoin="round"/>
<path d="M286.5,405.0 V410.2 M284.1,405.0 H288.9 M284.1,410.2 H288.9" fill="none" stroke="#f00000" stroke-width="1.2"/>
<path d="M284.5,409.6 L286.5,406.0 L288.5,409.6 Z" fill="none" stroke="#f00000" stroke-width="1.2" stroke-linejoin="round"/>
<path d="M303.7,422.9 V428.1 M301.3,422.9 H306.1 M301.3,428.1 H306.1" fill="none" stroke="#f00000" stroke-width="1.2"/>
<path d="M301.7,427.5 L303.7,423.9 L305.7,427.5 Z" fill="none" stroke="#f00000" stroke-width="1.2" stroke-linejoin="round"/>
<path d="M321.6,436.8 V442.0 M319.2,436.8 H324.0 M319.2,442.0 H324.0" fill="none" stroke="#f00000" stroke-width="1.2"/>
<path d="M319.6,441.4 L321.6,437.8 L323.6,441.4 Z" fill="none" stroke="#f00000" stroke-width="1.2" stroke-linejoin="round"/>
<path d="M338.5,421.2 V426.4 M336.1,421.2 H340.9 M336.1,426.4 H340.9" fill="none" stroke="#f00000" stroke-width="1.2"/>
<path d="M336.5,425.8 L338.5,422.2 L340.5,425.8 Z" fill="none" stroke="#f00000" stroke-width="1.2" stroke-linejoin="round"/>
<path d="M195.6,435.1 V441.5 M193.2,435.1 H198.0 M193.2,441.5 H198.0" fill="none" stroke="#30d830" stroke-width="1.2"/>
<path d="M193.6,440.3 L195.6,436.7 L197.6,440.3 Z" fill="none" stroke="#30d830" stroke-width="1.1" stroke-linejoin="round"/>
<path d="M212.8,436.0 V442.4 M210.4,436.0 H215.2 M210.4,442.4 H215.2" fill="none" stroke="#30d830" stroke-width="1.2"/>
<path d="M210.8,441.2 L212.8,437.6 L214.8,441.2 Z" fill="none" stroke="#30d830" stroke-width="1.1" stroke-linejoin="round"/>
<path d="M230.3,437.6 V444.0 M227.9,437.6 H232.7 M227.9,444.0 H232.7" fill="none" stroke="#30d830" stroke-width="1.2"/>
<path d="M228.3,442.8 L230.3,439.2 L232.3,442.8 Z" fill="none" stroke="#30d830" stroke-width="1.1" stroke-linejoin="round"/>
<path d="M247.4,432.9 V438.9 M245.0,432.9 H249.8 M245.0,438.9 H249.8" fill="none" stroke="#30d830" stroke-width="1.2"/>
<path d="M245.4,437.9 L247.4,434.3 L249.4,437.9 Z" fill="none" stroke="#30d830" stroke-width="1.1" stroke-linejoin="round"/>
<path d="M264.4,434.0 V440.0 M262.0,434.0 H266.8 M262.0,440.0 H266.8" fill="none" stroke="#30d830" stroke-width="1.2"/>
<path d="M262.4,439.0 L264.4,435.4 L266.4,439.0 Z" fill="none" stroke="#30d830" stroke-width="1.1" stroke-linejoin="round"/>
<path d="M282.6,432.9 V438.9 M280.2,432.9 H285.0 M280.2,438.9 H285.0" fill="none" stroke="#30d830" stroke-width="1.2"/>
<path d="M280.6,437.9 L282.6,434.3 L284.6,437.9 Z" fill="none" stroke="#30d830" stroke-width="1.1" stroke-linejoin="round"/>
<path d="M299.6,437.5 V443.9 M297.2,437.5 H302.0 M297.2,443.9 H302.0" fill="none" stroke="#30d830" stroke-width="1.2"/>
<path d="M297.6,442.7 L299.6,439.1 L301.6,442.7 Z" fill="none" stroke="#30d830" stroke-width="1.1" stroke-linejoin="round"/>
<path d="M316.7,434.4 V440.4 M314.3,434.4 H319.1 M314.3,440.4 H319.1" fill="none" stroke="#30d830" stroke-width="1.2"/>
<path d="M314.7,439.4 L316.7,435.8 L318.7,439.4 Z" fill="none" stroke="#30d830" stroke-width="1.1" stroke-linejoin="round"/>
<path d="M334.6,477.4 V486.6 M332.2,477.4 H337.0 M332.2,486.6 H337.0" fill="none" stroke="#30d830" stroke-width="1.2"/>
<path d="M332.6,484.0 L334.6,480.4 L336.6,484.0 Z" fill="none" stroke="#30d830" stroke-width="1.1" stroke-linejoin="round"/>
<path d="M191.3,430.6 V442.6 M188.9,430.6 H193.7 M188.9,442.6 H193.7" fill="none" stroke="#1010a8" stroke-width="1.25"/>
<path d="M189.2,438.5 L191.3,434.7 L193.4,438.5 Z" fill="none" stroke="#1010a8" stroke-width="1.1" stroke-linejoin="round"/>
<path d="M208.6,438.3 V448.3 M206.2,438.3 H211.0 M206.2,448.3 H211.0" fill="none" stroke="#1010a8" stroke-width="1.25"/>
<path d="M206.5,445.1 L208.6,441.3 L210.7,445.1 Z" fill="none" stroke="#1010a8" stroke-width="1.1" stroke-linejoin="round"/>
<path d="M225.3,437.6 V446.3 M222.9,437.6 H227.7 M222.9,446.3 H227.7" fill="none" stroke="#1010a8" stroke-width="1.25"/>
<path d="M223.2,443.5 L225.3,439.7 L227.4,443.5 Z" fill="none" stroke="#1010a8" stroke-width="1.1" stroke-linejoin="round"/>
<path d="M243.3,428.3 V437.4 M240.9,428.3 H245.7 M240.9,437.4 H245.7" fill="none" stroke="#1010a8" stroke-width="1.25"/>
<path d="M241.2,435.1 L243.3,431.3 L245.4,435.1 Z" fill="none" stroke="#1010a8" stroke-width="1.1" stroke-linejoin="round"/>
<path d="M260.3,434.4 V444.2 M257.9,434.4 H262.7 M257.9,444.2 H262.7" fill="none" stroke="#1010a8" stroke-width="1.25"/>
<path d="M258.2,441.2 L260.3,437.4 L262.4,441.2 Z" fill="none" stroke="#1010a8" stroke-width="1.1" stroke-linejoin="round"/>
<path d="M277.5,427.2 V438.7 M275.1,427.2 H279.9 M275.1,438.7 H279.9" fill="none" stroke="#1010a8" stroke-width="1.25"/>
<path d="M275.4,434.4 L277.5,430.6 L279.6,434.4 Z" fill="none" stroke="#1010a8" stroke-width="1.1" stroke-linejoin="round"/>
<path d="M295.3,427.1 V438.8 M292.9,427.1 H297.7 M292.9,438.8 H297.7" fill="none" stroke="#1010a8" stroke-width="1.25"/>
<path d="M293.2,435.7 L295.3,431.9 L297.4,435.7 Z" fill="none" stroke="#1010a8" stroke-width="1.1" stroke-linejoin="round"/>
<path d="M312.4,434.3 V446.6 M310.0,434.3 H314.8 M310.0,446.6 H314.8" fill="none" stroke="#1010a8" stroke-width="1.25"/>
<path d="M310.3,442.9 L312.4,439.1 L314.5,442.9 Z" fill="none" stroke="#1010a8" stroke-width="1.1" stroke-linejoin="round"/>
<path d="M329.9,436.2 V451.4 M327.5,436.2 H332.3 M327.5,451.4 H332.3" fill="none" stroke="#1010a8" stroke-width="1.25"/>
<path d="M327.8,446.4 L329.9,442.6 L332.0,446.4 Z" fill="none" stroke="#1010a8" stroke-width="1.1" stroke-linejoin="round"/>
<path d="M660.6,441.9 L663.0,437.6 L665.4,441.9 Z" fill="none" stroke="#1818a8" stroke-width="1.15" stroke-linejoin="round"/>
<path d="M677.9,444.7 L680.3,440.4 L682.7,444.7 Z" fill="none" stroke="#1818a8" stroke-width="1.15" stroke-linejoin="round"/>
<path d="M695.1,429.7 L697.5,425.4 L699.9,429.7 Z" fill="none" stroke="#1818a8" stroke-width="1.15" stroke-linejoin="round"/>
<path d="M713.1,444.7 L715.5,440.4 L717.9,444.7 Z" fill="none" stroke="#1818a8" stroke-width="1.15" stroke-linejoin="round"/>
<path d="M730.1,441.9 L732.5,437.6 L734.9,441.9 Z" fill="none" stroke="#1818a8" stroke-width="1.15" stroke-linejoin="round"/>
<path d="M747.1,464.7 L749.5,460.4 L751.9,464.7 Z" fill="none" stroke="#1818a8" stroke-width="1.15" stroke-linejoin="round"/>
<path d="M765.1,464.7 L767.5,460.4 L769.9,464.7 Z" fill="none" stroke="#1818a8" stroke-width="1.15" stroke-linejoin="round"/>
<path d="M782.1,441.9 L784.5,437.6 L786.9,441.9 Z" fill="none" stroke="#1818a8" stroke-width="1.15" stroke-linejoin="round"/>
<path d="M799.3,435.9 L801.7,431.6 L804.1,435.9 Z" fill="none" stroke="#1818a8" stroke-width="1.15" stroke-linejoin="round"/>
<path d="M665.1,459.7 L667.5,455.4 L669.9,459.7 Z" fill="none" stroke="#38d038" stroke-width="1.15" stroke-linejoin="round"/>
<path d="M682.1,441.9 L684.5,437.6 L686.9,441.9 Z" fill="none" stroke="#38d038" stroke-width="1.15" stroke-linejoin="round"/>
<path d="M700.1,441.9 L702.5,437.6 L704.9,441.9 Z" fill="none" stroke="#38d038" stroke-width="1.15" stroke-linejoin="round"/>
<path d="M717.3,441.9 L719.7,437.6 L722.1,441.9 Z" fill="none" stroke="#38d038" stroke-width="1.15" stroke-linejoin="round"/>
<path d="M733.9,437.2 L736.3,432.9 L738.7,437.2 Z" fill="none" stroke="#38d038" stroke-width="1.15" stroke-linejoin="round"/>
<path d="M752.1,451.9 L754.5,447.6 L756.9,451.9 Z" fill="none" stroke="#38d038" stroke-width="1.15" stroke-linejoin="round"/>
<path d="M769.3,437.5 L771.7,433.2 L774.1,437.5 Z" fill="none" stroke="#38d038" stroke-width="1.15" stroke-linejoin="round"/>
<path d="M786.3,445.5 L788.7,441.2 L791.1,445.5 Z" fill="none" stroke="#38d038" stroke-width="1.15" stroke-linejoin="round"/>
<path d="M671.8,497.5 L674.2,493.2 L676.6,497.5 Z" fill="none" stroke="#d02030" stroke-width="1.15" stroke-linejoin="round"/>
<path d="M688.9,440.9 L691.3,436.6 L693.7,440.9 Z" fill="none" stroke="#d02030" stroke-width="1.15" stroke-linejoin="round"/>
<path d="M723.9,422.5 L726.3,418.2 L728.7,422.5 Z" fill="none" stroke="#d02030" stroke-width="1.15" stroke-linejoin="round"/>
<path d="M757.9,441.9 L760.3,437.6 L762.7,441.9 Z" fill="none" stroke="#d02030" stroke-width="1.15" stroke-linejoin="round"/>
<path d="M775.9,466.4 L778.3,462.1 L780.7,466.4 Z" fill="none" stroke="#d02030" stroke-width="1.15" stroke-linejoin="round"/>
<path d="M793.1,462.5 L795.5,458.2 L797.9,462.5 Z" fill="none" stroke="#d02030" stroke-width="1.15" stroke-linejoin="round"/>
<polyline points="674.0,83.0 687.6,99.2 691.5,103.1 701.9,105.7 711.0,108.9 727.8,115.4 740.0,114.1 777.8,108.9 795.6,86.7 802.5,55.0 807.5,24.5" fill="none" stroke="#d01828" stroke-width="1.0" stroke-linejoin="round" shape-rendering="crispEdges"/>
<polyline points="675.0,84.0 690.0,100.5 701.0,108.3 712.0,110.5 727.0,117.2 741.0,117.8 761.0,105.6 776.7,107.8 784.4,95.6 794.4,68.9 802.2,28.9 803.0,24.5" fill="none" stroke="#d01828" stroke-width="1.0" stroke-linejoin="round" shape-rendering="crispEdges" stroke-dasharray="5,3"/>
<polyline points="663.0,116.0 679.8,112.2 698.0,115.4 712.3,118.6 727.8,120.0 740.0,120.6 758.9,121.1 787.8,122.7 801.1,122.7" fill="none" stroke="#1010b8" stroke-width="1.0" stroke-linejoin="round" shape-rendering="crispEdges"/>
<polyline points="659.0,121.6 679.8,118.2 700.0,115.8 712.3,118.8 727.8,120.2 758.9,121.3 787.8,122.9 801.1,122.9" fill="none" stroke="#1010b8" stroke-width="1.0" stroke-linejoin="round" shape-rendering="crispEdges" stroke-dasharray="5,3"/>
<polyline points="664.3,133.6 668.2,131.0 692.8,130.3 705.8,130.7 722.6,132.9 752.2,128.9 770.0,132.2 787.8,132.2 806.7,127.3" fill="none" stroke="#30d030" stroke-width="1.0" stroke-linejoin="round" shape-rendering="crispEdges"/>
<polyline points="665.0,134.2 692.8,130.9 722.6,133.5 752.2,129.5 770.0,132.8 787.8,132.8 806.7,127.9" fill="none" stroke="#30d030" stroke-width="1.0" stroke-linejoin="round" shape-rendering="crispEdges" stroke-dasharray="5,3"/>
<polyline points="545.0,211.5 573.0,211.5" fill="none" stroke="#000000" stroke-width="1.0" stroke-linejoin="round" shape-rendering="crispEdges" stroke-dasharray="9,3,1,2.7,1,2.7,1,3.6"/>
<line x1="600.00" y1="211.50" x2="628.00" y2="211.50" stroke="#000000" stroke-width="1.0" />
<polyline points="654.2,211.5 683.0,211.5" fill="none" stroke="#000000" stroke-width="1.0" stroke-linejoin="round" shape-rendering="crispEdges" stroke-dasharray="7,7"/>
<polyline points="600.0,226.5 628.0,226.5" fill="none" stroke="#000000" stroke-width="1.0" stroke-linejoin="round" shape-rendering="crispEdges" stroke-dasharray="1,5.2"/>
<polyline points="654.2,226.5 683.0,226.5" fill="none" stroke="#000000" stroke-width="1.0" stroke-linejoin="round" shape-rendering="crispEdges" stroke-dasharray="7,3,1,3"/>
<polyline points="668.0,242.2 689.2,246.6 711.0,250.2 732.9,251.7 747.5,252.4 762.0,250.9 779.6,248.5 795.6,225.2 812.5,270.0" fill="none" stroke="#d01828" stroke-width="1.0" stroke-linejoin="round" shape-rendering="crispEdges"/>
<polyline points="668.0,245.0 689.2,249.0 711.0,252.2 732.9,253.4 747.5,253.8 762.0,252.2 781.0,249.5 789.8,239.5 806.0,262.0" fill="none" stroke="#d01828" stroke-width="1.0" stroke-linejoin="round" shape-rendering="crispEdges" stroke-dasharray="8,3"/>
<polyline points="779.0,249.0 788.5,248.6 807.9,303.6" fill="none" stroke="#d01828" stroke-width="1.0" stroke-linejoin="round" shape-rendering="crispEdges" stroke-dasharray="6,3"/>
<polyline points="785.0,256.0 806.0,318.0" fill="none" stroke="#d01828" stroke-width="1.0" stroke-linejoin="round" shape-rendering="crispEdges" stroke-dasharray="1,4"/>
<polyline points="659.4,268.9 690.7,274.0 731.5,276.5 780.3,276.1 785.4,274.0 801.7,227.2" fill="none" stroke="#1010b8" stroke-width="1.0" stroke-linejoin="round" shape-rendering="crispEdges"/>
<polyline points="660.4,270.2 690.7,275.2 731.5,277.6 780.3,277.2 786.0,276.0 800.0,252.0" fill="none" stroke="#1010b8" stroke-width="1.0" stroke-linejoin="round" shape-rendering="crispEdges" stroke-dasharray="5,3"/>
<polyline points="660.0,256.7 666.7,262.8" fill="none" stroke="#1010b8" stroke-width="1.0" stroke-linejoin="round" shape-rendering="crispEdges"/>
<polyline points="664.4,277.6 711.1,281.2 786.5,280.6" fill="none" stroke="#d01828" stroke-width="1.0" stroke-linejoin="round" shape-rendering="crispEdges" stroke-dasharray="5,4"/>
<polyline points="664.4,277.2 711.1,280.6 786.5,279.8 796.6,320.5" fill="none" stroke="#30d030" stroke-width="1.0" stroke-linejoin="round" shape-rendering="crispEdges"/>
<polyline points="660.0,266.5 690.7,274.5 731.5,276.8 780.3,276.6" fill="none" stroke="#30d030" stroke-width="1.0" stroke-linejoin="round" shape-rendering="crispEdges" stroke-dasharray="4,5"/>
<polyline points="786.5,279.0 791.6,270.0" fill="none" stroke="#30d030" stroke-width="1.0" stroke-linejoin="round" shape-rendering="crispEdges"/>
<polyline points="791.6,270.0 802.8,258.0" fill="none" stroke="#30d030" stroke-width="1.0" stroke-linejoin="round" shape-rendering="crispEdges" stroke-dasharray="1,3"/>
</svg></body></html>
